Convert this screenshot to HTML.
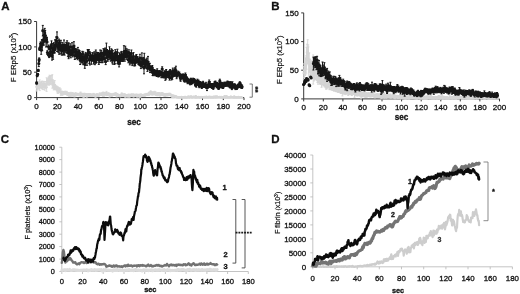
<!DOCTYPE html>
<html><head><meta charset="utf-8"><title>Figure</title>
<style>
html,body{margin:0;padding:0;background:#fff;}
body{width:520px;height:294px;overflow:hidden;font-family:"Liberation Sans",sans-serif;}
svg{display:block;filter:grayscale(1) blur(0.3px);}
svg text{font-family:"Liberation Sans",sans-serif;}
</style></head><body>
<svg width="520" height="294" viewBox="0 0 520 294">
<rect width="520" height="294" fill="#fff"/>
<text x="1.2" y="10.0" font-size="11.5" text-anchor="start" font-weight="bold" fill="#111" stroke="#111" stroke-width="0.3" >A</text>
<text x="271.2" y="9.6" font-size="11.5" text-anchor="start" font-weight="bold" fill="#111" stroke="#111" stroke-width="0.3" >B</text>
<text x="0.8" y="143.2" font-size="11.5" text-anchor="start" font-weight="bold" fill="#111" stroke="#111" stroke-width="0.3" >C</text>
<text x="271.2" y="142.8" font-size="11.5" text-anchor="start" font-weight="bold" fill="#111" stroke="#111" stroke-width="0.3" >D</text>
<path d="M36.6 21.5V97.6H244.0" stroke="#383838" stroke-width="1.0" fill="none"/><text x="31.6" y="100.47999999999999" font-size="8" text-anchor="end" font-weight="normal" fill="#111" stroke="#111" stroke-width="0.3" >0</text><text x="31.6" y="75.11333333333333" font-size="8" text-anchor="end" font-weight="normal" fill="#111" stroke="#111" stroke-width="0.3" >50</text><text x="31.6" y="49.74666666666667" font-size="8" text-anchor="end" font-weight="normal" fill="#111" stroke="#111" stroke-width="0.3" >100</text><text x="31.6" y="24.38" font-size="8" text-anchor="end" font-weight="normal" fill="#111" stroke="#111" stroke-width="0.3" >150</text><text x="36.6" y="109.4" font-size="8" text-anchor="middle" font-weight="normal" fill="#111" stroke="#111" stroke-width="0.3" >0</text><text x="57.34" y="109.4" font-size="8" text-anchor="middle" font-weight="normal" fill="#111" stroke="#111" stroke-width="0.3" >20</text><text x="78.08" y="109.4" font-size="8" text-anchor="middle" font-weight="normal" fill="#111" stroke="#111" stroke-width="0.3" >40</text><text x="98.82" y="109.4" font-size="8" text-anchor="middle" font-weight="normal" fill="#111" stroke="#111" stroke-width="0.3" >60</text><text x="119.56" y="109.4" font-size="8" text-anchor="middle" font-weight="normal" fill="#111" stroke="#111" stroke-width="0.3" >80</text><text x="140.3" y="109.4" font-size="8" text-anchor="middle" font-weight="normal" fill="#111" stroke="#111" stroke-width="0.3" >100</text><text x="161.04" y="109.4" font-size="8" text-anchor="middle" font-weight="normal" fill="#111" stroke="#111" stroke-width="0.3" >120</text><text x="181.78" y="109.4" font-size="8" text-anchor="middle" font-weight="normal" fill="#111" stroke="#111" stroke-width="0.3" >140</text><text x="202.51999999999998" y="109.4" font-size="8" text-anchor="middle" font-weight="normal" fill="#111" stroke="#111" stroke-width="0.3" >160</text><text x="223.26" y="109.4" font-size="8" text-anchor="middle" font-weight="normal" fill="#111" stroke="#111" stroke-width="0.3" >180</text><text x="244.0" y="109.4" font-size="8" text-anchor="middle" font-weight="normal" fill="#111" stroke="#111" stroke-width="0.3" >200</text><path d="M34.1 97.6H36.6M34.1 72.2H36.6M34.1 46.9H36.6M34.1 21.5H36.6M36.6 97.6v2.5M57.3 97.6v2.5M78.1 97.6v2.5M98.8 97.6v2.5M119.6 97.6v2.5M140.3 97.6v2.5M161.0 97.6v2.5M181.8 97.6v2.5M202.5 97.6v2.5M223.3 97.6v2.5M244.0 97.6v2.5" stroke="#383838" stroke-width="1.0" fill="none"/>
<path d="M36.4 82.4V91.1M35.4 82.4h2.0M35.4 91.1h2.0M37.3 84.3V88.5M36.3 84.3h2.0M36.3 88.5h2.0M37.5 83.6V89.7M36.5 83.6h2.0M36.5 89.7h2.0M38.1 83.6V88.2M37.1 83.6h2.0M37.1 88.2h2.0M38.9 81.6V89.0M37.9 81.6h2.0M37.9 89.0h2.0M39.1 83.4V88.7M38.1 83.4h2.0M38.1 88.7h2.0M39.7 79.9V90.6M38.7 79.9h2.0M38.7 90.6h2.0M40.1 83.4V87.8M39.1 83.4h2.0M39.1 87.8h2.0M40.5 82.2V87.8M39.5 82.2h2.0M39.5 87.8h2.0M41.3 81.6V87.8M40.3 81.6h2.0M40.3 87.8h2.0M41.9 81.9V88.4M40.9 81.9h2.0M40.9 88.4h2.0M42.1 81.1V88.6M41.1 81.1h2.0M41.1 88.6h2.0M42.6 83.2V89.6M41.6 83.2h2.0M41.6 89.6h2.0M43.5 81.3V87.9M42.5 81.3h2.0M42.5 87.9h2.0M43.9 83.4V89.4M42.9 83.4h2.0M42.9 89.4h2.0M44.6 81.5V87.7M43.6 81.5h2.0M43.6 87.7h2.0M44.8 83.7V90.2M43.8 83.7h2.0M43.8 90.2h2.0M45.6 83.0V87.8M44.6 83.0h2.0M44.6 87.8h2.0M46.0 81.5V88.3M45.0 81.5h2.0M45.0 88.3h2.0M46.6 77.8V91.4M45.6 77.8h2.0M45.6 91.4h2.0M47.0 80.6V87.6M46.0 80.6h2.0M46.0 87.6h2.0M47.4 79.0V84.5M46.4 79.0h2.0M46.4 84.5h2.0M48.1 78.4V84.6M47.1 78.4h2.0M47.1 84.6h2.0M48.6 77.1V84.7M47.6 77.1h2.0M47.6 84.7h2.0M49.1 76.7V85.2M48.1 76.7h2.0M48.1 85.2h2.0M49.5 75.2V84.4M48.5 75.2h2.0M48.5 84.4h2.0M49.9 76.8V83.0M48.9 76.8h2.0M48.9 83.0h2.0M50.5 75.5V84.4M49.5 75.5h2.0M49.5 84.4h2.0M51.1 75.8V83.5M50.1 75.8h2.0M50.1 83.5h2.0M51.8 75.3V84.8M50.8 75.3h2.0M50.8 84.8h2.0M52.3 74.7V88.2M51.3 74.7h2.0M51.3 88.2h2.0M52.9 79.7V85.6M51.9 79.7h2.0M51.9 85.6h2.0M53.0 80.6V87.6M52.0 80.6h2.0M52.0 87.6h2.0M53.7 82.4V89.9M52.7 82.4h2.0M52.7 89.9h2.0M54.1 81.8V88.5M53.1 81.8h2.0M53.1 88.5h2.0M54.7 80.5V89.6M53.7 80.5h2.0M53.7 89.6h2.0M55.1 84.5V89.4M54.1 84.5h2.0M54.1 89.4h2.0M55.9 86.0V89.7M54.9 86.0h2.0M54.9 89.7h2.0M56.5 85.9V89.7M55.5 85.9h2.0M55.5 89.7h2.0M56.8 86.6V90.8M55.8 86.6h2.0M55.8 90.8h2.0M57.3 88.6V93.0M56.3 88.6h2.0M56.3 93.0h2.0M58.0 86.9V93.4M57.0 86.9h2.0M57.0 93.4h2.0M58.3 87.5V92.2M57.3 87.5h2.0M57.3 92.2h2.0M59.1 89.2V92.6M58.1 89.2h2.0M58.1 92.6h2.0M59.5 88.2V92.4M58.5 88.2h2.0M58.5 92.4h2.0M59.7 87.8V91.6M58.7 87.8h2.0M58.7 91.6h2.0M60.6 91.0V94.1M59.6 91.0h2.0M59.6 94.1h2.0M60.8 89.0V95.6M59.8 89.0h2.0M59.8 95.6h2.0M61.4 91.2V93.9M60.4 91.2h2.0M60.4 93.9h2.0M61.9 91.3V94.3M60.9 91.3h2.0M60.9 94.3h2.0M62.4 92.8V95.3M61.4 92.8h2.0M61.4 95.3h2.0M62.9 91.4V94.0M61.9 91.4h2.0M61.9 94.0h2.0M63.5 91.5V94.7M62.5 91.5h2.0M62.5 94.7h2.0M63.9 91.6V93.9M62.9 91.6h2.0M62.9 93.9h2.0M64.6 91.7V93.8M63.6 91.7h2.0M63.6 93.8h2.0M65.1 91.2V93.5M64.1 91.2h2.0M64.1 93.5h2.0M65.4 92.3V94.5M64.4 92.3h2.0M64.4 94.5h2.0M66.2 92.3V94.6M65.2 92.3h2.0M65.2 94.6h2.0M66.6 91.3V93.3M65.6 91.3h2.0M65.6 93.3h2.0M67.3 92.6V95.4M66.3 92.6h2.0M66.3 95.4h2.0M67.5 92.5V94.1M66.5 92.5h2.0M66.5 94.1h2.0M68.0 93.1V95.4M67.0 93.1h2.0M67.0 95.4h2.0M68.9 93.6V96.3M67.9 93.6h2.0M67.9 96.3h2.0M69.1 92.7V94.4M68.1 92.7h2.0M68.1 94.4h2.0M70.0 94.1V96.4M69.0 94.1h2.0M69.0 96.4h2.0M70.3 93.3V95.4M69.3 93.3h2.0M69.3 95.4h2.0M70.7 92.3V96.6M69.7 92.3h2.0M69.7 96.6h2.0M71.2 93.1V94.8M70.2 93.1h2.0M70.2 94.8h2.0M71.7 93.8V96.1M70.7 93.8h2.0M70.7 96.1h2.0M72.3 92.8V94.7M71.3 92.8h2.0M71.3 94.7h2.0M72.8 92.9V94.3M71.8 92.9h2.0M71.8 94.3h2.0M73.4 93.9V96.3M72.4 93.9h2.0M72.4 96.3h2.0M74.1 93.5V95.2M73.1 93.5h2.0M73.1 95.2h2.0M74.5 93.3V97.0M73.5 93.3h2.0M73.5 97.0h2.0M75.0 94.0V95.7M74.0 94.0h2.0M74.0 95.7h2.0M75.5 92.6V96.0M74.5 92.6h2.0M74.5 96.0h2.0M76.1 94.1V95.7M75.1 94.1h2.0M75.1 95.7h2.0M76.4 93.1V95.5M75.4 93.1h2.0M75.4 95.5h2.0M76.9 93.9V95.5M75.9 93.9h2.0M75.9 95.5h2.0M77.4 93.4V95.3M76.4 93.4h2.0M76.4 95.3h2.0M78.2 93.9V95.7M77.2 93.9h2.0M77.2 95.7h2.0M78.8 93.4V95.0M77.8 93.4h2.0M77.8 95.0h2.0M78.9 93.6V94.9M77.9 93.6h2.0M77.9 94.9h2.0M79.9 94.1V96.1M78.9 94.1h2.0M78.9 96.1h2.0M80.0 93.0V94.7M79.0 93.0h2.0M79.0 94.7h2.0M80.6 92.0V95.6M79.6 92.0h2.0M79.6 95.6h2.0M81.0 94.5V96.1M80.0 94.5h2.0M80.0 96.1h2.0M81.5 93.0V95.3M80.5 93.0h2.0M80.5 95.3h2.0M82.2 93.7V95.2M81.2 93.7h2.0M81.2 95.2h2.0M82.7 93.5V94.9M81.7 93.5h2.0M81.7 94.9h2.0M83.1 94.9V97.0M82.1 94.9h2.0M82.1 97.0h2.0M83.9 94.1V97.3M82.9 94.1h2.0M82.9 97.3h2.0M84.1 93.4V94.7M83.1 93.4h2.0M83.1 94.7h2.0M85.0 93.4V95.4M84.0 93.4h2.0M84.0 95.4h2.0M85.5 94.0V95.4M84.5 94.0h2.0M84.5 95.4h2.0M85.8 94.2V95.7M84.8 94.2h2.0M84.8 95.7h2.0M86.6 93.7V97.2M85.6 93.7h2.0M85.6 97.2h2.0M86.9 93.9V96.8M85.9 93.9h2.0M85.9 96.8h2.0M87.4 94.5V96.6M86.4 94.5h2.0M86.4 96.6h2.0M87.8 94.0V96.0M86.8 94.0h2.0M86.8 96.0h2.0M88.6 93.6V95.4M87.6 93.6h2.0M87.6 95.4h2.0M88.9 94.1V95.5M87.9 94.1h2.0M87.9 95.5h2.0M89.4 94.9V96.2M88.4 94.9h2.0M88.4 96.2h2.0M90.0 93.5V96.1M89.0 93.5h2.0M89.0 96.1h2.0M90.7 94.4V96.5M89.7 94.4h2.0M89.7 96.5h2.0M91.0 94.2V95.5M90.0 94.2h2.0M90.0 95.5h2.0M91.4 94.1V95.7M90.4 94.1h2.0M90.4 95.7h2.0M92.2 94.6V96.4M91.2 94.6h2.0M91.2 96.4h2.0M92.7 94.3V95.6M91.7 94.3h2.0M91.7 95.6h2.0M93.0 94.1V96.0M92.0 94.1h2.0M92.0 96.0h2.0M93.5 93.4V94.8M92.5 93.4h2.0M92.5 94.8h2.0M94.4 93.9V95.4M93.4 93.9h2.0M93.4 95.4h2.0M94.8 95.1V96.5M93.8 95.1h2.0M93.8 96.5h2.0M95.3 95.1V96.8M94.3 95.1h2.0M94.3 96.8h2.0M95.5 95.2V97.2M94.5 95.2h2.0M94.5 97.2h2.0M96.3 94.2V96.2M95.3 94.2h2.0M95.3 96.2h2.0M96.9 93.8V95.3M95.9 93.8h2.0M95.9 95.3h2.0M97.1 94.5V96.6M96.1 94.5h2.0M96.1 96.6h2.0M97.7 93.8V95.6M96.7 93.8h2.0M96.7 95.6h2.0M98.3 94.7V96.2M97.3 94.7h2.0M97.3 96.2h2.0M98.6 94.5V95.8M97.6 94.5h2.0M97.6 95.8h2.0M99.2 94.4V95.9M98.2 94.4h2.0M98.2 95.9h2.0M99.7 93.1V94.9M98.7 93.1h2.0M98.7 94.9h2.0M100.2 93.2V95.1M99.2 93.2h2.0M99.2 95.1h2.0M100.9 93.2V95.2M99.9 93.2h2.0M99.9 95.2h2.0M101.4 93.7V95.4M100.4 93.7h2.0M100.4 95.4h2.0M102.1 93.1V94.9M101.1 93.1h2.0M101.1 94.9h2.0M102.3 92.7V94.9M101.3 92.7h2.0M101.3 94.9h2.0M102.9 92.1V96.4M101.9 92.1h2.0M101.9 96.4h2.0M103.3 92.9V94.9M102.3 92.9h2.0M102.3 94.9h2.0M104.1 92.3V96.3M103.1 92.3h2.0M103.1 96.3h2.0M104.5 92.9V94.8M103.5 92.9h2.0M103.5 94.8h2.0M105.1 93.1V94.9M104.1 93.1h2.0M104.1 94.9h2.0M105.8 92.6V95.0M104.8 92.6h2.0M104.8 95.0h2.0M106.3 93.0V94.6M105.3 93.0h2.0M105.3 94.6h2.0M106.5 91.4V95.6M105.5 91.4h2.0M105.5 95.6h2.0M107.3 93.4V95.5M106.3 93.4h2.0M106.3 95.5h2.0M107.8 93.2V95.0M106.8 93.2h2.0M106.8 95.0h2.0M108.0 93.0V94.6M107.0 93.0h2.0M107.0 94.6h2.0M108.6 94.0V95.5M107.6 94.0h2.0M107.6 95.5h2.0M109.0 93.1V95.4M108.0 93.1h2.0M108.0 95.4h2.0M109.5 93.3V97.1M108.5 93.3h2.0M108.5 97.1h2.0M110.3 93.5V95.4M109.3 93.5h2.0M109.3 95.4h2.0M110.8 94.5V96.2M109.8 94.5h2.0M109.8 96.2h2.0M111.1 93.8V95.6M110.1 93.8h2.0M110.1 95.6h2.0M111.9 94.2V96.2M110.9 94.2h2.0M110.9 96.2h2.0M112.3 94.3V95.8M111.3 94.3h2.0M111.3 95.8h2.0M112.8 93.9V95.2M111.8 93.9h2.0M111.8 95.2h2.0M113.4 94.2V95.4M112.4 94.2h2.0M112.4 95.4h2.0M113.7 93.3V95.0M112.7 93.3h2.0M112.7 95.0h2.0M114.6 93.7V95.3M113.6 93.7h2.0M113.6 95.3h2.0M115.0 93.6V95.4M114.0 93.6h2.0M114.0 95.4h2.0M115.4 92.8V94.8M114.4 92.8h2.0M114.4 94.8h2.0M116.1 92.9V94.8M115.1 92.9h2.0M115.1 94.8h2.0M116.6 94.0V96.9M115.6 94.0h2.0M115.6 96.9h2.0M116.8 93.7V95.6M115.8 93.7h2.0M115.8 95.6h2.0M117.4 93.5V95.4M116.4 93.5h2.0M116.4 95.4h2.0M117.9 94.7V95.9M116.9 94.7h2.0M116.9 95.9h2.0M118.6 94.4V96.4M117.6 94.4h2.0M117.6 96.4h2.0M119.1 94.8V96.0M118.1 94.8h2.0M118.1 96.0h2.0M119.7 94.6V96.0M118.7 94.6h2.0M118.7 96.0h2.0M120.3 95.5V96.7M119.3 95.5h2.0M119.3 96.7h2.0M120.7 94.9V96.3M119.7 94.9h2.0M119.7 96.3h2.0M121.2 94.6V96.0M120.2 94.6h2.0M120.2 96.0h2.0M121.7 93.2V94.4M120.7 93.2h2.0M120.7 94.4h2.0M122.4 93.4V95.0M121.4 93.4h2.0M121.4 95.0h2.0M122.6 94.6V96.2M121.6 94.6h2.0M121.6 96.2h2.0M123.2 94.6V96.2M122.2 94.6h2.0M122.2 96.2h2.0M123.5 94.6V96.4M122.5 94.6h2.0M122.5 96.4h2.0M124.2 94.0V96.4M123.2 94.0h2.0M123.2 96.4h2.0M124.6 93.8V95.2M123.6 93.8h2.0M123.6 95.2h2.0M125.3 95.7V97.2M124.3 95.7h2.0M124.3 97.2h2.0M125.7 94.7V96.5M124.7 94.7h2.0M124.7 96.5h2.0M126.4 94.7V96.5M125.4 94.7h2.0M125.4 96.5h2.0M126.6 94.6V95.8M125.6 94.6h2.0M125.6 95.8h2.0M127.3 95.3V96.9M126.3 95.3h2.0M126.3 96.9h2.0M127.7 95.1V96.8M126.7 95.1h2.0M126.7 96.8h2.0M128.3 94.4V95.8M127.3 94.4h2.0M127.3 95.8h2.0M128.7 94.0V97.0M127.7 94.0h2.0M127.7 97.0h2.0M129.5 95.8V97.0M128.5 95.8h2.0M128.5 97.0h2.0M130.1 94.8V96.4M129.1 94.8h2.0M129.1 96.4h2.0M130.6 94.7V95.8M129.6 94.7h2.0M129.6 95.8h2.0M130.7 94.3V95.9M129.7 94.3h2.0M129.7 95.9h2.0M131.5 93.9V95.5M130.5 93.9h2.0M130.5 95.5h2.0M131.9 95.1V96.3M130.9 95.1h2.0M130.9 96.3h2.0M132.7 94.3V95.9M131.7 94.3h2.0M131.7 95.9h2.0M133.1 94.1V95.3M132.1 94.1h2.0M132.1 95.3h2.0M133.6 95.6V96.9M132.6 95.6h2.0M132.6 96.9h2.0M134.2 94.4V95.6M133.2 94.4h2.0M133.2 95.6h2.0M134.8 94.3V96.0M133.8 94.3h2.0M133.8 96.0h2.0M135.3 94.8V96.1M134.3 94.8h2.0M134.3 96.1h2.0M135.7 94.7V96.2M134.7 94.7h2.0M134.7 96.2h2.0M136.1 94.2V96.0M135.1 94.2h2.0M135.1 96.0h2.0M136.8 94.2V95.6M135.8 94.2h2.0M135.8 95.6h2.0M137.1 95.7V97.0M136.1 95.7h2.0M136.1 97.0h2.0M137.5 95.5V96.6M136.5 95.5h2.0M136.5 96.6h2.0M138.2 94.7V96.5M137.2 94.7h2.0M137.2 96.5h2.0M138.8 94.2V97.1M137.8 94.2h2.0M137.8 97.1h2.0M139.1 94.9V96.5M138.1 94.9h2.0M138.1 96.5h2.0M140.0 95.4V97.1M139.0 95.4h2.0M139.0 97.1h2.0M140.5 94.0V97.0M139.5 94.0h2.0M139.5 97.0h2.0M140.6 94.4V95.6M139.6 94.4h2.0M139.6 95.6h2.0M141.4 94.2V95.9M140.4 94.2h2.0M140.4 95.9h2.0M141.7 94.6V95.8M140.7 94.6h2.0M140.7 95.8h2.0M142.3 95.2V96.5M141.3 95.2h2.0M141.3 96.5h2.0M143.0 94.9V96.3M142.0 94.9h2.0M142.0 96.3h2.0M143.6 94.4V95.8M142.6 94.4h2.0M142.6 95.8h2.0M143.9 95.0V96.2M142.9 95.0h2.0M142.9 96.2h2.0M144.4 94.3V96.2M143.4 94.3h2.0M143.4 96.2h2.0M144.8 93.9V95.9M143.8 93.9h2.0M143.8 95.9h2.0M145.3 94.6V95.9M144.3 94.6h2.0M144.3 95.9h2.0M146.0 94.0V95.2M145.0 94.0h2.0M145.0 95.2h2.0M146.4 93.4V95.5M145.4 93.4h2.0M145.4 95.5h2.0M147.2 93.9V95.5M146.2 93.9h2.0M146.2 95.5h2.0M147.6 93.5V95.1M146.6 93.5h2.0M146.6 95.1h2.0M148.2 93.8V95.3M147.2 93.8h2.0M147.2 95.3h2.0M148.7 92.7V95.2M147.7 92.7h2.0M147.7 95.2h2.0M148.9 92.7V95.3M147.9 92.7h2.0M147.9 95.3h2.0M149.5 92.0V93.7M148.5 92.0h2.0M148.5 93.7h2.0M150.3 92.6V94.8M149.3 92.6h2.0M149.3 94.8h2.0M150.7 90.8V93.2M149.7 90.8h2.0M149.7 93.2h2.0M151.1 91.7V93.9M150.1 91.7h2.0M150.1 93.9h2.0M151.8 92.2V95.0M150.8 92.2h2.0M150.8 95.0h2.0M152.3 91.9V94.6M151.3 91.9h2.0M151.3 94.6h2.0M152.9 92.7V95.0M151.9 92.7h2.0M151.9 95.0h2.0M153.4 91.9V94.5M152.4 91.9h2.0M152.4 94.5h2.0M153.7 92.1V94.0M152.7 92.1h2.0M152.7 94.0h2.0M154.2 92.6V94.7M153.2 92.6h2.0M153.2 94.7h2.0M154.6 91.3V93.9M153.6 91.3h2.0M153.6 93.9h2.0M155.5 91.8V94.7M154.5 91.8h2.0M154.5 94.7h2.0M155.7 93.1V95.3M154.7 93.1h2.0M154.7 95.3h2.0M156.2 93.0V95.1M155.2 93.0h2.0M155.2 95.1h2.0M157.0 93.1V95.7M156.0 93.1h2.0M156.0 95.7h2.0M157.5 93.5V95.3M156.5 93.5h2.0M156.5 95.3h2.0M158.1 92.5V95.0M157.1 92.5h2.0M157.1 95.0h2.0M158.3 93.6V95.6M157.3 93.6h2.0M157.3 95.6h2.0M159.1 92.5V95.1M158.1 92.5h2.0M158.1 95.1h2.0M159.5 93.0V95.3M158.5 93.0h2.0M158.5 95.3h2.0M159.8 93.8V96.0M158.8 93.8h2.0M158.8 96.0h2.0M160.4 93.5V95.6M159.4 93.5h2.0M159.4 95.6h2.0M161.1 92.9V94.8M160.1 92.9h2.0M160.1 94.8h2.0M161.6 93.8V95.4M160.6 93.8h2.0M160.6 95.4h2.0M162.1 92.6V94.5M161.1 92.6h2.0M161.1 94.5h2.0M162.7 92.9V94.5M161.7 92.9h2.0M161.7 94.5h2.0M162.9 93.5V95.4M161.9 93.5h2.0M161.9 95.4h2.0M163.7 93.8V95.7M162.7 93.8h2.0M162.7 95.7h2.0M164.1 94.2V96.1M163.1 94.2h2.0M163.1 96.1h2.0M164.8 93.7V95.5M163.8 93.7h2.0M163.8 95.5h2.0M165.1 94.1V96.4M164.1 94.1h2.0M164.1 96.4h2.0M165.7 93.5V94.8M164.7 93.5h2.0M164.7 94.8h2.0M166.2 93.8V95.8M165.2 93.8h2.0M165.2 95.8h2.0M166.8 93.6V95.9M165.8 93.6h2.0M165.8 95.9h2.0M167.2 93.4V95.5M166.2 93.4h2.0M166.2 95.5h2.0M167.8 93.6V95.7M166.8 93.6h2.0M166.8 95.7h2.0M168.2 93.8V95.6M167.2 93.8h2.0M167.2 95.6h2.0M169.0 93.3V95.4M168.0 93.3h2.0M168.0 95.4h2.0M169.4 93.7V95.2M168.4 93.7h2.0M168.4 95.2h2.0M169.8 93.2V95.2M168.8 93.2h2.0M168.8 95.2h2.0M170.3 93.7V95.1M169.3 93.7h2.0M169.3 95.1h2.0M170.8 94.3V95.7M169.8 94.3h2.0M169.8 95.7h2.0M171.4 94.7V96.1M170.4 94.7h2.0M170.4 96.1h2.0M172.1 95.4V97.2M171.1 95.4h2.0M171.1 97.2h2.0M172.6 95.1V97.6M171.6 95.1h2.0M171.6 97.6h2.0M172.8 95.0V96.4M171.8 95.0h2.0M171.8 96.4h2.0M173.6 95.4V97.6M172.6 95.4h2.0M172.6 97.6h2.0M174.1 96.0V96.9M173.1 96.0h2.0M173.1 96.9h2.0M174.7 95.6V96.4M173.7 95.6h2.0M173.7 96.4h2.0M175.2 95.7V96.7M174.2 95.7h2.0M174.2 96.7h2.0M175.7 96.2V97.4M174.7 96.2h2.0M174.7 97.4h2.0M176.2 96.0V96.9M175.2 96.0h2.0M175.2 96.9h2.0M176.6 96.6V97.5M175.6 96.6h2.0M175.6 97.5h2.0M176.9 96.9V97.6M175.9 96.9h2.0M175.9 97.6h2.0M177.6 97.0V97.6M176.6 97.0h2.0M176.6 97.6h2.0M178.3 97.4V97.6M177.3 97.4h2.0M177.3 97.6h2.0M178.7 96.8V97.4M177.7 96.8h2.0M177.7 97.4h2.0M179.0 96.7V97.5M178.0 96.7h2.0M178.0 97.5h2.0M179.5 97.3V97.6M178.5 97.3h2.0M178.5 97.6h2.0M180.4 97.3V97.6M179.4 97.3h2.0M179.4 97.6h2.0M180.9 97.3V97.6M179.9 97.3h2.0M179.9 97.6h2.0M181.4 96.6V97.2M180.4 96.6h2.0M180.4 97.2h2.0M181.8 97.2V97.6M180.8 97.2h2.0M180.8 97.6h2.0M182.3 97.0V97.6M181.3 97.0h2.0M181.3 97.6h2.0M183.0 97.3V97.6M182.0 97.3h2.0M182.0 97.6h2.0M183.5 97.3V97.6M182.5 97.3h2.0M182.5 97.6h2.0M183.8 96.9V97.6M182.8 96.9h2.0M182.8 97.6h2.0M184.5 97.3V97.6M183.5 97.3h2.0M183.5 97.6h2.0M185.1 96.4V97.6M184.1 96.4h2.0M184.1 97.6h2.0M185.3 97.3V97.6M184.3 97.3h2.0M184.3 97.6h2.0M186.0 97.3V97.6M185.0 97.3h2.0M185.0 97.6h2.0M186.5 97.2V97.6M185.5 97.2h2.0M185.5 97.6h2.0M187.0 97.3V97.6M186.0 97.3h2.0M186.0 97.6h2.0M187.3 97.0V97.6M186.3 97.0h2.0M186.3 97.6h2.0M188.1 96.4V96.9M187.1 96.4h2.0M187.1 96.9h2.0M188.6 96.3V97.0M187.6 96.3h2.0M187.6 97.0h2.0M189.0 97.2V97.6M188.0 97.2h2.0M188.0 97.6h2.0M189.7 97.2V97.6M188.7 97.2h2.0M188.7 97.6h2.0M189.9 96.3V97.5M188.9 96.3h2.0M188.9 97.5h2.0M190.6 96.2V97.0M189.6 96.2h2.0M189.6 97.0h2.0M191.2 96.2V97.3M190.2 96.2h2.0M190.2 97.3h2.0M191.5 96.5V97.0M190.5 96.5h2.0M190.5 97.0h2.0M192.0 97.3V97.6M191.0 97.3h2.0M191.0 97.6h2.0M192.9 96.8V97.3M191.9 96.8h2.0M191.9 97.3h2.0M193.0 97.0V97.6M192.0 97.0h2.0M192.0 97.6h2.0M193.6 96.5V97.2M192.6 96.5h2.0M192.6 97.2h2.0M194.3 96.3V97.5M193.3 96.3h2.0M193.3 97.5h2.0M194.8 96.9V97.6M193.8 96.9h2.0M193.8 97.6h2.0M195.2 97.2V97.6M194.2 97.2h2.0M194.2 97.6h2.0M195.8 95.8V96.7M194.8 95.8h2.0M194.8 96.7h2.0M196.2 97.3V97.6M195.2 97.3h2.0M195.2 97.6h2.0M196.6 97.0V97.6M195.6 97.0h2.0M195.6 97.6h2.0M197.3 96.8V97.5M196.3 96.8h2.0M196.3 97.5h2.0M197.9 97.1V97.6M196.9 97.1h2.0M196.9 97.6h2.0M198.3 97.1V97.6M197.3 97.1h2.0M197.3 97.6h2.0M198.8 96.6V97.2M197.8 96.6h2.0M197.8 97.2h2.0M199.5 96.9V97.6M198.5 96.9h2.0M198.5 97.6h2.0M200.1 96.9V97.6M199.1 96.9h2.0M199.1 97.6h2.0M200.4 97.3V97.6M199.4 97.3h2.0M199.4 97.6h2.0M201.1 96.6V97.2M200.1 96.6h2.0M200.1 97.2h2.0M201.3 97.3V97.6M200.3 97.3h2.0M200.3 97.6h2.0M202.2 97.1V97.6M201.2 97.1h2.0M201.2 97.6h2.0M202.7 96.6V97.6M201.7 96.6h2.0M201.7 97.6h2.0M203.2 96.8V97.5M202.2 96.8h2.0M202.2 97.5h2.0M203.5 97.2V97.6M202.5 97.2h2.0M202.5 97.6h2.0M204.2 96.6V97.1M203.2 96.6h2.0M203.2 97.1h2.0M204.6 97.0V97.6M203.6 97.0h2.0M203.6 97.6h2.0M205.2 97.3V97.6M204.2 97.3h2.0M204.2 97.6h2.0M205.4 97.0V97.6M204.4 97.0h2.0M204.4 97.6h2.0M206.3 96.4V97.1M205.3 96.4h2.0M205.3 97.1h2.0M206.7 97.3V97.6M205.7 97.3h2.0M205.7 97.6h2.0M207.3 97.4V97.6M206.3 97.4h2.0M206.3 97.6h2.0M207.7 97.2V97.6M206.7 97.2h2.0M206.7 97.6h2.0M208.2 96.9V97.6M207.2 96.9h2.0M207.2 97.6h2.0M208.9 96.7V97.3M207.9 96.7h2.0M207.9 97.3h2.0M209.0 96.6V97.2M208.0 96.6h2.0M208.0 97.2h2.0M209.9 96.3V97.6M208.9 96.3h2.0M208.9 97.6h2.0M210.3 97.3V97.6M209.3 97.3h2.0M209.3 97.6h2.0M211.0 97.3V97.6M210.0 97.3h2.0M210.0 97.6h2.0M211.2 96.5V97.5M210.2 96.5h2.0M210.2 97.5h2.0M211.9 97.1V97.6M210.9 97.1h2.0M210.9 97.6h2.0M212.2 96.9V97.6M211.2 96.9h2.0M211.2 97.6h2.0M212.7 97.2V97.6M211.7 97.2h2.0M211.7 97.6h2.0M213.6 96.3V97.0M212.6 96.3h2.0M212.6 97.0h2.0M213.9 97.3V97.6M212.9 97.3h2.0M212.9 97.6h2.0M214.2 96.8V97.3M213.2 96.8h2.0M213.2 97.3h2.0M215.1 96.3V96.8M214.1 96.3h2.0M214.1 96.8h2.0M215.6 96.2V97.4M214.6 96.2h2.0M214.6 97.4h2.0M215.8 97.2V97.6M214.8 97.2h2.0M214.8 97.6h2.0M216.4 96.9V97.6M215.4 96.9h2.0M215.4 97.6h2.0M216.9 96.2V96.8M215.9 96.2h2.0M215.9 96.8h2.0M217.4 96.9V97.5M216.4 96.9h2.0M216.4 97.5h2.0M218.2 97.1V97.5M217.2 97.1h2.0M217.2 97.5h2.0M218.8 96.9V97.4M217.8 96.9h2.0M217.8 97.4h2.0M219.3 96.7V97.5M218.3 96.7h2.0M218.3 97.5h2.0M219.8 96.7V97.2M218.8 96.7h2.0M218.8 97.2h2.0M220.1 96.8V97.4M219.1 96.8h2.0M219.1 97.4h2.0M220.5 97.2V97.6M219.5 97.2h2.0M219.5 97.6h2.0M221.3 96.7V97.1M220.3 96.7h2.0M220.3 97.1h2.0M221.7 97.3V97.6M220.7 97.3h2.0M220.7 97.6h2.0M222.4 97.3V97.6M221.4 97.3h2.0M221.4 97.6h2.0M222.9 97.3V97.6M221.9 97.3h2.0M221.9 97.6h2.0M223.1 96.9V97.6M222.1 96.9h2.0M222.1 97.6h2.0M223.7 96.6V97.2M222.7 96.6h2.0M222.7 97.2h2.0M224.2 97.4V97.6M223.2 97.4h2.0M223.2 97.6h2.0M224.7 95.9V96.4M223.7 95.9h2.0M223.7 96.4h2.0M225.4 97.2V97.6M224.4 97.2h2.0M224.4 97.6h2.0M225.8 97.0V97.6M224.8 97.0h2.0M224.8 97.6h2.0M226.5 96.0V96.4M225.5 96.0h2.0M225.5 96.4h2.0M226.8 97.2V97.6M225.8 97.2h2.0M225.8 97.6h2.0M227.3 97.3V97.6M226.3 97.3h2.0M226.3 97.6h2.0M227.7 97.0V97.4M226.7 97.0h2.0M226.7 97.4h2.0M228.3 97.3V97.6M227.3 97.3h2.0M227.3 97.6h2.0M229.0 97.1V97.6M228.0 97.1h2.0M228.0 97.6h2.0M229.6 96.9V97.3M228.6 96.9h2.0M228.6 97.3h2.0M229.9 97.0V97.6M228.9 97.0h2.0M228.9 97.6h2.0M230.5 96.8V97.5M229.5 96.8h2.0M229.5 97.5h2.0M230.9 96.2V96.9M229.9 96.2h2.0M229.9 96.9h2.0M231.5 97.0V97.6M230.5 97.0h2.0M230.5 97.6h2.0M232.1 97.0V97.4M231.1 97.0h2.0M231.1 97.4h2.0M232.4 96.8V97.4M231.4 96.8h2.0M231.4 97.4h2.0M233.2 97.3V97.6M232.2 97.3h2.0M232.2 97.6h2.0M233.4 97.3V97.6M232.4 97.3h2.0M232.4 97.6h2.0M234.2 96.3V96.8M233.2 96.3h2.0M233.2 96.8h2.0M234.9 97.4V97.6M233.9 97.4h2.0M233.9 97.6h2.0M235.3 97.1V97.6M234.3 97.1h2.0M234.3 97.6h2.0M235.8 96.6V97.6M234.8 96.6h2.0M234.8 97.6h2.0M236.2 97.3V97.6M235.2 97.3h2.0M235.2 97.6h2.0M236.9 97.4V97.6M235.9 97.4h2.0M235.9 97.6h2.0M237.3 97.3V97.6M236.3 97.3h2.0M236.3 97.6h2.0M237.7 97.4V97.6M236.7 97.4h2.0M236.7 97.6h2.0M238.3 96.8V97.3M237.3 96.8h2.0M237.3 97.3h2.0M239.0 97.0V97.5M238.0 97.0h2.0M238.0 97.5h2.0M239.3 97.3V97.6M238.3 97.3h2.0M238.3 97.6h2.0M240.0 97.2V97.6M239.0 97.2h2.0M239.0 97.6h2.0M240.6 97.1V97.6M239.6 97.1h2.0M239.6 97.6h2.0M241.0 96.9V97.6M240.0 96.9h2.0M240.0 97.6h2.0M241.6 97.2V97.6M240.6 97.2h2.0M240.6 97.6h2.0M242.0 97.3V97.6M241.0 97.3h2.0M241.0 97.6h2.0" stroke="#d6d6d6" stroke-width="0.9" fill="none"/><path d="M35.2 86.7a1.2 1.2 0 1 0 2.4 0a1.2 1.2 0 1 0 -2.4 0zM36.1 86.4a1.2 1.2 0 1 0 2.4 0a1.2 1.2 0 1 0 -2.4 0zM36.3 86.7a1.2 1.2 0 1 0 2.4 0a1.2 1.2 0 1 0 -2.4 0zM36.9 85.9a1.2 1.2 0 1 0 2.4 0a1.2 1.2 0 1 0 -2.4 0zM37.7 85.3a1.2 1.2 0 1 0 2.4 0a1.2 1.2 0 1 0 -2.4 0zM37.9 86.1a1.2 1.2 0 1 0 2.4 0a1.2 1.2 0 1 0 -2.4 0zM38.5 85.2a1.2 1.2 0 1 0 2.4 0a1.2 1.2 0 1 0 -2.4 0zM38.9 85.6a1.2 1.2 0 1 0 2.4 0a1.2 1.2 0 1 0 -2.4 0zM39.3 85.0a1.2 1.2 0 1 0 2.4 0a1.2 1.2 0 1 0 -2.4 0zM40.1 84.7a1.2 1.2 0 1 0 2.4 0a1.2 1.2 0 1 0 -2.4 0zM40.7 85.1a1.2 1.2 0 1 0 2.4 0a1.2 1.2 0 1 0 -2.4 0zM40.9 84.8a1.2 1.2 0 1 0 2.4 0a1.2 1.2 0 1 0 -2.4 0zM41.4 86.4a1.2 1.2 0 1 0 2.4 0a1.2 1.2 0 1 0 -2.4 0zM42.3 84.6a1.2 1.2 0 1 0 2.4 0a1.2 1.2 0 1 0 -2.4 0zM42.7 86.4a1.2 1.2 0 1 0 2.4 0a1.2 1.2 0 1 0 -2.4 0zM43.4 84.6a1.2 1.2 0 1 0 2.4 0a1.2 1.2 0 1 0 -2.4 0zM43.6 86.9a1.2 1.2 0 1 0 2.4 0a1.2 1.2 0 1 0 -2.4 0zM44.4 85.4a1.2 1.2 0 1 0 2.4 0a1.2 1.2 0 1 0 -2.4 0zM44.8 84.9a1.2 1.2 0 1 0 2.4 0a1.2 1.2 0 1 0 -2.4 0zM45.4 84.6a1.2 1.2 0 1 0 2.4 0a1.2 1.2 0 1 0 -2.4 0zM45.8 84.1a1.2 1.2 0 1 0 2.4 0a1.2 1.2 0 1 0 -2.4 0zM46.2 81.7a1.2 1.2 0 1 0 2.4 0a1.2 1.2 0 1 0 -2.4 0zM46.9 81.5a1.2 1.2 0 1 0 2.4 0a1.2 1.2 0 1 0 -2.4 0zM47.4 80.9a1.2 1.2 0 1 0 2.4 0a1.2 1.2 0 1 0 -2.4 0zM47.9 80.9a1.2 1.2 0 1 0 2.4 0a1.2 1.2 0 1 0 -2.4 0zM48.3 79.8a1.2 1.2 0 1 0 2.4 0a1.2 1.2 0 1 0 -2.4 0zM48.7 79.9a1.2 1.2 0 1 0 2.4 0a1.2 1.2 0 1 0 -2.4 0zM49.3 80.0a1.2 1.2 0 1 0 2.4 0a1.2 1.2 0 1 0 -2.4 0zM49.9 79.6a1.2 1.2 0 1 0 2.4 0a1.2 1.2 0 1 0 -2.4 0zM50.6 80.0a1.2 1.2 0 1 0 2.4 0a1.2 1.2 0 1 0 -2.4 0zM51.1 81.4a1.2 1.2 0 1 0 2.4 0a1.2 1.2 0 1 0 -2.4 0zM51.7 82.6a1.2 1.2 0 1 0 2.4 0a1.2 1.2 0 1 0 -2.4 0zM51.8 84.1a1.2 1.2 0 1 0 2.4 0a1.2 1.2 0 1 0 -2.4 0zM52.5 86.1a1.2 1.2 0 1 0 2.4 0a1.2 1.2 0 1 0 -2.4 0zM52.9 85.1a1.2 1.2 0 1 0 2.4 0a1.2 1.2 0 1 0 -2.4 0zM53.5 85.0a1.2 1.2 0 1 0 2.4 0a1.2 1.2 0 1 0 -2.4 0zM53.9 87.0a1.2 1.2 0 1 0 2.4 0a1.2 1.2 0 1 0 -2.4 0zM54.7 87.8a1.2 1.2 0 1 0 2.4 0a1.2 1.2 0 1 0 -2.4 0zM55.3 87.8a1.2 1.2 0 1 0 2.4 0a1.2 1.2 0 1 0 -2.4 0zM55.6 88.7a1.2 1.2 0 1 0 2.4 0a1.2 1.2 0 1 0 -2.4 0zM56.1 90.8a1.2 1.2 0 1 0 2.4 0a1.2 1.2 0 1 0 -2.4 0zM56.8 90.2a1.2 1.2 0 1 0 2.4 0a1.2 1.2 0 1 0 -2.4 0zM57.1 89.8a1.2 1.2 0 1 0 2.4 0a1.2 1.2 0 1 0 -2.4 0zM57.9 90.9a1.2 1.2 0 1 0 2.4 0a1.2 1.2 0 1 0 -2.4 0zM58.3 90.3a1.2 1.2 0 1 0 2.4 0a1.2 1.2 0 1 0 -2.4 0zM58.5 89.7a1.2 1.2 0 1 0 2.4 0a1.2 1.2 0 1 0 -2.4 0zM59.4 92.6a1.2 1.2 0 1 0 2.4 0a1.2 1.2 0 1 0 -2.4 0zM59.6 92.3a1.2 1.2 0 1 0 2.4 0a1.2 1.2 0 1 0 -2.4 0zM60.2 92.5a1.2 1.2 0 1 0 2.4 0a1.2 1.2 0 1 0 -2.4 0zM60.7 92.8a1.2 1.2 0 1 0 2.4 0a1.2 1.2 0 1 0 -2.4 0zM61.2 94.0a1.2 1.2 0 1 0 2.4 0a1.2 1.2 0 1 0 -2.4 0zM61.7 92.7a1.2 1.2 0 1 0 2.4 0a1.2 1.2 0 1 0 -2.4 0zM62.3 93.1a1.2 1.2 0 1 0 2.4 0a1.2 1.2 0 1 0 -2.4 0zM62.7 92.8a1.2 1.2 0 1 0 2.4 0a1.2 1.2 0 1 0 -2.4 0zM63.4 92.7a1.2 1.2 0 1 0 2.4 0a1.2 1.2 0 1 0 -2.4 0zM63.9 92.4a1.2 1.2 0 1 0 2.4 0a1.2 1.2 0 1 0 -2.4 0zM64.2 93.4a1.2 1.2 0 1 0 2.4 0a1.2 1.2 0 1 0 -2.4 0zM65.0 93.5a1.2 1.2 0 1 0 2.4 0a1.2 1.2 0 1 0 -2.4 0zM65.4 92.3a1.2 1.2 0 1 0 2.4 0a1.2 1.2 0 1 0 -2.4 0zM66.1 94.0a1.2 1.2 0 1 0 2.4 0a1.2 1.2 0 1 0 -2.4 0zM66.3 93.3a1.2 1.2 0 1 0 2.4 0a1.2 1.2 0 1 0 -2.4 0zM66.8 94.2a1.2 1.2 0 1 0 2.4 0a1.2 1.2 0 1 0 -2.4 0zM67.7 95.0a1.2 1.2 0 1 0 2.4 0a1.2 1.2 0 1 0 -2.4 0zM67.9 93.5a1.2 1.2 0 1 0 2.4 0a1.2 1.2 0 1 0 -2.4 0zM68.8 95.3a1.2 1.2 0 1 0 2.4 0a1.2 1.2 0 1 0 -2.4 0zM69.1 94.3a1.2 1.2 0 1 0 2.4 0a1.2 1.2 0 1 0 -2.4 0zM69.5 94.4a1.2 1.2 0 1 0 2.4 0a1.2 1.2 0 1 0 -2.4 0zM70.0 93.9a1.2 1.2 0 1 0 2.4 0a1.2 1.2 0 1 0 -2.4 0zM70.5 94.9a1.2 1.2 0 1 0 2.4 0a1.2 1.2 0 1 0 -2.4 0zM71.1 93.7a1.2 1.2 0 1 0 2.4 0a1.2 1.2 0 1 0 -2.4 0zM71.6 93.6a1.2 1.2 0 1 0 2.4 0a1.2 1.2 0 1 0 -2.4 0zM72.2 95.1a1.2 1.2 0 1 0 2.4 0a1.2 1.2 0 1 0 -2.4 0zM72.9 94.4a1.2 1.2 0 1 0 2.4 0a1.2 1.2 0 1 0 -2.4 0zM73.3 95.2a1.2 1.2 0 1 0 2.4 0a1.2 1.2 0 1 0 -2.4 0zM73.8 94.8a1.2 1.2 0 1 0 2.4 0a1.2 1.2 0 1 0 -2.4 0zM74.3 94.3a1.2 1.2 0 1 0 2.4 0a1.2 1.2 0 1 0 -2.4 0zM74.9 94.9a1.2 1.2 0 1 0 2.4 0a1.2 1.2 0 1 0 -2.4 0zM75.2 94.3a1.2 1.2 0 1 0 2.4 0a1.2 1.2 0 1 0 -2.4 0zM75.7 94.7a1.2 1.2 0 1 0 2.4 0a1.2 1.2 0 1 0 -2.4 0zM76.2 94.4a1.2 1.2 0 1 0 2.4 0a1.2 1.2 0 1 0 -2.4 0zM77.0 94.8a1.2 1.2 0 1 0 2.4 0a1.2 1.2 0 1 0 -2.4 0zM77.6 94.2a1.2 1.2 0 1 0 2.4 0a1.2 1.2 0 1 0 -2.4 0zM77.7 94.2a1.2 1.2 0 1 0 2.4 0a1.2 1.2 0 1 0 -2.4 0zM78.7 95.1a1.2 1.2 0 1 0 2.4 0a1.2 1.2 0 1 0 -2.4 0zM78.8 93.9a1.2 1.2 0 1 0 2.4 0a1.2 1.2 0 1 0 -2.4 0zM79.4 93.8a1.2 1.2 0 1 0 2.4 0a1.2 1.2 0 1 0 -2.4 0zM79.8 95.3a1.2 1.2 0 1 0 2.4 0a1.2 1.2 0 1 0 -2.4 0zM80.3 94.2a1.2 1.2 0 1 0 2.4 0a1.2 1.2 0 1 0 -2.4 0zM81.0 94.5a1.2 1.2 0 1 0 2.4 0a1.2 1.2 0 1 0 -2.4 0zM81.5 94.2a1.2 1.2 0 1 0 2.4 0a1.2 1.2 0 1 0 -2.4 0zM81.9 96.0a1.2 1.2 0 1 0 2.4 0a1.2 1.2 0 1 0 -2.4 0zM82.7 95.7a1.2 1.2 0 1 0 2.4 0a1.2 1.2 0 1 0 -2.4 0zM82.9 94.0a1.2 1.2 0 1 0 2.4 0a1.2 1.2 0 1 0 -2.4 0zM83.8 94.4a1.2 1.2 0 1 0 2.4 0a1.2 1.2 0 1 0 -2.4 0zM84.3 94.7a1.2 1.2 0 1 0 2.4 0a1.2 1.2 0 1 0 -2.4 0zM84.6 95.0a1.2 1.2 0 1 0 2.4 0a1.2 1.2 0 1 0 -2.4 0zM85.4 95.4a1.2 1.2 0 1 0 2.4 0a1.2 1.2 0 1 0 -2.4 0zM85.7 95.4a1.2 1.2 0 1 0 2.4 0a1.2 1.2 0 1 0 -2.4 0zM86.2 95.6a1.2 1.2 0 1 0 2.4 0a1.2 1.2 0 1 0 -2.4 0zM86.6 95.0a1.2 1.2 0 1 0 2.4 0a1.2 1.2 0 1 0 -2.4 0zM87.4 94.5a1.2 1.2 0 1 0 2.4 0a1.2 1.2 0 1 0 -2.4 0zM87.7 94.8a1.2 1.2 0 1 0 2.4 0a1.2 1.2 0 1 0 -2.4 0zM88.2 95.6a1.2 1.2 0 1 0 2.4 0a1.2 1.2 0 1 0 -2.4 0zM88.8 94.8a1.2 1.2 0 1 0 2.4 0a1.2 1.2 0 1 0 -2.4 0zM89.5 95.5a1.2 1.2 0 1 0 2.4 0a1.2 1.2 0 1 0 -2.4 0zM89.8 94.8a1.2 1.2 0 1 0 2.4 0a1.2 1.2 0 1 0 -2.4 0zM90.2 94.9a1.2 1.2 0 1 0 2.4 0a1.2 1.2 0 1 0 -2.4 0zM91.0 95.5a1.2 1.2 0 1 0 2.4 0a1.2 1.2 0 1 0 -2.4 0zM91.5 95.0a1.2 1.2 0 1 0 2.4 0a1.2 1.2 0 1 0 -2.4 0zM91.8 95.0a1.2 1.2 0 1 0 2.4 0a1.2 1.2 0 1 0 -2.4 0zM92.3 94.1a1.2 1.2 0 1 0 2.4 0a1.2 1.2 0 1 0 -2.4 0zM93.2 94.6a1.2 1.2 0 1 0 2.4 0a1.2 1.2 0 1 0 -2.4 0zM93.6 95.8a1.2 1.2 0 1 0 2.4 0a1.2 1.2 0 1 0 -2.4 0zM94.1 96.0a1.2 1.2 0 1 0 2.4 0a1.2 1.2 0 1 0 -2.4 0zM94.3 96.2a1.2 1.2 0 1 0 2.4 0a1.2 1.2 0 1 0 -2.4 0zM95.1 95.2a1.2 1.2 0 1 0 2.4 0a1.2 1.2 0 1 0 -2.4 0zM95.7 94.5a1.2 1.2 0 1 0 2.4 0a1.2 1.2 0 1 0 -2.4 0zM95.9 95.5a1.2 1.2 0 1 0 2.4 0a1.2 1.2 0 1 0 -2.4 0zM96.5 94.7a1.2 1.2 0 1 0 2.4 0a1.2 1.2 0 1 0 -2.4 0zM97.1 95.5a1.2 1.2 0 1 0 2.4 0a1.2 1.2 0 1 0 -2.4 0zM97.4 95.1a1.2 1.2 0 1 0 2.4 0a1.2 1.2 0 1 0 -2.4 0zM98.0 95.2a1.2 1.2 0 1 0 2.4 0a1.2 1.2 0 1 0 -2.4 0zM98.5 94.0a1.2 1.2 0 1 0 2.4 0a1.2 1.2 0 1 0 -2.4 0zM99.0 94.1a1.2 1.2 0 1 0 2.4 0a1.2 1.2 0 1 0 -2.4 0zM99.7 94.2a1.2 1.2 0 1 0 2.4 0a1.2 1.2 0 1 0 -2.4 0zM100.2 94.5a1.2 1.2 0 1 0 2.4 0a1.2 1.2 0 1 0 -2.4 0zM100.9 94.0a1.2 1.2 0 1 0 2.4 0a1.2 1.2 0 1 0 -2.4 0zM101.1 93.8a1.2 1.2 0 1 0 2.4 0a1.2 1.2 0 1 0 -2.4 0zM101.7 94.3a1.2 1.2 0 1 0 2.4 0a1.2 1.2 0 1 0 -2.4 0zM102.1 93.9a1.2 1.2 0 1 0 2.4 0a1.2 1.2 0 1 0 -2.4 0zM102.9 94.3a1.2 1.2 0 1 0 2.4 0a1.2 1.2 0 1 0 -2.4 0zM103.3 93.9a1.2 1.2 0 1 0 2.4 0a1.2 1.2 0 1 0 -2.4 0zM103.9 94.0a1.2 1.2 0 1 0 2.4 0a1.2 1.2 0 1 0 -2.4 0zM104.6 93.8a1.2 1.2 0 1 0 2.4 0a1.2 1.2 0 1 0 -2.4 0zM105.1 93.8a1.2 1.2 0 1 0 2.4 0a1.2 1.2 0 1 0 -2.4 0zM105.3 93.5a1.2 1.2 0 1 0 2.4 0a1.2 1.2 0 1 0 -2.4 0zM106.1 94.5a1.2 1.2 0 1 0 2.4 0a1.2 1.2 0 1 0 -2.4 0zM106.6 94.1a1.2 1.2 0 1 0 2.4 0a1.2 1.2 0 1 0 -2.4 0zM106.8 93.8a1.2 1.2 0 1 0 2.4 0a1.2 1.2 0 1 0 -2.4 0zM107.4 94.7a1.2 1.2 0 1 0 2.4 0a1.2 1.2 0 1 0 -2.4 0zM107.8 94.3a1.2 1.2 0 1 0 2.4 0a1.2 1.2 0 1 0 -2.4 0zM108.3 95.2a1.2 1.2 0 1 0 2.4 0a1.2 1.2 0 1 0 -2.4 0zM109.1 94.4a1.2 1.2 0 1 0 2.4 0a1.2 1.2 0 1 0 -2.4 0zM109.6 95.3a1.2 1.2 0 1 0 2.4 0a1.2 1.2 0 1 0 -2.4 0zM109.9 94.7a1.2 1.2 0 1 0 2.4 0a1.2 1.2 0 1 0 -2.4 0zM110.7 95.2a1.2 1.2 0 1 0 2.4 0a1.2 1.2 0 1 0 -2.4 0zM111.1 95.1a1.2 1.2 0 1 0 2.4 0a1.2 1.2 0 1 0 -2.4 0zM111.6 94.6a1.2 1.2 0 1 0 2.4 0a1.2 1.2 0 1 0 -2.4 0zM112.2 94.8a1.2 1.2 0 1 0 2.4 0a1.2 1.2 0 1 0 -2.4 0zM112.5 94.1a1.2 1.2 0 1 0 2.4 0a1.2 1.2 0 1 0 -2.4 0zM113.4 94.5a1.2 1.2 0 1 0 2.4 0a1.2 1.2 0 1 0 -2.4 0zM113.8 94.5a1.2 1.2 0 1 0 2.4 0a1.2 1.2 0 1 0 -2.4 0zM114.2 93.8a1.2 1.2 0 1 0 2.4 0a1.2 1.2 0 1 0 -2.4 0zM114.9 93.9a1.2 1.2 0 1 0 2.4 0a1.2 1.2 0 1 0 -2.4 0zM115.4 95.4a1.2 1.2 0 1 0 2.4 0a1.2 1.2 0 1 0 -2.4 0zM115.6 94.7a1.2 1.2 0 1 0 2.4 0a1.2 1.2 0 1 0 -2.4 0zM116.2 94.5a1.2 1.2 0 1 0 2.4 0a1.2 1.2 0 1 0 -2.4 0zM116.7 95.3a1.2 1.2 0 1 0 2.4 0a1.2 1.2 0 1 0 -2.4 0zM117.4 95.4a1.2 1.2 0 1 0 2.4 0a1.2 1.2 0 1 0 -2.4 0zM117.9 95.4a1.2 1.2 0 1 0 2.4 0a1.2 1.2 0 1 0 -2.4 0zM118.5 95.3a1.2 1.2 0 1 0 2.4 0a1.2 1.2 0 1 0 -2.4 0zM119.1 96.1a1.2 1.2 0 1 0 2.4 0a1.2 1.2 0 1 0 -2.4 0zM119.5 95.6a1.2 1.2 0 1 0 2.4 0a1.2 1.2 0 1 0 -2.4 0zM120.0 95.3a1.2 1.2 0 1 0 2.4 0a1.2 1.2 0 1 0 -2.4 0zM120.5 93.8a1.2 1.2 0 1 0 2.4 0a1.2 1.2 0 1 0 -2.4 0zM121.2 94.2a1.2 1.2 0 1 0 2.4 0a1.2 1.2 0 1 0 -2.4 0zM121.4 95.4a1.2 1.2 0 1 0 2.4 0a1.2 1.2 0 1 0 -2.4 0zM122.0 95.4a1.2 1.2 0 1 0 2.4 0a1.2 1.2 0 1 0 -2.4 0zM122.3 95.5a1.2 1.2 0 1 0 2.4 0a1.2 1.2 0 1 0 -2.4 0zM123.0 95.2a1.2 1.2 0 1 0 2.4 0a1.2 1.2 0 1 0 -2.4 0zM123.4 94.5a1.2 1.2 0 1 0 2.4 0a1.2 1.2 0 1 0 -2.4 0zM124.1 96.4a1.2 1.2 0 1 0 2.4 0a1.2 1.2 0 1 0 -2.4 0zM124.5 95.6a1.2 1.2 0 1 0 2.4 0a1.2 1.2 0 1 0 -2.4 0zM125.2 95.6a1.2 1.2 0 1 0 2.4 0a1.2 1.2 0 1 0 -2.4 0zM125.4 95.2a1.2 1.2 0 1 0 2.4 0a1.2 1.2 0 1 0 -2.4 0zM126.1 96.1a1.2 1.2 0 1 0 2.4 0a1.2 1.2 0 1 0 -2.4 0zM126.5 95.9a1.2 1.2 0 1 0 2.4 0a1.2 1.2 0 1 0 -2.4 0zM127.1 95.1a1.2 1.2 0 1 0 2.4 0a1.2 1.2 0 1 0 -2.4 0zM127.5 95.5a1.2 1.2 0 1 0 2.4 0a1.2 1.2 0 1 0 -2.4 0zM128.3 96.4a1.2 1.2 0 1 0 2.4 0a1.2 1.2 0 1 0 -2.4 0zM128.9 95.6a1.2 1.2 0 1 0 2.4 0a1.2 1.2 0 1 0 -2.4 0zM129.4 95.2a1.2 1.2 0 1 0 2.4 0a1.2 1.2 0 1 0 -2.4 0zM129.5 95.1a1.2 1.2 0 1 0 2.4 0a1.2 1.2 0 1 0 -2.4 0zM130.3 94.7a1.2 1.2 0 1 0 2.4 0a1.2 1.2 0 1 0 -2.4 0zM130.7 95.7a1.2 1.2 0 1 0 2.4 0a1.2 1.2 0 1 0 -2.4 0zM131.5 95.1a1.2 1.2 0 1 0 2.4 0a1.2 1.2 0 1 0 -2.4 0zM131.9 94.7a1.2 1.2 0 1 0 2.4 0a1.2 1.2 0 1 0 -2.4 0zM132.4 96.2a1.2 1.2 0 1 0 2.4 0a1.2 1.2 0 1 0 -2.4 0zM133.0 95.0a1.2 1.2 0 1 0 2.4 0a1.2 1.2 0 1 0 -2.4 0zM133.6 95.1a1.2 1.2 0 1 0 2.4 0a1.2 1.2 0 1 0 -2.4 0zM134.1 95.4a1.2 1.2 0 1 0 2.4 0a1.2 1.2 0 1 0 -2.4 0zM134.5 95.4a1.2 1.2 0 1 0 2.4 0a1.2 1.2 0 1 0 -2.4 0zM134.9 95.1a1.2 1.2 0 1 0 2.4 0a1.2 1.2 0 1 0 -2.4 0zM135.6 94.9a1.2 1.2 0 1 0 2.4 0a1.2 1.2 0 1 0 -2.4 0zM135.9 96.3a1.2 1.2 0 1 0 2.4 0a1.2 1.2 0 1 0 -2.4 0zM136.3 96.0a1.2 1.2 0 1 0 2.4 0a1.2 1.2 0 1 0 -2.4 0zM137.0 95.6a1.2 1.2 0 1 0 2.4 0a1.2 1.2 0 1 0 -2.4 0zM137.6 95.6a1.2 1.2 0 1 0 2.4 0a1.2 1.2 0 1 0 -2.4 0zM137.9 95.7a1.2 1.2 0 1 0 2.4 0a1.2 1.2 0 1 0 -2.4 0zM138.8 96.3a1.2 1.2 0 1 0 2.4 0a1.2 1.2 0 1 0 -2.4 0zM139.3 95.5a1.2 1.2 0 1 0 2.4 0a1.2 1.2 0 1 0 -2.4 0zM139.4 95.0a1.2 1.2 0 1 0 2.4 0a1.2 1.2 0 1 0 -2.4 0zM140.2 95.0a1.2 1.2 0 1 0 2.4 0a1.2 1.2 0 1 0 -2.4 0zM140.5 95.2a1.2 1.2 0 1 0 2.4 0a1.2 1.2 0 1 0 -2.4 0zM141.1 95.9a1.2 1.2 0 1 0 2.4 0a1.2 1.2 0 1 0 -2.4 0zM141.8 95.6a1.2 1.2 0 1 0 2.4 0a1.2 1.2 0 1 0 -2.4 0zM142.4 95.1a1.2 1.2 0 1 0 2.4 0a1.2 1.2 0 1 0 -2.4 0zM142.7 95.6a1.2 1.2 0 1 0 2.4 0a1.2 1.2 0 1 0 -2.4 0zM143.2 95.3a1.2 1.2 0 1 0 2.4 0a1.2 1.2 0 1 0 -2.4 0zM143.6 94.9a1.2 1.2 0 1 0 2.4 0a1.2 1.2 0 1 0 -2.4 0zM144.1 95.2a1.2 1.2 0 1 0 2.4 0a1.2 1.2 0 1 0 -2.4 0zM144.8 94.6a1.2 1.2 0 1 0 2.4 0a1.2 1.2 0 1 0 -2.4 0zM145.2 94.5a1.2 1.2 0 1 0 2.4 0a1.2 1.2 0 1 0 -2.4 0zM146.0 94.7a1.2 1.2 0 1 0 2.4 0a1.2 1.2 0 1 0 -2.4 0zM146.4 94.3a1.2 1.2 0 1 0 2.4 0a1.2 1.2 0 1 0 -2.4 0zM147.0 94.5a1.2 1.2 0 1 0 2.4 0a1.2 1.2 0 1 0 -2.4 0zM147.5 93.9a1.2 1.2 0 1 0 2.4 0a1.2 1.2 0 1 0 -2.4 0zM147.7 94.0a1.2 1.2 0 1 0 2.4 0a1.2 1.2 0 1 0 -2.4 0zM148.3 92.8a1.2 1.2 0 1 0 2.4 0a1.2 1.2 0 1 0 -2.4 0zM149.1 93.7a1.2 1.2 0 1 0 2.4 0a1.2 1.2 0 1 0 -2.4 0zM149.5 92.0a1.2 1.2 0 1 0 2.4 0a1.2 1.2 0 1 0 -2.4 0zM149.9 92.8a1.2 1.2 0 1 0 2.4 0a1.2 1.2 0 1 0 -2.4 0zM150.6 93.6a1.2 1.2 0 1 0 2.4 0a1.2 1.2 0 1 0 -2.4 0zM151.1 93.3a1.2 1.2 0 1 0 2.4 0a1.2 1.2 0 1 0 -2.4 0zM151.7 93.8a1.2 1.2 0 1 0 2.4 0a1.2 1.2 0 1 0 -2.4 0zM152.2 93.2a1.2 1.2 0 1 0 2.4 0a1.2 1.2 0 1 0 -2.4 0zM152.5 93.0a1.2 1.2 0 1 0 2.4 0a1.2 1.2 0 1 0 -2.4 0zM153.0 93.7a1.2 1.2 0 1 0 2.4 0a1.2 1.2 0 1 0 -2.4 0zM153.4 92.6a1.2 1.2 0 1 0 2.4 0a1.2 1.2 0 1 0 -2.4 0zM154.3 93.3a1.2 1.2 0 1 0 2.4 0a1.2 1.2 0 1 0 -2.4 0zM154.5 94.2a1.2 1.2 0 1 0 2.4 0a1.2 1.2 0 1 0 -2.4 0zM155.0 94.0a1.2 1.2 0 1 0 2.4 0a1.2 1.2 0 1 0 -2.4 0zM155.8 94.4a1.2 1.2 0 1 0 2.4 0a1.2 1.2 0 1 0 -2.4 0zM156.3 94.4a1.2 1.2 0 1 0 2.4 0a1.2 1.2 0 1 0 -2.4 0zM156.9 93.8a1.2 1.2 0 1 0 2.4 0a1.2 1.2 0 1 0 -2.4 0zM157.1 94.6a1.2 1.2 0 1 0 2.4 0a1.2 1.2 0 1 0 -2.4 0zM157.9 93.8a1.2 1.2 0 1 0 2.4 0a1.2 1.2 0 1 0 -2.4 0zM158.3 94.1a1.2 1.2 0 1 0 2.4 0a1.2 1.2 0 1 0 -2.4 0zM158.6 94.9a1.2 1.2 0 1 0 2.4 0a1.2 1.2 0 1 0 -2.4 0zM159.2 94.6a1.2 1.2 0 1 0 2.4 0a1.2 1.2 0 1 0 -2.4 0zM159.9 93.8a1.2 1.2 0 1 0 2.4 0a1.2 1.2 0 1 0 -2.4 0zM160.4 94.6a1.2 1.2 0 1 0 2.4 0a1.2 1.2 0 1 0 -2.4 0zM160.9 93.5a1.2 1.2 0 1 0 2.4 0a1.2 1.2 0 1 0 -2.4 0zM161.5 93.7a1.2 1.2 0 1 0 2.4 0a1.2 1.2 0 1 0 -2.4 0zM161.7 94.5a1.2 1.2 0 1 0 2.4 0a1.2 1.2 0 1 0 -2.4 0zM162.5 94.7a1.2 1.2 0 1 0 2.4 0a1.2 1.2 0 1 0 -2.4 0zM162.9 95.1a1.2 1.2 0 1 0 2.4 0a1.2 1.2 0 1 0 -2.4 0zM163.6 94.6a1.2 1.2 0 1 0 2.4 0a1.2 1.2 0 1 0 -2.4 0zM163.9 95.3a1.2 1.2 0 1 0 2.4 0a1.2 1.2 0 1 0 -2.4 0zM164.5 94.2a1.2 1.2 0 1 0 2.4 0a1.2 1.2 0 1 0 -2.4 0zM165.0 94.8a1.2 1.2 0 1 0 2.4 0a1.2 1.2 0 1 0 -2.4 0zM165.6 94.8a1.2 1.2 0 1 0 2.4 0a1.2 1.2 0 1 0 -2.4 0zM166.0 94.4a1.2 1.2 0 1 0 2.4 0a1.2 1.2 0 1 0 -2.4 0zM166.6 94.7a1.2 1.2 0 1 0 2.4 0a1.2 1.2 0 1 0 -2.4 0zM167.0 94.7a1.2 1.2 0 1 0 2.4 0a1.2 1.2 0 1 0 -2.4 0zM167.8 94.4a1.2 1.2 0 1 0 2.4 0a1.2 1.2 0 1 0 -2.4 0zM168.2 94.5a1.2 1.2 0 1 0 2.4 0a1.2 1.2 0 1 0 -2.4 0zM168.6 94.2a1.2 1.2 0 1 0 2.4 0a1.2 1.2 0 1 0 -2.4 0zM169.1 94.4a1.2 1.2 0 1 0 2.4 0a1.2 1.2 0 1 0 -2.4 0zM169.6 95.0a1.2 1.2 0 1 0 2.4 0a1.2 1.2 0 1 0 -2.4 0zM170.2 95.4a1.2 1.2 0 1 0 2.4 0a1.2 1.2 0 1 0 -2.4 0zM170.9 96.3a1.2 1.2 0 1 0 2.4 0a1.2 1.2 0 1 0 -2.4 0zM171.4 96.4a1.2 1.2 0 1 0 2.4 0a1.2 1.2 0 1 0 -2.4 0zM171.6 95.7a1.2 1.2 0 1 0 2.4 0a1.2 1.2 0 1 0 -2.4 0zM172.4 96.6a1.2 1.2 0 1 0 2.4 0a1.2 1.2 0 1 0 -2.4 0zM172.9 96.5a1.2 1.2 0 1 0 2.4 0a1.2 1.2 0 1 0 -2.4 0zM173.5 96.0a1.2 1.2 0 1 0 2.4 0a1.2 1.2 0 1 0 -2.4 0zM174.0 96.2a1.2 1.2 0 1 0 2.4 0a1.2 1.2 0 1 0 -2.4 0zM174.5 96.8a1.2 1.2 0 1 0 2.4 0a1.2 1.2 0 1 0 -2.4 0zM175.0 96.4a1.2 1.2 0 1 0 2.4 0a1.2 1.2 0 1 0 -2.4 0zM175.4 97.0a1.2 1.2 0 1 0 2.4 0a1.2 1.2 0 1 0 -2.4 0zM175.7 97.3a1.2 1.2 0 1 0 2.4 0a1.2 1.2 0 1 0 -2.4 0zM176.4 97.3a1.2 1.2 0 1 0 2.4 0a1.2 1.2 0 1 0 -2.4 0zM177.1 97.6a1.2 1.2 0 1 0 2.4 0a1.2 1.2 0 1 0 -2.4 0zM177.5 97.1a1.2 1.2 0 1 0 2.4 0a1.2 1.2 0 1 0 -2.4 0zM177.8 97.1a1.2 1.2 0 1 0 2.4 0a1.2 1.2 0 1 0 -2.4 0zM178.3 97.6a1.2 1.2 0 1 0 2.4 0a1.2 1.2 0 1 0 -2.4 0zM179.2 97.6a1.2 1.2 0 1 0 2.4 0a1.2 1.2 0 1 0 -2.4 0zM179.7 97.6a1.2 1.2 0 1 0 2.4 0a1.2 1.2 0 1 0 -2.4 0zM180.2 96.9a1.2 1.2 0 1 0 2.4 0a1.2 1.2 0 1 0 -2.4 0zM180.6 97.5a1.2 1.2 0 1 0 2.4 0a1.2 1.2 0 1 0 -2.4 0zM181.1 97.3a1.2 1.2 0 1 0 2.4 0a1.2 1.2 0 1 0 -2.4 0zM181.8 97.6a1.2 1.2 0 1 0 2.4 0a1.2 1.2 0 1 0 -2.4 0zM182.3 97.6a1.2 1.2 0 1 0 2.4 0a1.2 1.2 0 1 0 -2.4 0zM182.6 97.3a1.2 1.2 0 1 0 2.4 0a1.2 1.2 0 1 0 -2.4 0zM183.3 97.6a1.2 1.2 0 1 0 2.4 0a1.2 1.2 0 1 0 -2.4 0zM183.9 97.0a1.2 1.2 0 1 0 2.4 0a1.2 1.2 0 1 0 -2.4 0zM184.1 97.5a1.2 1.2 0 1 0 2.4 0a1.2 1.2 0 1 0 -2.4 0zM184.8 97.6a1.2 1.2 0 1 0 2.4 0a1.2 1.2 0 1 0 -2.4 0zM185.3 97.5a1.2 1.2 0 1 0 2.4 0a1.2 1.2 0 1 0 -2.4 0zM185.8 97.6a1.2 1.2 0 1 0 2.4 0a1.2 1.2 0 1 0 -2.4 0zM186.1 97.3a1.2 1.2 0 1 0 2.4 0a1.2 1.2 0 1 0 -2.4 0zM186.9 96.7a1.2 1.2 0 1 0 2.4 0a1.2 1.2 0 1 0 -2.4 0zM187.4 96.7a1.2 1.2 0 1 0 2.4 0a1.2 1.2 0 1 0 -2.4 0zM187.8 97.4a1.2 1.2 0 1 0 2.4 0a1.2 1.2 0 1 0 -2.4 0zM188.5 97.5a1.2 1.2 0 1 0 2.4 0a1.2 1.2 0 1 0 -2.4 0zM188.7 96.9a1.2 1.2 0 1 0 2.4 0a1.2 1.2 0 1 0 -2.4 0zM189.4 96.6a1.2 1.2 0 1 0 2.4 0a1.2 1.2 0 1 0 -2.4 0zM190.0 96.7a1.2 1.2 0 1 0 2.4 0a1.2 1.2 0 1 0 -2.4 0zM190.3 96.8a1.2 1.2 0 1 0 2.4 0a1.2 1.2 0 1 0 -2.4 0zM190.8 97.6a1.2 1.2 0 1 0 2.4 0a1.2 1.2 0 1 0 -2.4 0zM191.7 97.0a1.2 1.2 0 1 0 2.4 0a1.2 1.2 0 1 0 -2.4 0zM191.8 97.3a1.2 1.2 0 1 0 2.4 0a1.2 1.2 0 1 0 -2.4 0zM192.4 96.8a1.2 1.2 0 1 0 2.4 0a1.2 1.2 0 1 0 -2.4 0zM193.1 96.9a1.2 1.2 0 1 0 2.4 0a1.2 1.2 0 1 0 -2.4 0zM193.6 97.2a1.2 1.2 0 1 0 2.4 0a1.2 1.2 0 1 0 -2.4 0zM194.0 97.6a1.2 1.2 0 1 0 2.4 0a1.2 1.2 0 1 0 -2.4 0zM194.6 96.2a1.2 1.2 0 1 0 2.4 0a1.2 1.2 0 1 0 -2.4 0zM195.0 97.5a1.2 1.2 0 1 0 2.4 0a1.2 1.2 0 1 0 -2.4 0zM195.4 97.3a1.2 1.2 0 1 0 2.4 0a1.2 1.2 0 1 0 -2.4 0zM196.1 97.2a1.2 1.2 0 1 0 2.4 0a1.2 1.2 0 1 0 -2.4 0zM196.7 97.4a1.2 1.2 0 1 0 2.4 0a1.2 1.2 0 1 0 -2.4 0zM197.1 97.4a1.2 1.2 0 1 0 2.4 0a1.2 1.2 0 1 0 -2.4 0zM197.6 96.9a1.2 1.2 0 1 0 2.4 0a1.2 1.2 0 1 0 -2.4 0zM198.3 97.6a1.2 1.2 0 1 0 2.4 0a1.2 1.2 0 1 0 -2.4 0zM198.9 97.3a1.2 1.2 0 1 0 2.4 0a1.2 1.2 0 1 0 -2.4 0zM199.2 97.6a1.2 1.2 0 1 0 2.4 0a1.2 1.2 0 1 0 -2.4 0zM199.9 96.9a1.2 1.2 0 1 0 2.4 0a1.2 1.2 0 1 0 -2.4 0zM200.1 97.6a1.2 1.2 0 1 0 2.4 0a1.2 1.2 0 1 0 -2.4 0zM201.0 97.4a1.2 1.2 0 1 0 2.4 0a1.2 1.2 0 1 0 -2.4 0zM201.5 97.2a1.2 1.2 0 1 0 2.4 0a1.2 1.2 0 1 0 -2.4 0zM202.0 97.2a1.2 1.2 0 1 0 2.4 0a1.2 1.2 0 1 0 -2.4 0zM202.3 97.6a1.2 1.2 0 1 0 2.4 0a1.2 1.2 0 1 0 -2.4 0zM203.0 96.9a1.2 1.2 0 1 0 2.4 0a1.2 1.2 0 1 0 -2.4 0zM203.4 97.3a1.2 1.2 0 1 0 2.4 0a1.2 1.2 0 1 0 -2.4 0zM204.0 97.6a1.2 1.2 0 1 0 2.4 0a1.2 1.2 0 1 0 -2.4 0zM204.2 97.3a1.2 1.2 0 1 0 2.4 0a1.2 1.2 0 1 0 -2.4 0zM205.1 96.8a1.2 1.2 0 1 0 2.4 0a1.2 1.2 0 1 0 -2.4 0zM205.5 97.6a1.2 1.2 0 1 0 2.4 0a1.2 1.2 0 1 0 -2.4 0zM206.1 97.6a1.2 1.2 0 1 0 2.4 0a1.2 1.2 0 1 0 -2.4 0zM206.5 97.5a1.2 1.2 0 1 0 2.4 0a1.2 1.2 0 1 0 -2.4 0zM207.0 97.5a1.2 1.2 0 1 0 2.4 0a1.2 1.2 0 1 0 -2.4 0zM207.7 97.0a1.2 1.2 0 1 0 2.4 0a1.2 1.2 0 1 0 -2.4 0zM207.8 96.9a1.2 1.2 0 1 0 2.4 0a1.2 1.2 0 1 0 -2.4 0zM208.7 96.9a1.2 1.2 0 1 0 2.4 0a1.2 1.2 0 1 0 -2.4 0zM209.1 97.6a1.2 1.2 0 1 0 2.4 0a1.2 1.2 0 1 0 -2.4 0zM209.8 97.6a1.2 1.2 0 1 0 2.4 0a1.2 1.2 0 1 0 -2.4 0zM210.0 97.0a1.2 1.2 0 1 0 2.4 0a1.2 1.2 0 1 0 -2.4 0zM210.7 97.4a1.2 1.2 0 1 0 2.4 0a1.2 1.2 0 1 0 -2.4 0zM211.0 97.2a1.2 1.2 0 1 0 2.4 0a1.2 1.2 0 1 0 -2.4 0zM211.5 97.5a1.2 1.2 0 1 0 2.4 0a1.2 1.2 0 1 0 -2.4 0zM212.4 96.6a1.2 1.2 0 1 0 2.4 0a1.2 1.2 0 1 0 -2.4 0zM212.7 97.6a1.2 1.2 0 1 0 2.4 0a1.2 1.2 0 1 0 -2.4 0zM213.0 97.1a1.2 1.2 0 1 0 2.4 0a1.2 1.2 0 1 0 -2.4 0zM213.9 96.6a1.2 1.2 0 1 0 2.4 0a1.2 1.2 0 1 0 -2.4 0zM214.4 96.8a1.2 1.2 0 1 0 2.4 0a1.2 1.2 0 1 0 -2.4 0zM214.6 97.6a1.2 1.2 0 1 0 2.4 0a1.2 1.2 0 1 0 -2.4 0zM215.2 97.2a1.2 1.2 0 1 0 2.4 0a1.2 1.2 0 1 0 -2.4 0zM215.7 96.5a1.2 1.2 0 1 0 2.4 0a1.2 1.2 0 1 0 -2.4 0zM216.2 97.2a1.2 1.2 0 1 0 2.4 0a1.2 1.2 0 1 0 -2.4 0zM217.0 97.3a1.2 1.2 0 1 0 2.4 0a1.2 1.2 0 1 0 -2.4 0zM217.6 97.1a1.2 1.2 0 1 0 2.4 0a1.2 1.2 0 1 0 -2.4 0zM218.1 97.1a1.2 1.2 0 1 0 2.4 0a1.2 1.2 0 1 0 -2.4 0zM218.6 97.0a1.2 1.2 0 1 0 2.4 0a1.2 1.2 0 1 0 -2.4 0zM218.9 97.1a1.2 1.2 0 1 0 2.4 0a1.2 1.2 0 1 0 -2.4 0zM219.3 97.5a1.2 1.2 0 1 0 2.4 0a1.2 1.2 0 1 0 -2.4 0zM220.1 96.9a1.2 1.2 0 1 0 2.4 0a1.2 1.2 0 1 0 -2.4 0zM220.5 97.6a1.2 1.2 0 1 0 2.4 0a1.2 1.2 0 1 0 -2.4 0zM221.2 97.6a1.2 1.2 0 1 0 2.4 0a1.2 1.2 0 1 0 -2.4 0zM221.7 97.6a1.2 1.2 0 1 0 2.4 0a1.2 1.2 0 1 0 -2.4 0zM221.9 97.3a1.2 1.2 0 1 0 2.4 0a1.2 1.2 0 1 0 -2.4 0zM222.5 96.9a1.2 1.2 0 1 0 2.4 0a1.2 1.2 0 1 0 -2.4 0zM223.0 97.6a1.2 1.2 0 1 0 2.4 0a1.2 1.2 0 1 0 -2.4 0zM223.5 96.1a1.2 1.2 0 1 0 2.4 0a1.2 1.2 0 1 0 -2.4 0zM224.2 97.4a1.2 1.2 0 1 0 2.4 0a1.2 1.2 0 1 0 -2.4 0zM224.6 97.6a1.2 1.2 0 1 0 2.4 0a1.2 1.2 0 1 0 -2.4 0zM225.3 96.2a1.2 1.2 0 1 0 2.4 0a1.2 1.2 0 1 0 -2.4 0zM225.6 97.6a1.2 1.2 0 1 0 2.4 0a1.2 1.2 0 1 0 -2.4 0zM226.1 97.5a1.2 1.2 0 1 0 2.4 0a1.2 1.2 0 1 0 -2.4 0zM226.5 97.2a1.2 1.2 0 1 0 2.4 0a1.2 1.2 0 1 0 -2.4 0zM227.1 97.6a1.2 1.2 0 1 0 2.4 0a1.2 1.2 0 1 0 -2.4 0zM227.8 97.4a1.2 1.2 0 1 0 2.4 0a1.2 1.2 0 1 0 -2.4 0zM228.4 97.1a1.2 1.2 0 1 0 2.4 0a1.2 1.2 0 1 0 -2.4 0zM228.7 97.6a1.2 1.2 0 1 0 2.4 0a1.2 1.2 0 1 0 -2.4 0zM229.3 97.1a1.2 1.2 0 1 0 2.4 0a1.2 1.2 0 1 0 -2.4 0zM229.7 96.6a1.2 1.2 0 1 0 2.4 0a1.2 1.2 0 1 0 -2.4 0zM230.3 97.3a1.2 1.2 0 1 0 2.4 0a1.2 1.2 0 1 0 -2.4 0zM230.9 97.2a1.2 1.2 0 1 0 2.4 0a1.2 1.2 0 1 0 -2.4 0zM231.2 97.1a1.2 1.2 0 1 0 2.4 0a1.2 1.2 0 1 0 -2.4 0zM232.0 97.6a1.2 1.2 0 1 0 2.4 0a1.2 1.2 0 1 0 -2.4 0zM232.2 97.6a1.2 1.2 0 1 0 2.4 0a1.2 1.2 0 1 0 -2.4 0zM233.0 96.5a1.2 1.2 0 1 0 2.4 0a1.2 1.2 0 1 0 -2.4 0zM233.7 97.6a1.2 1.2 0 1 0 2.4 0a1.2 1.2 0 1 0 -2.4 0zM234.1 97.4a1.2 1.2 0 1 0 2.4 0a1.2 1.2 0 1 0 -2.4 0zM234.6 97.1a1.2 1.2 0 1 0 2.4 0a1.2 1.2 0 1 0 -2.4 0zM235.0 97.6a1.2 1.2 0 1 0 2.4 0a1.2 1.2 0 1 0 -2.4 0zM235.7 97.6a1.2 1.2 0 1 0 2.4 0a1.2 1.2 0 1 0 -2.4 0zM236.1 97.6a1.2 1.2 0 1 0 2.4 0a1.2 1.2 0 1 0 -2.4 0zM236.5 97.6a1.2 1.2 0 1 0 2.4 0a1.2 1.2 0 1 0 -2.4 0zM237.1 97.0a1.2 1.2 0 1 0 2.4 0a1.2 1.2 0 1 0 -2.4 0zM237.8 97.3a1.2 1.2 0 1 0 2.4 0a1.2 1.2 0 1 0 -2.4 0zM238.1 97.6a1.2 1.2 0 1 0 2.4 0a1.2 1.2 0 1 0 -2.4 0zM238.8 97.6a1.2 1.2 0 1 0 2.4 0a1.2 1.2 0 1 0 -2.4 0zM239.4 97.4a1.2 1.2 0 1 0 2.4 0a1.2 1.2 0 1 0 -2.4 0zM239.8 97.2a1.2 1.2 0 1 0 2.4 0a1.2 1.2 0 1 0 -2.4 0zM240.4 97.6a1.2 1.2 0 1 0 2.4 0a1.2 1.2 0 1 0 -2.4 0zM240.8 97.6a1.2 1.2 0 1 0 2.4 0a1.2 1.2 0 1 0 -2.4 0z" fill="#d6d6d6"/>
<path d="M36.6 81.9V84.1M35.6 81.9h2.0M35.6 84.1h2.0M37.2 74.3V76.7M36.2 74.3h2.0M36.2 76.7h2.0M37.7 73.5V75.2M36.7 73.5h2.0M36.7 75.2h2.0M38.3 69.4V71.4M37.3 69.4h2.0M37.3 71.4h2.0M38.8 60.6V66.6M37.8 60.6h2.0M37.8 66.6h2.0M39.2 57.9V61.5M38.2 57.9h2.0M38.2 61.5h2.0M39.6 47.4V50.3M38.6 47.4h2.0M38.6 50.3h2.0M40.3 45.7V49.0M39.3 45.7h2.0M39.3 49.0h2.0M40.6 41.9V45.6M39.6 41.9h2.0M39.6 45.6h2.0M41.2 45.9V54.3M40.2 45.9h2.0M40.2 54.3h2.0M41.8 40.0V47.8M40.8 40.0h2.0M40.8 47.8h2.0M42.2 39.5V50.7M41.2 39.5h2.0M41.2 50.7h2.0M42.8 25.4V36.0M41.8 25.4h2.0M41.8 36.0h2.0M43.3 35.4V44.2M42.3 35.4h2.0M42.3 44.2h2.0M43.8 37.8V45.2M42.8 37.8h2.0M42.8 45.2h2.0M44.3 31.3V39.2M43.3 31.3h2.0M43.3 39.2h2.0M44.7 28.4V37.7M43.7 28.4h2.0M43.7 37.7h2.0M45.2 30.4V41.4M44.2 30.4h2.0M44.2 41.4h2.0M46.0 35.2V47.0M45.0 35.2h2.0M45.0 47.0h2.0M46.5 37.6V41.3M45.5 37.6h2.0M45.5 41.3h2.0M47.0 37.3V46.5M46.0 37.3h2.0M46.0 46.5h2.0M47.4 50.7V54.3M46.4 50.7h2.0M46.4 54.3h2.0M48.1 52.4V55.4M47.1 52.4h2.0M47.1 55.4h2.0M48.7 45.0V49.4M47.7 45.0h2.0M47.7 49.4h2.0M49.2 54.3V57.6M48.2 54.3h2.0M48.2 57.6h2.0M49.7 46.3V49.6M48.7 46.3h2.0M48.7 49.6h2.0M50.1 51.7V55.5M49.1 51.7h2.0M49.1 55.5h2.0M50.6 49.7V52.8M49.6 49.7h2.0M49.6 52.8h2.0M51.2 43.9V48.7M50.2 43.9h2.0M50.2 48.7h2.0M51.5 40.9V49.2M50.5 40.9h2.0M50.5 49.2h2.0M52.0 51.4V60.1M51.0 51.4h2.0M51.0 60.1h2.0M52.5 47.0V57.7M51.5 47.0h2.0M51.5 57.7h2.0M53.1 43.5V59.3M52.1 43.5h2.0M52.1 59.3h2.0M53.8 42.7V53.0M52.8 42.7h2.0M52.8 53.0h2.0M54.3 45.3V53.0M53.3 45.3h2.0M53.3 53.0h2.0M54.8 44.5V52.9M53.8 44.5h2.0M53.8 52.9h2.0M55.1 39.7V50.5M54.1 39.7h2.0M54.1 50.5h2.0M55.7 40.8V49.0M54.7 40.8h2.0M54.7 49.0h2.0M56.3 36.8V44.9M55.3 36.8h2.0M55.3 44.9h2.0M57.0 31.9V43.2M56.0 31.9h2.0M56.0 43.2h2.0M57.1 40.9V51.5M56.1 40.9h2.0M56.1 51.5h2.0M58.1 40.7V50.0M57.1 40.7h2.0M57.1 50.0h2.0M58.3 42.6V52.3M57.3 42.6h2.0M57.3 52.3h2.0M59.0 39.1V54.2M58.0 39.1h2.0M58.0 54.2h2.0M59.5 40.4V47.4M58.5 40.4h2.0M58.5 47.4h2.0M60.0 44.9V54.0M59.0 44.9h2.0M59.0 54.0h2.0M60.3 42.1V49.1M59.3 42.1h2.0M59.3 49.1h2.0M60.9 40.3V50.9M59.9 40.3h2.0M59.9 50.9h2.0M61.4 44.9V53.8M60.4 44.9h2.0M60.4 53.8h2.0M61.8 46.2V55.2M60.8 46.2h2.0M60.8 55.2h2.0M62.3 42.6V51.7M61.3 42.6h2.0M61.3 51.7h2.0M63.1 44.6V55.0M62.1 44.6h2.0M62.1 55.0h2.0M63.4 44.7V54.5M62.4 44.7h2.0M62.4 54.5h2.0M64.0 40.0V50.1M63.0 40.0h2.0M63.0 50.1h2.0M64.6 44.4V55.1M63.6 44.4h2.0M63.6 55.1h2.0M65.0 44.5V51.0M64.0 44.5h2.0M64.0 51.0h2.0M65.7 46.1V52.3M64.7 46.1h2.0M64.7 52.3h2.0M66.3 42.4V50.5M65.3 42.4h2.0M65.3 50.5h2.0M66.7 43.1V53.2M65.7 43.1h2.0M65.7 53.2h2.0M67.1 40.8V50.2M66.1 40.8h2.0M66.1 50.2h2.0M67.9 47.6V56.7M66.9 47.6h2.0M66.9 56.7h2.0M68.3 43.3V53.5M67.3 43.3h2.0M67.3 53.5h2.0M68.6 42.8V58.7M67.6 42.8h2.0M67.6 58.7h2.0M69.3 47.0V57.0M68.3 47.0h2.0M68.3 57.0h2.0M69.8 47.7V54.4M68.8 47.7h2.0M68.8 54.4h2.0M70.1 43.8V49.7M69.1 43.8h2.0M69.1 49.7h2.0M70.8 51.2V57.8M69.8 51.2h2.0M69.8 57.8h2.0M71.5 49.3V55.7M70.5 49.3h2.0M70.5 55.7h2.0M72.0 42.7V51.4M71.0 42.7h2.0M71.0 51.4h2.0M72.4 48.3V54.6M71.4 48.3h2.0M71.4 54.6h2.0M72.7 47.8V56.9M71.7 47.8h2.0M71.7 56.9h2.0M73.4 48.3V55.6M72.4 48.3h2.0M72.4 55.6h2.0M73.9 41.7V50.9M72.9 41.7h2.0M72.9 50.9h2.0M74.3 45.3V52.3M73.3 45.3h2.0M73.3 52.3h2.0M74.8 51.5V59.5M73.8 51.5h2.0M73.8 59.5h2.0M75.4 48.5V56.4M74.4 48.5h2.0M74.4 56.4h2.0M76.0 50.8V56.3M75.0 50.8h2.0M75.0 56.3h2.0M76.3 48.9V58.4M75.3 48.9h2.0M75.3 58.4h2.0M76.9 49.8V58.0M75.9 49.8h2.0M75.9 58.0h2.0M77.6 52.0V59.7M76.6 52.0h2.0M76.6 59.7h2.0M77.9 47.4V56.8M76.9 47.4h2.0M76.9 56.8h2.0M78.7 49.8V58.3M77.7 49.8h2.0M77.7 58.3h2.0M79.0 51.8V58.6M78.0 51.8h2.0M78.0 58.6h2.0M79.5 50.5V58.6M78.5 50.5h2.0M78.5 58.6h2.0M80.2 56.2V64.5M79.2 56.2h2.0M79.2 64.5h2.0M80.5 52.0V59.0M79.5 52.0h2.0M79.5 59.0h2.0M81.4 54.2V60.8M80.4 54.2h2.0M80.4 60.8h2.0M81.6 56.5V62.8M80.6 56.5h2.0M80.6 62.8h2.0M82.4 51.3V56.7M81.4 51.3h2.0M81.4 56.7h2.0M82.6 56.6V63.1M81.6 56.6h2.0M81.6 63.1h2.0M83.2 51.8V64.7M82.2 51.8h2.0M82.2 64.7h2.0M84.0 53.9V60.6M83.0 53.9h2.0M83.0 60.6h2.0M84.2 55.9V61.6M83.2 55.9h2.0M83.2 61.6h2.0M84.8 59.9V68.3M83.8 59.9h2.0M83.8 68.3h2.0M85.3 59.7V65.3M84.3 59.7h2.0M84.3 65.3h2.0M85.7 52.4V57.8M84.7 52.4h2.0M84.7 57.8h2.0M86.3 53.9V62.0M85.3 53.9h2.0M85.3 62.0h2.0M87.0 56.6V65.3M86.0 56.6h2.0M86.0 65.3h2.0M87.6 49.8V58.0M86.6 49.8h2.0M86.6 58.0h2.0M87.9 49.5V58.2M86.9 49.5h2.0M86.9 58.2h2.0M88.5 49.8V55.8M87.5 49.8h2.0M87.5 55.8h2.0M88.9 49.7V55.8M87.9 49.7h2.0M87.9 55.8h2.0M89.4 55.6V63.5M88.4 55.6h2.0M88.4 63.5h2.0M89.8 51.8V65.0M88.8 51.8h2.0M88.8 65.0h2.0M90.5 52.9V59.5M89.5 52.9h2.0M89.5 59.5h2.0M91.2 54.9V60.2M90.2 54.9h2.0M90.2 60.2h2.0M91.4 55.2V64.3M90.4 55.2h2.0M90.4 64.3h2.0M91.9 55.4V61.0M90.9 55.4h2.0M90.9 61.0h2.0M92.4 52.7V60.9M91.4 52.7h2.0M91.4 60.9h2.0M93.1 52.9V60.5M92.1 52.9h2.0M92.1 60.5h2.0M93.6 56.4V64.0M92.6 56.4h2.0M92.6 64.0h2.0M94.3 51.8V60.0M93.3 51.8h2.0M93.3 60.0h2.0M94.9 56.4V64.7M93.9 56.4h2.0M93.9 64.7h2.0M95.0 53.8V62.7M94.0 53.8h2.0M94.0 62.7h2.0M95.8 50.0V63.3M94.8 50.0h2.0M94.8 63.3h2.0M96.3 52.0V58.1M95.3 52.0h2.0M95.3 58.1h2.0M96.6 57.2V62.5M95.6 57.2h2.0M95.6 62.5h2.0M97.5 52.5V58.4M96.5 52.5h2.0M96.5 58.4h2.0M97.6 54.7V60.4M96.6 54.7h2.0M96.6 60.4h2.0M98.4 52.5V57.8M97.4 52.5h2.0M97.4 57.8h2.0M98.8 55.4V64.4M97.8 55.4h2.0M97.8 64.4h2.0M99.3 55.8V62.8M98.3 55.8h2.0M98.3 62.8h2.0M100.0 56.9V62.5M99.0 56.9h2.0M99.0 62.5h2.0M100.2 50.0V58.5M99.2 50.0h2.0M99.2 58.5h2.0M101.1 52.7V59.4M100.1 52.7h2.0M100.1 59.4h2.0M101.3 50.3V56.5M100.3 50.3h2.0M100.3 56.5h2.0M101.8 56.5V62.6M100.8 56.5h2.0M100.8 62.6h2.0M102.3 53.6V62.7M101.3 53.6h2.0M101.3 62.7h2.0M103.1 54.2V60.0M102.1 54.2h2.0M102.1 60.0h2.0M103.4 48.7V57.1M102.4 48.7h2.0M102.4 57.1h2.0M104.2 55.0V62.1M103.2 55.0h2.0M103.2 62.1h2.0M104.6 48.9V55.9M103.6 48.9h2.0M103.6 55.9h2.0M105.2 48.0V54.1M104.2 48.0h2.0M104.2 54.1h2.0M105.7 58.7V64.6M104.7 58.7h2.0M104.7 64.6h2.0M105.9 51.0V57.4M104.9 51.0h2.0M104.9 57.4h2.0M106.4 43.1V58.4M105.4 43.1h2.0M105.4 58.4h2.0M107.0 49.5V55.1M106.0 49.5h2.0M106.0 55.1h2.0M107.7 52.5V61.3M106.7 52.5h2.0M106.7 61.3h2.0M107.9 50.8V59.8M106.9 50.8h2.0M106.9 59.8h2.0M108.7 52.2V57.6M107.7 52.2h2.0M107.7 57.6h2.0M109.0 52.7V59.7M108.0 52.7h2.0M108.0 59.7h2.0M109.5 46.8V55.5M108.5 46.8h2.0M108.5 55.5h2.0M110.2 52.8V58.5M109.2 52.8h2.0M109.2 58.5h2.0M110.7 53.0V61.2M109.7 53.0h2.0M109.7 61.2h2.0M111.3 48.8V55.5M110.3 48.8h2.0M110.3 55.5h2.0M112.0 49.8V58.8M111.0 49.8h2.0M111.0 58.8h2.0M112.2 56.5V62.9M111.2 56.5h2.0M111.2 62.9h2.0M112.8 50.6V64.2M111.8 50.6h2.0M111.8 64.2h2.0M113.1 53.7V60.4M112.1 53.7h2.0M112.1 60.4h2.0M113.9 53.2V60.6M112.9 53.2h2.0M112.9 60.6h2.0M114.5 55.8V64.5M113.5 55.8h2.0M113.5 64.5h2.0M114.8 54.4V63.5M113.8 54.4h2.0M113.8 63.5h2.0M115.3 49.7V56.5M114.3 49.7h2.0M114.3 56.5h2.0M115.8 51.7V60.6M114.8 51.7h2.0M114.8 60.6h2.0M116.3 53.6V60.3M115.3 53.6h2.0M115.3 60.3h2.0M117.1 52.0V60.3M116.1 52.0h2.0M116.1 60.3h2.0M117.4 49.2V63.7M116.4 49.2h2.0M116.4 63.7h2.0M117.8 52.3V61.4M116.8 52.3h2.0M116.8 61.4h2.0M118.5 55.6V64.3M117.5 55.6h2.0M117.5 64.3h2.0M119.1 59.2V66.9M118.1 59.2h2.0M118.1 66.9h2.0M119.5 52.9V61.0M118.5 52.9h2.0M118.5 61.0h2.0M120.1 57.5V64.1M119.1 57.5h2.0M119.1 64.1h2.0M120.6 55.3V61.5M119.6 55.3h2.0M119.6 61.5h2.0M121.1 52.1V60.4M120.1 52.1h2.0M120.1 60.4h2.0M121.5 51.4V57.7M120.5 51.4h2.0M120.5 57.7h2.0M122.3 53.9V61.4M121.3 53.9h2.0M121.3 61.4h2.0M122.8 55.3V61.5M121.8 55.3h2.0M121.8 61.5h2.0M123.4 51.7V60.9M122.4 51.7h2.0M122.4 60.9h2.0M123.9 45.7V59.3M122.9 45.7h2.0M122.9 59.3h2.0M124.1 50.7V57.3M123.1 50.7h2.0M123.1 57.3h2.0M124.8 52.3V61.2M123.8 52.3h2.0M123.8 61.2h2.0M125.3 46.2V55.9M124.3 46.2h2.0M124.3 55.9h2.0M125.9 48.2V55.7M124.9 48.2h2.0M124.9 55.7h2.0M126.3 52.4V59.3M125.3 52.4h2.0M125.3 59.3h2.0M126.7 50.4V57.3M125.7 50.4h2.0M125.7 57.3h2.0M127.1 49.0V56.6M126.1 49.0h2.0M126.1 56.6h2.0M127.8 51.8V60.0M126.8 51.8h2.0M126.8 60.0h2.0M128.4 57.1V62.8M127.4 57.1h2.0M127.4 62.8h2.0M128.9 49.8V55.7M127.9 49.8h2.0M127.9 55.7h2.0M129.4 53.1V58.5M128.4 53.1h2.0M128.4 58.5h2.0M129.8 57.0V64.9M128.8 57.0h2.0M128.8 64.9h2.0M130.4 56.9V63.3M129.4 56.9h2.0M129.4 63.3h2.0M130.8 52.8V61.3M129.8 52.8h2.0M129.8 61.3h2.0M131.4 50.0V57.5M130.4 50.0h2.0M130.4 57.5h2.0M132.0 56.1V63.9M131.0 56.1h2.0M131.0 63.9h2.0M132.3 57.9V65.6M131.3 57.9h2.0M131.3 65.6h2.0M133.0 55.9V62.5M132.0 55.9h2.0M132.0 62.5h2.0M133.5 52.6V60.7M132.5 52.6h2.0M132.5 60.7h2.0M134.2 59.2V65.9M133.2 59.2h2.0M133.2 65.9h2.0M134.7 60.8V65.7M133.7 60.8h2.0M133.7 65.7h2.0M135.2 58.2V65.7M134.2 58.2h2.0M134.2 65.7h2.0M135.5 55.9V63.5M134.5 55.9h2.0M134.5 63.5h2.0M136.2 55.0V62.4M135.2 55.0h2.0M135.2 62.4h2.0M136.5 54.6V61.0M135.5 54.6h2.0M135.5 61.0h2.0M137.2 56.8V63.0M136.2 56.8h2.0M136.2 63.0h2.0M137.6 56.6V61.8M136.6 56.6h2.0M136.6 61.8h2.0M138.4 59.8V64.4M137.4 59.8h2.0M137.4 64.4h2.0M138.9 59.5V65.0M137.9 59.5h2.0M137.9 65.0h2.0M139.2 58.3V64.7M138.2 58.3h2.0M138.2 64.7h2.0M139.9 54.3V61.8M138.9 54.3h2.0M138.9 61.8h2.0M140.1 60.1V65.4M139.1 60.1h2.0M139.1 65.4h2.0M140.9 62.3V68.6M139.9 62.3h2.0M139.9 68.6h2.0M141.2 58.8V66.2M140.2 58.8h2.0M140.2 66.2h2.0M141.9 52.9V64.1M140.9 52.9h2.0M140.9 64.1h2.0M142.3 60.8V67.4M141.3 60.8h2.0M141.3 67.4h2.0M143.0 59.9V67.0M142.0 59.9h2.0M142.0 67.0h2.0M143.6 57.4V63.5M142.6 57.4h2.0M142.6 63.5h2.0M144.0 62.2V73.8M143.0 62.2h2.0M143.0 73.8h2.0M144.3 53.3V66.5M143.3 53.3h2.0M143.3 66.5h2.0M145.1 60.4V66.8M144.1 60.4h2.0M144.1 66.8h2.0M145.6 61.2V68.0M144.6 61.2h2.0M144.6 68.0h2.0M146.2 61.5V66.4M145.2 61.5h2.0M145.2 66.4h2.0M146.3 59.3V64.0M145.3 59.3h2.0M145.3 64.0h2.0M146.9 58.1V64.6M145.9 58.1h2.0M145.9 64.6h2.0M147.4 64.9V71.4M146.4 64.9h2.0M146.4 71.4h2.0M148.0 56.4V68.5M147.0 56.4h2.0M147.0 68.5h2.0M148.5 61.4V67.3M147.5 61.4h2.0M147.5 67.3h2.0M149.3 63.5V68.6M148.3 63.5h2.0M148.3 68.6h2.0M149.8 63.3V69.7M148.8 63.3h2.0M148.8 69.7h2.0M150.0 66.7V72.6M149.0 66.7h2.0M149.0 72.6h2.0M150.7 66.5V70.7M149.7 66.5h2.0M149.7 70.7h2.0M151.3 67.9V72.1M150.3 67.9h2.0M150.3 72.1h2.0M151.9 66.3V72.7M150.9 66.3h2.0M150.9 72.7h2.0M152.3 65.5V70.2M151.3 65.5h2.0M151.3 70.2h2.0M152.6 69.3V75.5M151.6 69.3h2.0M151.6 75.5h2.0M153.1 70.6V75.7M152.1 70.6h2.0M152.1 75.7h2.0M154.0 69.8V74.1M153.0 69.8h2.0M153.0 74.1h2.0M154.3 69.5V73.1M153.3 69.5h2.0M153.3 73.1h2.0M155.0 71.3V75.7M154.0 71.3h2.0M154.0 75.7h2.0M155.2 70.4V75.0M154.2 70.4h2.0M154.2 75.0h2.0M156.0 70.2V74.1M155.0 70.2h2.0M155.0 74.1h2.0M156.4 72.3V75.9M155.4 72.3h2.0M155.4 75.9h2.0M156.9 71.7V76.5M155.9 71.7h2.0M155.9 76.5h2.0M157.2 68.8V73.8M156.2 68.8h2.0M156.2 73.8h2.0M157.9 71.5V75.7M156.9 71.5h2.0M156.9 75.7h2.0M158.4 71.3V77.0M157.4 71.3h2.0M157.4 77.0h2.0M159.0 70.7V76.3M158.0 70.7h2.0M158.0 76.3h2.0M159.5 72.5V76.1M158.5 72.5h2.0M158.5 76.1h2.0M160.0 70.8V74.4M159.0 70.8h2.0M159.0 74.4h2.0M160.4 71.2V75.4M159.4 71.2h2.0M159.4 75.4h2.0M160.9 71.5V75.3M159.9 71.5h2.0M159.9 75.3h2.0M161.3 72.2V77.7M160.3 72.2h2.0M160.3 77.7h2.0M162.2 66.8V71.3M161.2 66.8h2.0M161.2 71.3h2.0M162.4 72.4V77.6M161.4 72.4h2.0M161.4 77.6h2.0M163.1 72.7V76.1M162.1 72.7h2.0M162.1 76.1h2.0M163.7 74.4V77.9M162.7 74.4h2.0M162.7 77.9h2.0M164.3 70.8V75.5M163.3 70.8h2.0M163.3 75.5h2.0M164.9 73.2V77.9M163.9 73.2h2.0M163.9 77.9h2.0M165.3 71.5V80.3M164.3 71.5h2.0M164.3 80.3h2.0M165.9 70.8V75.1M164.9 70.8h2.0M164.9 75.1h2.0M166.2 69.5V79.1M165.2 69.5h2.0M165.2 79.1h2.0M166.8 72.6V77.6M165.8 72.6h2.0M165.8 77.6h2.0M167.1 71.5V75.6M166.1 71.5h2.0M166.1 75.6h2.0M168.0 71.6V77.3M167.0 71.6h2.0M167.0 77.3h2.0M168.3 73.0V77.4M167.3 73.0h2.0M167.3 77.4h2.0M168.7 71.0V75.9M167.7 71.0h2.0M167.7 75.9h2.0M169.5 74.8V80.1M168.5 74.8h2.0M168.5 80.1h2.0M170.1 69.9V73.6M169.1 69.9h2.0M169.1 73.6h2.0M170.2 69.7V74.8M169.2 69.7h2.0M169.2 74.8h2.0M171.0 71.2V76.3M170.0 71.2h2.0M170.0 76.3h2.0M171.4 75.3V80.0M170.4 75.3h2.0M170.4 80.0h2.0M172.1 72.3V76.3M171.1 72.3h2.0M171.1 76.3h2.0M172.3 73.7V79.3M171.3 73.7h2.0M171.3 79.3h2.0M172.8 68.1V73.4M171.8 68.1h2.0M171.8 73.4h2.0M173.4 70.9V75.4M172.4 70.9h2.0M172.4 75.4h2.0M174.0 71.3V76.4M173.0 71.3h2.0M173.0 76.4h2.0M174.6 70.4V75.8M173.6 70.4h2.0M173.6 75.8h2.0M175.1 67.7V71.3M174.1 67.7h2.0M174.1 71.3h2.0M175.6 70.8V75.1M174.6 70.8h2.0M174.6 75.1h2.0M175.9 66.2V75.0M174.9 66.2h2.0M174.9 75.0h2.0M176.6 73.2V78.7M175.6 73.2h2.0M175.6 78.7h2.0M177.0 72.4V76.3M176.0 72.4h2.0M176.0 76.3h2.0M177.5 72.1V76.9M176.5 72.1h2.0M176.5 76.9h2.0M178.2 71.2V75.5M177.2 71.2h2.0M177.2 75.5h2.0M178.7 72.3V75.8M177.7 72.3h2.0M177.7 75.8h2.0M179.4 72.1V75.9M178.4 72.1h2.0M178.4 75.9h2.0M179.9 74.0V77.6M178.9 74.0h2.0M178.9 77.6h2.0M180.4 76.0V80.2M179.4 76.0h2.0M179.4 80.2h2.0M180.6 76.0V81.3M179.6 76.0h2.0M179.6 81.3h2.0M181.1 74.4V77.4M180.1 74.4h2.0M180.1 77.4h2.0M181.9 74.2V78.2M180.9 74.2h2.0M180.9 78.2h2.0M182.5 74.6V78.8M181.5 74.6h2.0M181.5 78.8h2.0M183.0 74.8V78.5M182.0 74.8h2.0M182.0 78.5h2.0M183.3 73.9V78.2M182.3 73.9h2.0M182.3 78.2h2.0M183.9 77.7V81.3M182.9 77.7h2.0M182.9 81.3h2.0M184.6 77.7V82.0M183.6 77.7h2.0M183.6 82.0h2.0M185.1 78.3V81.9M184.1 78.3h2.0M184.1 81.9h2.0M185.4 73.0V76.9M184.4 73.0h2.0M184.4 76.9h2.0M186.0 74.9V79.5M185.0 74.9h2.0M185.0 79.5h2.0M186.6 76.9V79.9M185.6 76.9h2.0M185.6 79.9h2.0M187.0 77.4V80.4M186.0 77.4h2.0M186.0 80.4h2.0M187.5 79.5V83.7M186.5 79.5h2.0M186.5 83.7h2.0M187.9 78.3V82.5M186.9 78.3h2.0M186.9 82.5h2.0M188.7 79.1V83.0M187.7 79.1h2.0M187.7 83.0h2.0M189.2 79.5V82.8M188.2 79.5h2.0M188.2 82.8h2.0M189.6 81.0V83.9M188.6 81.0h2.0M188.6 83.9h2.0M190.0 80.8V84.8M189.0 80.8h2.0M189.0 84.8h2.0M190.7 79.3V82.2M189.7 79.3h2.0M189.7 82.2h2.0M190.9 78.2V81.2M189.9 78.2h2.0M189.9 81.2h2.0M191.5 80.4V84.6M190.5 80.4h2.0M190.5 84.6h2.0M192.0 79.1V83.2M191.0 79.1h2.0M191.0 83.2h2.0M192.6 80.6V83.5M191.6 80.6h2.0M191.6 83.5h2.0M193.1 78.2V82.3M192.1 78.2h2.0M192.1 82.3h2.0M193.8 78.7V82.6M192.8 78.7h2.0M192.8 82.6h2.0M194.1 78.8V81.7M193.1 78.8h2.0M193.1 81.7h2.0M194.9 79.3V82.8M193.9 79.3h2.0M193.9 82.8h2.0M195.4 83.2V86.2M194.4 83.2h2.0M194.4 86.2h2.0M195.9 83.5V86.2M194.9 83.5h2.0M194.9 86.2h2.0M196.3 80.6V87.2M195.3 80.6h2.0M195.3 87.2h2.0M196.6 82.8V85.5M195.6 82.8h2.0M195.6 85.5h2.0M197.4 79.2V82.8M196.4 79.2h2.0M196.4 82.8h2.0M197.9 82.4V85.2M196.9 82.4h2.0M196.9 85.2h2.0M198.5 80.1V83.5M197.5 80.1h2.0M197.5 83.5h2.0M198.8 81.3V84.8M197.8 81.3h2.0M197.8 84.8h2.0M199.3 84.2V87.7M198.3 84.2h2.0M198.3 87.7h2.0M200.0 82.6V85.6M199.0 82.6h2.0M199.0 85.6h2.0M200.4 81.6V84.0M199.4 81.6h2.0M199.4 84.0h2.0M201.0 83.0V86.5M200.0 83.0h2.0M200.0 86.5h2.0M201.5 84.1V86.9M200.5 84.1h2.0M200.5 86.9h2.0M201.8 85.0V88.5M200.8 85.0h2.0M200.8 88.5h2.0M202.5 82.4V85.7M201.5 82.4h2.0M201.5 85.7h2.0M203.1 81.3V84.7M202.1 81.3h2.0M202.1 84.7h2.0M203.6 84.9V87.3M202.6 84.9h2.0M202.6 87.3h2.0M204.1 84.2V86.4M203.1 84.2h2.0M203.1 86.4h2.0M204.5 84.9V87.4M203.5 84.9h2.0M203.5 87.4h2.0M205.2 83.8V87.5M204.2 83.8h2.0M204.2 87.5h2.0M205.4 83.5V86.8M204.4 83.5h2.0M204.4 86.8h2.0M206.0 82.3V88.1M205.0 82.3h2.0M205.0 88.1h2.0M206.6 85.8V88.0M205.6 85.8h2.0M205.6 88.0h2.0M207.0 84.6V90.6M206.0 84.6h2.0M206.0 90.6h2.0M207.6 85.2V88.3M206.6 85.2h2.0M206.6 88.3h2.0M208.1 84.4V87.8M207.1 84.4h2.0M207.1 87.8h2.0M208.8 81.6V85.0M207.8 81.6h2.0M207.8 85.0h2.0M209.2 80.0V85.6M208.2 80.0h2.0M208.2 85.6h2.0M209.9 81.6V87.4M208.9 81.6h2.0M208.9 87.4h2.0M210.2 83.9V87.0M209.2 83.9h2.0M209.2 87.0h2.0M210.9 83.7V87.4M209.9 83.7h2.0M209.9 87.4h2.0M211.3 83.6V85.9M210.3 83.6h2.0M210.3 85.9h2.0M211.9 85.5V88.4M210.9 85.5h2.0M210.9 88.4h2.0M212.3 83.5V85.9M211.3 83.5h2.0M211.3 85.9h2.0M213.0 84.4V86.9M212.0 84.4h2.0M212.0 86.9h2.0M213.3 86.1V89.4M212.3 86.1h2.0M212.3 89.4h2.0M214.0 83.7V86.8M213.0 83.7h2.0M213.0 86.8h2.0M214.5 81.7V85.4M213.5 81.7h2.0M213.5 85.4h2.0M214.8 84.2V86.5M213.8 84.2h2.0M213.8 86.5h2.0M215.4 81.0V84.2M214.4 81.0h2.0M214.4 84.2h2.0M216.1 84.0V86.5M215.1 84.0h2.0M215.1 86.5h2.0M216.5 82.8V87.8M215.5 82.8h2.0M215.5 87.8h2.0M217.0 84.2V87.6M216.0 84.2h2.0M216.0 87.6h2.0M217.5 82.4V85.8M216.5 82.4h2.0M216.5 85.8h2.0M218.2 83.4V87.0M217.2 83.4h2.0M217.2 87.0h2.0M218.6 87.0V89.4M217.6 87.0h2.0M217.6 89.4h2.0M219.0 83.7V86.2M218.0 83.7h2.0M218.0 86.2h2.0M219.8 79.2V82.8M218.8 79.2h2.0M218.8 82.8h2.0M220.1 83.2V86.5M219.1 83.2h2.0M219.1 86.5h2.0M220.5 82.1V84.3M219.5 82.1h2.0M219.5 84.3h2.0M221.0 85.0V87.8M220.0 85.0h2.0M220.0 87.8h2.0M221.9 82.4V84.6M220.9 82.4h2.0M220.9 84.6h2.0M222.1 84.1V86.4M221.1 84.1h2.0M221.1 86.4h2.0M222.6 85.2V88.4M221.6 85.2h2.0M221.6 88.4h2.0M223.2 84.8V88.5M222.2 84.8h2.0M222.2 88.5h2.0M223.8 82.9V85.3M222.8 82.9h2.0M222.8 85.3h2.0M224.4 82.1V85.3M223.4 82.1h2.0M223.4 85.3h2.0M224.8 84.1V86.3M223.8 84.1h2.0M223.8 86.3h2.0M225.4 83.1V86.3M224.4 83.1h2.0M224.4 86.3h2.0M225.7 82.8V85.7M224.7 82.8h2.0M224.7 85.7h2.0M226.2 82.1V85.2M225.2 82.1h2.0M225.2 85.2h2.0M227.0 83.5V86.2M226.0 83.5h2.0M226.0 86.2h2.0M227.5 81.0V84.1M226.5 81.0h2.0M226.5 84.1h2.0M227.7 82.2V85.6M226.7 82.2h2.0M226.7 85.6h2.0M228.6 81.8V86.8M227.6 81.8h2.0M227.6 86.8h2.0M229.1 81.8V85.0M228.1 81.8h2.0M228.1 85.0h2.0M229.3 83.5V85.8M228.3 83.5h2.0M228.3 85.8h2.0M229.9 84.7V87.9M228.9 84.7h2.0M228.9 87.9h2.0M230.5 85.2V87.6M229.5 85.2h2.0M229.5 87.6h2.0M230.8 81.6V85.1M229.8 81.6h2.0M229.8 85.1h2.0M231.7 83.2V86.1M230.7 83.2h2.0M230.7 86.1h2.0M231.9 86.3V89.6M230.9 86.3h2.0M230.9 89.6h2.0M232.5 81.8V87.2M231.5 81.8h2.0M231.5 87.2h2.0M233.3 84.5V86.6M232.3 84.5h2.0M232.3 86.6h2.0M233.5 84.2V87.0M232.5 84.2h2.0M232.5 87.0h2.0M234.4 85.9V88.1M233.4 85.9h2.0M233.4 88.1h2.0M234.5 83.9V86.5M233.5 83.9h2.0M233.5 86.5h2.0M235.1 84.3V86.5M234.1 84.3h2.0M234.1 86.5h2.0M235.5 86.4V89.6M234.5 86.4h2.0M234.5 89.6h2.0M236.0 87.5V89.5M235.0 87.5h2.0M235.0 89.5h2.0M236.8 86.4V89.5M235.8 86.4h2.0M235.8 89.5h2.0M237.3 85.4V88.4M236.3 85.4h2.0M236.3 88.4h2.0M237.9 84.5V87.6M236.9 84.5h2.0M236.9 87.6h2.0M238.4 84.0V86.0M237.4 84.0h2.0M237.4 86.0h2.0M239.0 84.9V87.6M238.0 84.9h2.0M238.0 87.6h2.0M239.2 84.1V87.2M238.2 84.1h2.0M238.2 87.2h2.0M239.8 81.8V84.4M238.8 81.8h2.0M238.8 84.4h2.0M240.6 83.0V86.0M239.6 83.0h2.0M239.6 86.0h2.0M241.1 84.9V88.2M240.1 84.9h2.0M240.1 88.2h2.0M241.2 84.5V87.1M240.2 84.5h2.0M240.2 87.1h2.0M242.1 85.1V88.4M241.1 85.1h2.0M241.1 88.4h2.0" stroke="#161616" stroke-width="1.0" fill="none"/><path d="M35.0 83.0a1.6 1.6 0 1 0 3.2 0a1.6 1.6 0 1 0 -3.2 0zM35.6 75.5a1.6 1.6 0 1 0 3.2 0a1.6 1.6 0 1 0 -3.2 0zM36.1 74.4a1.6 1.6 0 1 0 3.2 0a1.6 1.6 0 1 0 -3.2 0zM36.7 70.4a1.6 1.6 0 1 0 3.2 0a1.6 1.6 0 1 0 -3.2 0zM37.2 63.6a1.6 1.6 0 1 0 3.2 0a1.6 1.6 0 1 0 -3.2 0zM37.6 59.7a1.6 1.6 0 1 0 3.2 0a1.6 1.6 0 1 0 -3.2 0zM38.0 48.9a1.6 1.6 0 1 0 3.2 0a1.6 1.6 0 1 0 -3.2 0zM38.7 47.3a1.6 1.6 0 1 0 3.2 0a1.6 1.6 0 1 0 -3.2 0zM39.0 43.8a1.6 1.6 0 1 0 3.2 0a1.6 1.6 0 1 0 -3.2 0zM39.6 50.1a1.6 1.6 0 1 0 3.2 0a1.6 1.6 0 1 0 -3.2 0zM40.2 43.9a1.6 1.6 0 1 0 3.2 0a1.6 1.6 0 1 0 -3.2 0zM40.6 45.1a1.6 1.6 0 1 0 3.2 0a1.6 1.6 0 1 0 -3.2 0zM41.2 30.7a1.6 1.6 0 1 0 3.2 0a1.6 1.6 0 1 0 -3.2 0zM41.7 39.8a1.6 1.6 0 1 0 3.2 0a1.6 1.6 0 1 0 -3.2 0zM42.2 41.5a1.6 1.6 0 1 0 3.2 0a1.6 1.6 0 1 0 -3.2 0zM42.7 35.2a1.6 1.6 0 1 0 3.2 0a1.6 1.6 0 1 0 -3.2 0zM43.1 33.1a1.6 1.6 0 1 0 3.2 0a1.6 1.6 0 1 0 -3.2 0zM43.6 35.9a1.6 1.6 0 1 0 3.2 0a1.6 1.6 0 1 0 -3.2 0zM44.4 41.1a1.6 1.6 0 1 0 3.2 0a1.6 1.6 0 1 0 -3.2 0zM44.9 39.4a1.6 1.6 0 1 0 3.2 0a1.6 1.6 0 1 0 -3.2 0zM45.4 41.9a1.6 1.6 0 1 0 3.2 0a1.6 1.6 0 1 0 -3.2 0zM45.8 52.5a1.6 1.6 0 1 0 3.2 0a1.6 1.6 0 1 0 -3.2 0zM46.5 53.9a1.6 1.6 0 1 0 3.2 0a1.6 1.6 0 1 0 -3.2 0zM47.1 47.2a1.6 1.6 0 1 0 3.2 0a1.6 1.6 0 1 0 -3.2 0zM47.6 56.0a1.6 1.6 0 1 0 3.2 0a1.6 1.6 0 1 0 -3.2 0zM48.1 47.9a1.6 1.6 0 1 0 3.2 0a1.6 1.6 0 1 0 -3.2 0zM48.5 53.6a1.6 1.6 0 1 0 3.2 0a1.6 1.6 0 1 0 -3.2 0zM49.0 51.3a1.6 1.6 0 1 0 3.2 0a1.6 1.6 0 1 0 -3.2 0zM49.6 46.3a1.6 1.6 0 1 0 3.2 0a1.6 1.6 0 1 0 -3.2 0zM49.9 45.0a1.6 1.6 0 1 0 3.2 0a1.6 1.6 0 1 0 -3.2 0zM50.4 55.7a1.6 1.6 0 1 0 3.2 0a1.6 1.6 0 1 0 -3.2 0zM50.9 52.3a1.6 1.6 0 1 0 3.2 0a1.6 1.6 0 1 0 -3.2 0zM51.5 51.4a1.6 1.6 0 1 0 3.2 0a1.6 1.6 0 1 0 -3.2 0zM52.2 47.8a1.6 1.6 0 1 0 3.2 0a1.6 1.6 0 1 0 -3.2 0zM52.7 49.2a1.6 1.6 0 1 0 3.2 0a1.6 1.6 0 1 0 -3.2 0zM53.2 48.7a1.6 1.6 0 1 0 3.2 0a1.6 1.6 0 1 0 -3.2 0zM53.5 45.1a1.6 1.6 0 1 0 3.2 0a1.6 1.6 0 1 0 -3.2 0zM54.1 44.9a1.6 1.6 0 1 0 3.2 0a1.6 1.6 0 1 0 -3.2 0zM54.7 40.8a1.6 1.6 0 1 0 3.2 0a1.6 1.6 0 1 0 -3.2 0zM55.4 37.6a1.6 1.6 0 1 0 3.2 0a1.6 1.6 0 1 0 -3.2 0zM55.5 46.2a1.6 1.6 0 1 0 3.2 0a1.6 1.6 0 1 0 -3.2 0zM56.5 45.3a1.6 1.6 0 1 0 3.2 0a1.6 1.6 0 1 0 -3.2 0zM56.7 47.4a1.6 1.6 0 1 0 3.2 0a1.6 1.6 0 1 0 -3.2 0zM57.4 46.7a1.6 1.6 0 1 0 3.2 0a1.6 1.6 0 1 0 -3.2 0zM57.9 43.9a1.6 1.6 0 1 0 3.2 0a1.6 1.6 0 1 0 -3.2 0zM58.4 49.5a1.6 1.6 0 1 0 3.2 0a1.6 1.6 0 1 0 -3.2 0zM58.7 45.6a1.6 1.6 0 1 0 3.2 0a1.6 1.6 0 1 0 -3.2 0zM59.3 45.6a1.6 1.6 0 1 0 3.2 0a1.6 1.6 0 1 0 -3.2 0zM59.8 49.3a1.6 1.6 0 1 0 3.2 0a1.6 1.6 0 1 0 -3.2 0zM60.2 50.7a1.6 1.6 0 1 0 3.2 0a1.6 1.6 0 1 0 -3.2 0zM60.7 47.1a1.6 1.6 0 1 0 3.2 0a1.6 1.6 0 1 0 -3.2 0zM61.5 49.8a1.6 1.6 0 1 0 3.2 0a1.6 1.6 0 1 0 -3.2 0zM61.8 49.6a1.6 1.6 0 1 0 3.2 0a1.6 1.6 0 1 0 -3.2 0zM62.4 45.0a1.6 1.6 0 1 0 3.2 0a1.6 1.6 0 1 0 -3.2 0zM63.0 49.7a1.6 1.6 0 1 0 3.2 0a1.6 1.6 0 1 0 -3.2 0zM63.4 47.7a1.6 1.6 0 1 0 3.2 0a1.6 1.6 0 1 0 -3.2 0zM64.1 49.2a1.6 1.6 0 1 0 3.2 0a1.6 1.6 0 1 0 -3.2 0zM64.7 46.5a1.6 1.6 0 1 0 3.2 0a1.6 1.6 0 1 0 -3.2 0zM65.1 48.2a1.6 1.6 0 1 0 3.2 0a1.6 1.6 0 1 0 -3.2 0zM65.5 45.5a1.6 1.6 0 1 0 3.2 0a1.6 1.6 0 1 0 -3.2 0zM66.3 52.2a1.6 1.6 0 1 0 3.2 0a1.6 1.6 0 1 0 -3.2 0zM66.7 48.4a1.6 1.6 0 1 0 3.2 0a1.6 1.6 0 1 0 -3.2 0zM67.0 50.7a1.6 1.6 0 1 0 3.2 0a1.6 1.6 0 1 0 -3.2 0zM67.7 52.0a1.6 1.6 0 1 0 3.2 0a1.6 1.6 0 1 0 -3.2 0zM68.2 51.0a1.6 1.6 0 1 0 3.2 0a1.6 1.6 0 1 0 -3.2 0zM68.5 46.8a1.6 1.6 0 1 0 3.2 0a1.6 1.6 0 1 0 -3.2 0zM69.2 54.5a1.6 1.6 0 1 0 3.2 0a1.6 1.6 0 1 0 -3.2 0zM69.9 52.5a1.6 1.6 0 1 0 3.2 0a1.6 1.6 0 1 0 -3.2 0zM70.4 47.1a1.6 1.6 0 1 0 3.2 0a1.6 1.6 0 1 0 -3.2 0zM70.8 51.5a1.6 1.6 0 1 0 3.2 0a1.6 1.6 0 1 0 -3.2 0zM71.1 52.3a1.6 1.6 0 1 0 3.2 0a1.6 1.6 0 1 0 -3.2 0zM71.8 52.0a1.6 1.6 0 1 0 3.2 0a1.6 1.6 0 1 0 -3.2 0zM72.3 46.3a1.6 1.6 0 1 0 3.2 0a1.6 1.6 0 1 0 -3.2 0zM72.7 48.8a1.6 1.6 0 1 0 3.2 0a1.6 1.6 0 1 0 -3.2 0zM73.2 55.5a1.6 1.6 0 1 0 3.2 0a1.6 1.6 0 1 0 -3.2 0zM73.8 52.5a1.6 1.6 0 1 0 3.2 0a1.6 1.6 0 1 0 -3.2 0zM74.4 53.5a1.6 1.6 0 1 0 3.2 0a1.6 1.6 0 1 0 -3.2 0zM74.7 53.6a1.6 1.6 0 1 0 3.2 0a1.6 1.6 0 1 0 -3.2 0zM75.3 53.9a1.6 1.6 0 1 0 3.2 0a1.6 1.6 0 1 0 -3.2 0zM76.0 55.9a1.6 1.6 0 1 0 3.2 0a1.6 1.6 0 1 0 -3.2 0zM76.3 52.1a1.6 1.6 0 1 0 3.2 0a1.6 1.6 0 1 0 -3.2 0zM77.1 54.0a1.6 1.6 0 1 0 3.2 0a1.6 1.6 0 1 0 -3.2 0zM77.4 55.2a1.6 1.6 0 1 0 3.2 0a1.6 1.6 0 1 0 -3.2 0zM77.9 54.5a1.6 1.6 0 1 0 3.2 0a1.6 1.6 0 1 0 -3.2 0zM78.6 60.3a1.6 1.6 0 1 0 3.2 0a1.6 1.6 0 1 0 -3.2 0zM78.9 55.5a1.6 1.6 0 1 0 3.2 0a1.6 1.6 0 1 0 -3.2 0zM79.8 57.5a1.6 1.6 0 1 0 3.2 0a1.6 1.6 0 1 0 -3.2 0zM80.0 59.7a1.6 1.6 0 1 0 3.2 0a1.6 1.6 0 1 0 -3.2 0zM80.8 54.0a1.6 1.6 0 1 0 3.2 0a1.6 1.6 0 1 0 -3.2 0zM81.0 59.8a1.6 1.6 0 1 0 3.2 0a1.6 1.6 0 1 0 -3.2 0zM81.6 58.2a1.6 1.6 0 1 0 3.2 0a1.6 1.6 0 1 0 -3.2 0zM82.4 57.3a1.6 1.6 0 1 0 3.2 0a1.6 1.6 0 1 0 -3.2 0zM82.6 58.8a1.6 1.6 0 1 0 3.2 0a1.6 1.6 0 1 0 -3.2 0zM83.2 64.1a1.6 1.6 0 1 0 3.2 0a1.6 1.6 0 1 0 -3.2 0zM83.7 62.5a1.6 1.6 0 1 0 3.2 0a1.6 1.6 0 1 0 -3.2 0zM84.1 55.1a1.6 1.6 0 1 0 3.2 0a1.6 1.6 0 1 0 -3.2 0zM84.7 58.0a1.6 1.6 0 1 0 3.2 0a1.6 1.6 0 1 0 -3.2 0zM85.4 60.9a1.6 1.6 0 1 0 3.2 0a1.6 1.6 0 1 0 -3.2 0zM86.0 53.9a1.6 1.6 0 1 0 3.2 0a1.6 1.6 0 1 0 -3.2 0zM86.3 53.8a1.6 1.6 0 1 0 3.2 0a1.6 1.6 0 1 0 -3.2 0zM86.9 52.8a1.6 1.6 0 1 0 3.2 0a1.6 1.6 0 1 0 -3.2 0zM87.3 52.7a1.6 1.6 0 1 0 3.2 0a1.6 1.6 0 1 0 -3.2 0zM87.8 59.5a1.6 1.6 0 1 0 3.2 0a1.6 1.6 0 1 0 -3.2 0zM88.2 58.4a1.6 1.6 0 1 0 3.2 0a1.6 1.6 0 1 0 -3.2 0zM88.9 56.2a1.6 1.6 0 1 0 3.2 0a1.6 1.6 0 1 0 -3.2 0zM89.6 57.6a1.6 1.6 0 1 0 3.2 0a1.6 1.6 0 1 0 -3.2 0zM89.8 59.8a1.6 1.6 0 1 0 3.2 0a1.6 1.6 0 1 0 -3.2 0zM90.3 58.2a1.6 1.6 0 1 0 3.2 0a1.6 1.6 0 1 0 -3.2 0zM90.8 56.8a1.6 1.6 0 1 0 3.2 0a1.6 1.6 0 1 0 -3.2 0zM91.5 56.7a1.6 1.6 0 1 0 3.2 0a1.6 1.6 0 1 0 -3.2 0zM92.0 60.2a1.6 1.6 0 1 0 3.2 0a1.6 1.6 0 1 0 -3.2 0zM92.7 55.9a1.6 1.6 0 1 0 3.2 0a1.6 1.6 0 1 0 -3.2 0zM93.3 60.5a1.6 1.6 0 1 0 3.2 0a1.6 1.6 0 1 0 -3.2 0zM93.4 58.3a1.6 1.6 0 1 0 3.2 0a1.6 1.6 0 1 0 -3.2 0zM94.2 56.7a1.6 1.6 0 1 0 3.2 0a1.6 1.6 0 1 0 -3.2 0zM94.7 55.0a1.6 1.6 0 1 0 3.2 0a1.6 1.6 0 1 0 -3.2 0zM95.0 59.8a1.6 1.6 0 1 0 3.2 0a1.6 1.6 0 1 0 -3.2 0zM95.9 55.5a1.6 1.6 0 1 0 3.2 0a1.6 1.6 0 1 0 -3.2 0zM96.0 57.5a1.6 1.6 0 1 0 3.2 0a1.6 1.6 0 1 0 -3.2 0zM96.8 55.2a1.6 1.6 0 1 0 3.2 0a1.6 1.6 0 1 0 -3.2 0zM97.2 59.9a1.6 1.6 0 1 0 3.2 0a1.6 1.6 0 1 0 -3.2 0zM97.7 59.3a1.6 1.6 0 1 0 3.2 0a1.6 1.6 0 1 0 -3.2 0zM98.4 59.7a1.6 1.6 0 1 0 3.2 0a1.6 1.6 0 1 0 -3.2 0zM98.6 54.2a1.6 1.6 0 1 0 3.2 0a1.6 1.6 0 1 0 -3.2 0zM99.5 56.0a1.6 1.6 0 1 0 3.2 0a1.6 1.6 0 1 0 -3.2 0zM99.7 53.4a1.6 1.6 0 1 0 3.2 0a1.6 1.6 0 1 0 -3.2 0zM100.2 59.6a1.6 1.6 0 1 0 3.2 0a1.6 1.6 0 1 0 -3.2 0zM100.7 58.2a1.6 1.6 0 1 0 3.2 0a1.6 1.6 0 1 0 -3.2 0zM101.5 57.1a1.6 1.6 0 1 0 3.2 0a1.6 1.6 0 1 0 -3.2 0zM101.8 52.9a1.6 1.6 0 1 0 3.2 0a1.6 1.6 0 1 0 -3.2 0zM102.6 58.6a1.6 1.6 0 1 0 3.2 0a1.6 1.6 0 1 0 -3.2 0zM103.0 52.4a1.6 1.6 0 1 0 3.2 0a1.6 1.6 0 1 0 -3.2 0zM103.6 51.0a1.6 1.6 0 1 0 3.2 0a1.6 1.6 0 1 0 -3.2 0zM104.1 61.6a1.6 1.6 0 1 0 3.2 0a1.6 1.6 0 1 0 -3.2 0zM104.3 54.2a1.6 1.6 0 1 0 3.2 0a1.6 1.6 0 1 0 -3.2 0zM104.8 50.8a1.6 1.6 0 1 0 3.2 0a1.6 1.6 0 1 0 -3.2 0zM105.4 52.3a1.6 1.6 0 1 0 3.2 0a1.6 1.6 0 1 0 -3.2 0zM106.1 56.9a1.6 1.6 0 1 0 3.2 0a1.6 1.6 0 1 0 -3.2 0zM106.3 55.3a1.6 1.6 0 1 0 3.2 0a1.6 1.6 0 1 0 -3.2 0zM107.1 54.9a1.6 1.6 0 1 0 3.2 0a1.6 1.6 0 1 0 -3.2 0zM107.4 56.2a1.6 1.6 0 1 0 3.2 0a1.6 1.6 0 1 0 -3.2 0zM107.9 51.1a1.6 1.6 0 1 0 3.2 0a1.6 1.6 0 1 0 -3.2 0zM108.6 55.6a1.6 1.6 0 1 0 3.2 0a1.6 1.6 0 1 0 -3.2 0zM109.1 57.1a1.6 1.6 0 1 0 3.2 0a1.6 1.6 0 1 0 -3.2 0zM109.7 52.2a1.6 1.6 0 1 0 3.2 0a1.6 1.6 0 1 0 -3.2 0zM110.4 54.3a1.6 1.6 0 1 0 3.2 0a1.6 1.6 0 1 0 -3.2 0zM110.6 59.7a1.6 1.6 0 1 0 3.2 0a1.6 1.6 0 1 0 -3.2 0zM111.2 57.4a1.6 1.6 0 1 0 3.2 0a1.6 1.6 0 1 0 -3.2 0zM111.5 57.0a1.6 1.6 0 1 0 3.2 0a1.6 1.6 0 1 0 -3.2 0zM112.3 56.9a1.6 1.6 0 1 0 3.2 0a1.6 1.6 0 1 0 -3.2 0zM112.9 60.2a1.6 1.6 0 1 0 3.2 0a1.6 1.6 0 1 0 -3.2 0zM113.2 58.9a1.6 1.6 0 1 0 3.2 0a1.6 1.6 0 1 0 -3.2 0zM113.7 53.1a1.6 1.6 0 1 0 3.2 0a1.6 1.6 0 1 0 -3.2 0zM114.2 56.2a1.6 1.6 0 1 0 3.2 0a1.6 1.6 0 1 0 -3.2 0zM114.7 57.0a1.6 1.6 0 1 0 3.2 0a1.6 1.6 0 1 0 -3.2 0zM115.5 56.2a1.6 1.6 0 1 0 3.2 0a1.6 1.6 0 1 0 -3.2 0zM115.8 56.4a1.6 1.6 0 1 0 3.2 0a1.6 1.6 0 1 0 -3.2 0zM116.2 56.9a1.6 1.6 0 1 0 3.2 0a1.6 1.6 0 1 0 -3.2 0zM116.9 59.9a1.6 1.6 0 1 0 3.2 0a1.6 1.6 0 1 0 -3.2 0zM117.5 63.1a1.6 1.6 0 1 0 3.2 0a1.6 1.6 0 1 0 -3.2 0zM117.9 57.0a1.6 1.6 0 1 0 3.2 0a1.6 1.6 0 1 0 -3.2 0zM118.5 60.8a1.6 1.6 0 1 0 3.2 0a1.6 1.6 0 1 0 -3.2 0zM119.0 58.4a1.6 1.6 0 1 0 3.2 0a1.6 1.6 0 1 0 -3.2 0zM119.5 56.3a1.6 1.6 0 1 0 3.2 0a1.6 1.6 0 1 0 -3.2 0zM119.9 54.5a1.6 1.6 0 1 0 3.2 0a1.6 1.6 0 1 0 -3.2 0zM120.7 57.7a1.6 1.6 0 1 0 3.2 0a1.6 1.6 0 1 0 -3.2 0zM121.2 58.4a1.6 1.6 0 1 0 3.2 0a1.6 1.6 0 1 0 -3.2 0zM121.8 56.3a1.6 1.6 0 1 0 3.2 0a1.6 1.6 0 1 0 -3.2 0zM122.3 52.5a1.6 1.6 0 1 0 3.2 0a1.6 1.6 0 1 0 -3.2 0zM122.5 54.0a1.6 1.6 0 1 0 3.2 0a1.6 1.6 0 1 0 -3.2 0zM123.2 56.7a1.6 1.6 0 1 0 3.2 0a1.6 1.6 0 1 0 -3.2 0zM123.7 51.1a1.6 1.6 0 1 0 3.2 0a1.6 1.6 0 1 0 -3.2 0zM124.3 51.9a1.6 1.6 0 1 0 3.2 0a1.6 1.6 0 1 0 -3.2 0zM124.7 55.8a1.6 1.6 0 1 0 3.2 0a1.6 1.6 0 1 0 -3.2 0zM125.1 53.9a1.6 1.6 0 1 0 3.2 0a1.6 1.6 0 1 0 -3.2 0zM125.5 52.8a1.6 1.6 0 1 0 3.2 0a1.6 1.6 0 1 0 -3.2 0zM126.2 55.9a1.6 1.6 0 1 0 3.2 0a1.6 1.6 0 1 0 -3.2 0zM126.8 59.9a1.6 1.6 0 1 0 3.2 0a1.6 1.6 0 1 0 -3.2 0zM127.3 52.7a1.6 1.6 0 1 0 3.2 0a1.6 1.6 0 1 0 -3.2 0zM127.8 55.8a1.6 1.6 0 1 0 3.2 0a1.6 1.6 0 1 0 -3.2 0zM128.2 60.9a1.6 1.6 0 1 0 3.2 0a1.6 1.6 0 1 0 -3.2 0zM128.8 60.1a1.6 1.6 0 1 0 3.2 0a1.6 1.6 0 1 0 -3.2 0zM129.2 57.0a1.6 1.6 0 1 0 3.2 0a1.6 1.6 0 1 0 -3.2 0zM129.8 53.7a1.6 1.6 0 1 0 3.2 0a1.6 1.6 0 1 0 -3.2 0zM130.4 60.0a1.6 1.6 0 1 0 3.2 0a1.6 1.6 0 1 0 -3.2 0zM130.7 61.8a1.6 1.6 0 1 0 3.2 0a1.6 1.6 0 1 0 -3.2 0zM131.4 59.2a1.6 1.6 0 1 0 3.2 0a1.6 1.6 0 1 0 -3.2 0zM131.9 56.7a1.6 1.6 0 1 0 3.2 0a1.6 1.6 0 1 0 -3.2 0zM132.6 62.5a1.6 1.6 0 1 0 3.2 0a1.6 1.6 0 1 0 -3.2 0zM133.1 63.3a1.6 1.6 0 1 0 3.2 0a1.6 1.6 0 1 0 -3.2 0zM133.6 62.0a1.6 1.6 0 1 0 3.2 0a1.6 1.6 0 1 0 -3.2 0zM133.9 59.7a1.6 1.6 0 1 0 3.2 0a1.6 1.6 0 1 0 -3.2 0zM134.6 58.7a1.6 1.6 0 1 0 3.2 0a1.6 1.6 0 1 0 -3.2 0zM134.9 57.8a1.6 1.6 0 1 0 3.2 0a1.6 1.6 0 1 0 -3.2 0zM135.6 59.9a1.6 1.6 0 1 0 3.2 0a1.6 1.6 0 1 0 -3.2 0zM136.0 59.2a1.6 1.6 0 1 0 3.2 0a1.6 1.6 0 1 0 -3.2 0zM136.8 62.1a1.6 1.6 0 1 0 3.2 0a1.6 1.6 0 1 0 -3.2 0zM137.3 62.2a1.6 1.6 0 1 0 3.2 0a1.6 1.6 0 1 0 -3.2 0zM137.6 61.5a1.6 1.6 0 1 0 3.2 0a1.6 1.6 0 1 0 -3.2 0zM138.3 58.0a1.6 1.6 0 1 0 3.2 0a1.6 1.6 0 1 0 -3.2 0zM138.5 62.8a1.6 1.6 0 1 0 3.2 0a1.6 1.6 0 1 0 -3.2 0zM139.3 65.4a1.6 1.6 0 1 0 3.2 0a1.6 1.6 0 1 0 -3.2 0zM139.6 62.5a1.6 1.6 0 1 0 3.2 0a1.6 1.6 0 1 0 -3.2 0zM140.3 58.5a1.6 1.6 0 1 0 3.2 0a1.6 1.6 0 1 0 -3.2 0zM140.7 64.1a1.6 1.6 0 1 0 3.2 0a1.6 1.6 0 1 0 -3.2 0zM141.4 63.5a1.6 1.6 0 1 0 3.2 0a1.6 1.6 0 1 0 -3.2 0zM142.0 60.5a1.6 1.6 0 1 0 3.2 0a1.6 1.6 0 1 0 -3.2 0zM142.4 68.0a1.6 1.6 0 1 0 3.2 0a1.6 1.6 0 1 0 -3.2 0zM142.7 59.9a1.6 1.6 0 1 0 3.2 0a1.6 1.6 0 1 0 -3.2 0zM143.5 63.6a1.6 1.6 0 1 0 3.2 0a1.6 1.6 0 1 0 -3.2 0zM144.0 64.6a1.6 1.6 0 1 0 3.2 0a1.6 1.6 0 1 0 -3.2 0zM144.6 64.0a1.6 1.6 0 1 0 3.2 0a1.6 1.6 0 1 0 -3.2 0zM144.7 61.7a1.6 1.6 0 1 0 3.2 0a1.6 1.6 0 1 0 -3.2 0zM145.3 61.3a1.6 1.6 0 1 0 3.2 0a1.6 1.6 0 1 0 -3.2 0zM145.8 68.2a1.6 1.6 0 1 0 3.2 0a1.6 1.6 0 1 0 -3.2 0zM146.4 62.4a1.6 1.6 0 1 0 3.2 0a1.6 1.6 0 1 0 -3.2 0zM146.9 64.3a1.6 1.6 0 1 0 3.2 0a1.6 1.6 0 1 0 -3.2 0zM147.7 66.1a1.6 1.6 0 1 0 3.2 0a1.6 1.6 0 1 0 -3.2 0zM148.2 66.5a1.6 1.6 0 1 0 3.2 0a1.6 1.6 0 1 0 -3.2 0zM148.4 69.7a1.6 1.6 0 1 0 3.2 0a1.6 1.6 0 1 0 -3.2 0zM149.1 68.6a1.6 1.6 0 1 0 3.2 0a1.6 1.6 0 1 0 -3.2 0zM149.7 70.0a1.6 1.6 0 1 0 3.2 0a1.6 1.6 0 1 0 -3.2 0zM150.3 69.5a1.6 1.6 0 1 0 3.2 0a1.6 1.6 0 1 0 -3.2 0zM150.7 67.9a1.6 1.6 0 1 0 3.2 0a1.6 1.6 0 1 0 -3.2 0zM151.0 72.4a1.6 1.6 0 1 0 3.2 0a1.6 1.6 0 1 0 -3.2 0zM151.5 73.1a1.6 1.6 0 1 0 3.2 0a1.6 1.6 0 1 0 -3.2 0zM152.4 71.9a1.6 1.6 0 1 0 3.2 0a1.6 1.6 0 1 0 -3.2 0zM152.7 71.3a1.6 1.6 0 1 0 3.2 0a1.6 1.6 0 1 0 -3.2 0zM153.4 73.5a1.6 1.6 0 1 0 3.2 0a1.6 1.6 0 1 0 -3.2 0zM153.6 72.7a1.6 1.6 0 1 0 3.2 0a1.6 1.6 0 1 0 -3.2 0zM154.4 72.2a1.6 1.6 0 1 0 3.2 0a1.6 1.6 0 1 0 -3.2 0zM154.8 74.1a1.6 1.6 0 1 0 3.2 0a1.6 1.6 0 1 0 -3.2 0zM155.3 74.1a1.6 1.6 0 1 0 3.2 0a1.6 1.6 0 1 0 -3.2 0zM155.6 71.3a1.6 1.6 0 1 0 3.2 0a1.6 1.6 0 1 0 -3.2 0zM156.3 73.6a1.6 1.6 0 1 0 3.2 0a1.6 1.6 0 1 0 -3.2 0zM156.8 74.2a1.6 1.6 0 1 0 3.2 0a1.6 1.6 0 1 0 -3.2 0zM157.4 73.5a1.6 1.6 0 1 0 3.2 0a1.6 1.6 0 1 0 -3.2 0zM157.9 74.3a1.6 1.6 0 1 0 3.2 0a1.6 1.6 0 1 0 -3.2 0zM158.4 72.6a1.6 1.6 0 1 0 3.2 0a1.6 1.6 0 1 0 -3.2 0zM158.8 73.3a1.6 1.6 0 1 0 3.2 0a1.6 1.6 0 1 0 -3.2 0zM159.3 73.4a1.6 1.6 0 1 0 3.2 0a1.6 1.6 0 1 0 -3.2 0zM159.7 74.9a1.6 1.6 0 1 0 3.2 0a1.6 1.6 0 1 0 -3.2 0zM160.6 69.1a1.6 1.6 0 1 0 3.2 0a1.6 1.6 0 1 0 -3.2 0zM160.8 75.0a1.6 1.6 0 1 0 3.2 0a1.6 1.6 0 1 0 -3.2 0zM161.5 74.4a1.6 1.6 0 1 0 3.2 0a1.6 1.6 0 1 0 -3.2 0zM162.1 76.2a1.6 1.6 0 1 0 3.2 0a1.6 1.6 0 1 0 -3.2 0zM162.7 73.1a1.6 1.6 0 1 0 3.2 0a1.6 1.6 0 1 0 -3.2 0zM163.3 75.5a1.6 1.6 0 1 0 3.2 0a1.6 1.6 0 1 0 -3.2 0zM163.7 75.9a1.6 1.6 0 1 0 3.2 0a1.6 1.6 0 1 0 -3.2 0zM164.3 72.9a1.6 1.6 0 1 0 3.2 0a1.6 1.6 0 1 0 -3.2 0zM164.6 74.3a1.6 1.6 0 1 0 3.2 0a1.6 1.6 0 1 0 -3.2 0zM165.2 75.1a1.6 1.6 0 1 0 3.2 0a1.6 1.6 0 1 0 -3.2 0zM165.5 73.6a1.6 1.6 0 1 0 3.2 0a1.6 1.6 0 1 0 -3.2 0zM166.4 74.5a1.6 1.6 0 1 0 3.2 0a1.6 1.6 0 1 0 -3.2 0zM166.7 75.2a1.6 1.6 0 1 0 3.2 0a1.6 1.6 0 1 0 -3.2 0zM167.1 73.4a1.6 1.6 0 1 0 3.2 0a1.6 1.6 0 1 0 -3.2 0zM167.9 77.5a1.6 1.6 0 1 0 3.2 0a1.6 1.6 0 1 0 -3.2 0zM168.5 71.8a1.6 1.6 0 1 0 3.2 0a1.6 1.6 0 1 0 -3.2 0zM168.6 72.2a1.6 1.6 0 1 0 3.2 0a1.6 1.6 0 1 0 -3.2 0zM169.4 73.7a1.6 1.6 0 1 0 3.2 0a1.6 1.6 0 1 0 -3.2 0zM169.8 77.7a1.6 1.6 0 1 0 3.2 0a1.6 1.6 0 1 0 -3.2 0zM170.5 74.3a1.6 1.6 0 1 0 3.2 0a1.6 1.6 0 1 0 -3.2 0zM170.7 76.5a1.6 1.6 0 1 0 3.2 0a1.6 1.6 0 1 0 -3.2 0zM171.2 70.8a1.6 1.6 0 1 0 3.2 0a1.6 1.6 0 1 0 -3.2 0zM171.8 73.1a1.6 1.6 0 1 0 3.2 0a1.6 1.6 0 1 0 -3.2 0zM172.4 73.9a1.6 1.6 0 1 0 3.2 0a1.6 1.6 0 1 0 -3.2 0zM173.0 73.1a1.6 1.6 0 1 0 3.2 0a1.6 1.6 0 1 0 -3.2 0zM173.5 69.5a1.6 1.6 0 1 0 3.2 0a1.6 1.6 0 1 0 -3.2 0zM174.0 72.9a1.6 1.6 0 1 0 3.2 0a1.6 1.6 0 1 0 -3.2 0zM174.3 70.6a1.6 1.6 0 1 0 3.2 0a1.6 1.6 0 1 0 -3.2 0zM175.0 76.0a1.6 1.6 0 1 0 3.2 0a1.6 1.6 0 1 0 -3.2 0zM175.4 74.4a1.6 1.6 0 1 0 3.2 0a1.6 1.6 0 1 0 -3.2 0zM175.9 74.5a1.6 1.6 0 1 0 3.2 0a1.6 1.6 0 1 0 -3.2 0zM176.6 73.3a1.6 1.6 0 1 0 3.2 0a1.6 1.6 0 1 0 -3.2 0zM177.1 74.1a1.6 1.6 0 1 0 3.2 0a1.6 1.6 0 1 0 -3.2 0zM177.8 74.0a1.6 1.6 0 1 0 3.2 0a1.6 1.6 0 1 0 -3.2 0zM178.3 75.8a1.6 1.6 0 1 0 3.2 0a1.6 1.6 0 1 0 -3.2 0zM178.8 78.1a1.6 1.6 0 1 0 3.2 0a1.6 1.6 0 1 0 -3.2 0zM179.0 78.6a1.6 1.6 0 1 0 3.2 0a1.6 1.6 0 1 0 -3.2 0zM179.5 75.9a1.6 1.6 0 1 0 3.2 0a1.6 1.6 0 1 0 -3.2 0zM180.3 76.2a1.6 1.6 0 1 0 3.2 0a1.6 1.6 0 1 0 -3.2 0zM180.9 76.7a1.6 1.6 0 1 0 3.2 0a1.6 1.6 0 1 0 -3.2 0zM181.4 76.6a1.6 1.6 0 1 0 3.2 0a1.6 1.6 0 1 0 -3.2 0zM181.7 76.0a1.6 1.6 0 1 0 3.2 0a1.6 1.6 0 1 0 -3.2 0zM182.3 79.5a1.6 1.6 0 1 0 3.2 0a1.6 1.6 0 1 0 -3.2 0zM183.0 79.9a1.6 1.6 0 1 0 3.2 0a1.6 1.6 0 1 0 -3.2 0zM183.5 80.1a1.6 1.6 0 1 0 3.2 0a1.6 1.6 0 1 0 -3.2 0zM183.8 75.0a1.6 1.6 0 1 0 3.2 0a1.6 1.6 0 1 0 -3.2 0zM184.4 77.2a1.6 1.6 0 1 0 3.2 0a1.6 1.6 0 1 0 -3.2 0zM185.0 78.4a1.6 1.6 0 1 0 3.2 0a1.6 1.6 0 1 0 -3.2 0zM185.4 78.9a1.6 1.6 0 1 0 3.2 0a1.6 1.6 0 1 0 -3.2 0zM185.9 81.6a1.6 1.6 0 1 0 3.2 0a1.6 1.6 0 1 0 -3.2 0zM186.3 80.4a1.6 1.6 0 1 0 3.2 0a1.6 1.6 0 1 0 -3.2 0zM187.1 81.0a1.6 1.6 0 1 0 3.2 0a1.6 1.6 0 1 0 -3.2 0zM187.6 81.1a1.6 1.6 0 1 0 3.2 0a1.6 1.6 0 1 0 -3.2 0zM188.0 82.5a1.6 1.6 0 1 0 3.2 0a1.6 1.6 0 1 0 -3.2 0zM188.4 82.8a1.6 1.6 0 1 0 3.2 0a1.6 1.6 0 1 0 -3.2 0zM189.1 80.8a1.6 1.6 0 1 0 3.2 0a1.6 1.6 0 1 0 -3.2 0zM189.3 79.7a1.6 1.6 0 1 0 3.2 0a1.6 1.6 0 1 0 -3.2 0zM189.9 82.5a1.6 1.6 0 1 0 3.2 0a1.6 1.6 0 1 0 -3.2 0zM190.4 81.1a1.6 1.6 0 1 0 3.2 0a1.6 1.6 0 1 0 -3.2 0zM191.0 82.0a1.6 1.6 0 1 0 3.2 0a1.6 1.6 0 1 0 -3.2 0zM191.5 80.3a1.6 1.6 0 1 0 3.2 0a1.6 1.6 0 1 0 -3.2 0zM192.2 80.7a1.6 1.6 0 1 0 3.2 0a1.6 1.6 0 1 0 -3.2 0zM192.5 80.3a1.6 1.6 0 1 0 3.2 0a1.6 1.6 0 1 0 -3.2 0zM193.3 81.0a1.6 1.6 0 1 0 3.2 0a1.6 1.6 0 1 0 -3.2 0zM193.8 84.7a1.6 1.6 0 1 0 3.2 0a1.6 1.6 0 1 0 -3.2 0zM194.3 84.9a1.6 1.6 0 1 0 3.2 0a1.6 1.6 0 1 0 -3.2 0zM194.7 83.9a1.6 1.6 0 1 0 3.2 0a1.6 1.6 0 1 0 -3.2 0zM195.0 84.2a1.6 1.6 0 1 0 3.2 0a1.6 1.6 0 1 0 -3.2 0zM195.8 81.0a1.6 1.6 0 1 0 3.2 0a1.6 1.6 0 1 0 -3.2 0zM196.3 83.8a1.6 1.6 0 1 0 3.2 0a1.6 1.6 0 1 0 -3.2 0zM196.9 81.8a1.6 1.6 0 1 0 3.2 0a1.6 1.6 0 1 0 -3.2 0zM197.2 83.0a1.6 1.6 0 1 0 3.2 0a1.6 1.6 0 1 0 -3.2 0zM197.7 85.9a1.6 1.6 0 1 0 3.2 0a1.6 1.6 0 1 0 -3.2 0zM198.4 84.1a1.6 1.6 0 1 0 3.2 0a1.6 1.6 0 1 0 -3.2 0zM198.8 82.8a1.6 1.6 0 1 0 3.2 0a1.6 1.6 0 1 0 -3.2 0zM199.4 84.8a1.6 1.6 0 1 0 3.2 0a1.6 1.6 0 1 0 -3.2 0zM199.9 85.5a1.6 1.6 0 1 0 3.2 0a1.6 1.6 0 1 0 -3.2 0zM200.2 86.8a1.6 1.6 0 1 0 3.2 0a1.6 1.6 0 1 0 -3.2 0zM200.9 84.1a1.6 1.6 0 1 0 3.2 0a1.6 1.6 0 1 0 -3.2 0zM201.5 83.0a1.6 1.6 0 1 0 3.2 0a1.6 1.6 0 1 0 -3.2 0zM202.0 86.1a1.6 1.6 0 1 0 3.2 0a1.6 1.6 0 1 0 -3.2 0zM202.5 85.3a1.6 1.6 0 1 0 3.2 0a1.6 1.6 0 1 0 -3.2 0zM202.9 86.1a1.6 1.6 0 1 0 3.2 0a1.6 1.6 0 1 0 -3.2 0zM203.6 85.7a1.6 1.6 0 1 0 3.2 0a1.6 1.6 0 1 0 -3.2 0zM203.8 85.1a1.6 1.6 0 1 0 3.2 0a1.6 1.6 0 1 0 -3.2 0zM204.4 85.2a1.6 1.6 0 1 0 3.2 0a1.6 1.6 0 1 0 -3.2 0zM205.0 86.9a1.6 1.6 0 1 0 3.2 0a1.6 1.6 0 1 0 -3.2 0zM205.4 87.6a1.6 1.6 0 1 0 3.2 0a1.6 1.6 0 1 0 -3.2 0zM206.0 86.7a1.6 1.6 0 1 0 3.2 0a1.6 1.6 0 1 0 -3.2 0zM206.5 86.1a1.6 1.6 0 1 0 3.2 0a1.6 1.6 0 1 0 -3.2 0zM207.2 83.3a1.6 1.6 0 1 0 3.2 0a1.6 1.6 0 1 0 -3.2 0zM207.6 82.8a1.6 1.6 0 1 0 3.2 0a1.6 1.6 0 1 0 -3.2 0zM208.3 84.5a1.6 1.6 0 1 0 3.2 0a1.6 1.6 0 1 0 -3.2 0zM208.6 85.5a1.6 1.6 0 1 0 3.2 0a1.6 1.6 0 1 0 -3.2 0zM209.3 85.6a1.6 1.6 0 1 0 3.2 0a1.6 1.6 0 1 0 -3.2 0zM209.7 84.7a1.6 1.6 0 1 0 3.2 0a1.6 1.6 0 1 0 -3.2 0zM210.3 87.0a1.6 1.6 0 1 0 3.2 0a1.6 1.6 0 1 0 -3.2 0zM210.7 84.7a1.6 1.6 0 1 0 3.2 0a1.6 1.6 0 1 0 -3.2 0zM211.4 85.6a1.6 1.6 0 1 0 3.2 0a1.6 1.6 0 1 0 -3.2 0zM211.7 87.7a1.6 1.6 0 1 0 3.2 0a1.6 1.6 0 1 0 -3.2 0zM212.4 85.2a1.6 1.6 0 1 0 3.2 0a1.6 1.6 0 1 0 -3.2 0zM212.9 83.6a1.6 1.6 0 1 0 3.2 0a1.6 1.6 0 1 0 -3.2 0zM213.2 85.4a1.6 1.6 0 1 0 3.2 0a1.6 1.6 0 1 0 -3.2 0zM213.8 82.6a1.6 1.6 0 1 0 3.2 0a1.6 1.6 0 1 0 -3.2 0zM214.5 85.2a1.6 1.6 0 1 0 3.2 0a1.6 1.6 0 1 0 -3.2 0zM214.9 85.3a1.6 1.6 0 1 0 3.2 0a1.6 1.6 0 1 0 -3.2 0zM215.4 85.9a1.6 1.6 0 1 0 3.2 0a1.6 1.6 0 1 0 -3.2 0zM215.9 84.1a1.6 1.6 0 1 0 3.2 0a1.6 1.6 0 1 0 -3.2 0zM216.6 85.2a1.6 1.6 0 1 0 3.2 0a1.6 1.6 0 1 0 -3.2 0zM217.0 88.2a1.6 1.6 0 1 0 3.2 0a1.6 1.6 0 1 0 -3.2 0zM217.4 85.0a1.6 1.6 0 1 0 3.2 0a1.6 1.6 0 1 0 -3.2 0zM218.2 81.0a1.6 1.6 0 1 0 3.2 0a1.6 1.6 0 1 0 -3.2 0zM218.5 84.9a1.6 1.6 0 1 0 3.2 0a1.6 1.6 0 1 0 -3.2 0zM218.9 83.2a1.6 1.6 0 1 0 3.2 0a1.6 1.6 0 1 0 -3.2 0zM219.4 86.4a1.6 1.6 0 1 0 3.2 0a1.6 1.6 0 1 0 -3.2 0zM220.3 83.5a1.6 1.6 0 1 0 3.2 0a1.6 1.6 0 1 0 -3.2 0zM220.5 85.2a1.6 1.6 0 1 0 3.2 0a1.6 1.6 0 1 0 -3.2 0zM221.0 86.8a1.6 1.6 0 1 0 3.2 0a1.6 1.6 0 1 0 -3.2 0zM221.6 86.7a1.6 1.6 0 1 0 3.2 0a1.6 1.6 0 1 0 -3.2 0zM222.2 84.1a1.6 1.6 0 1 0 3.2 0a1.6 1.6 0 1 0 -3.2 0zM222.8 83.7a1.6 1.6 0 1 0 3.2 0a1.6 1.6 0 1 0 -3.2 0zM223.2 85.2a1.6 1.6 0 1 0 3.2 0a1.6 1.6 0 1 0 -3.2 0zM223.8 84.7a1.6 1.6 0 1 0 3.2 0a1.6 1.6 0 1 0 -3.2 0zM224.1 84.3a1.6 1.6 0 1 0 3.2 0a1.6 1.6 0 1 0 -3.2 0zM224.6 83.6a1.6 1.6 0 1 0 3.2 0a1.6 1.6 0 1 0 -3.2 0zM225.4 84.9a1.6 1.6 0 1 0 3.2 0a1.6 1.6 0 1 0 -3.2 0zM225.9 82.6a1.6 1.6 0 1 0 3.2 0a1.6 1.6 0 1 0 -3.2 0zM226.1 83.9a1.6 1.6 0 1 0 3.2 0a1.6 1.6 0 1 0 -3.2 0zM227.0 84.3a1.6 1.6 0 1 0 3.2 0a1.6 1.6 0 1 0 -3.2 0zM227.5 83.4a1.6 1.6 0 1 0 3.2 0a1.6 1.6 0 1 0 -3.2 0zM227.7 84.7a1.6 1.6 0 1 0 3.2 0a1.6 1.6 0 1 0 -3.2 0zM228.3 86.3a1.6 1.6 0 1 0 3.2 0a1.6 1.6 0 1 0 -3.2 0zM228.9 86.4a1.6 1.6 0 1 0 3.2 0a1.6 1.6 0 1 0 -3.2 0zM229.2 83.4a1.6 1.6 0 1 0 3.2 0a1.6 1.6 0 1 0 -3.2 0zM230.1 84.7a1.6 1.6 0 1 0 3.2 0a1.6 1.6 0 1 0 -3.2 0zM230.3 88.0a1.6 1.6 0 1 0 3.2 0a1.6 1.6 0 1 0 -3.2 0zM230.9 84.5a1.6 1.6 0 1 0 3.2 0a1.6 1.6 0 1 0 -3.2 0zM231.7 85.6a1.6 1.6 0 1 0 3.2 0a1.6 1.6 0 1 0 -3.2 0zM231.9 85.6a1.6 1.6 0 1 0 3.2 0a1.6 1.6 0 1 0 -3.2 0zM232.8 87.0a1.6 1.6 0 1 0 3.2 0a1.6 1.6 0 1 0 -3.2 0zM232.9 85.2a1.6 1.6 0 1 0 3.2 0a1.6 1.6 0 1 0 -3.2 0zM233.5 85.4a1.6 1.6 0 1 0 3.2 0a1.6 1.6 0 1 0 -3.2 0zM233.9 88.0a1.6 1.6 0 1 0 3.2 0a1.6 1.6 0 1 0 -3.2 0zM234.4 88.5a1.6 1.6 0 1 0 3.2 0a1.6 1.6 0 1 0 -3.2 0zM235.2 87.9a1.6 1.6 0 1 0 3.2 0a1.6 1.6 0 1 0 -3.2 0zM235.7 86.9a1.6 1.6 0 1 0 3.2 0a1.6 1.6 0 1 0 -3.2 0zM236.3 86.1a1.6 1.6 0 1 0 3.2 0a1.6 1.6 0 1 0 -3.2 0zM236.8 85.0a1.6 1.6 0 1 0 3.2 0a1.6 1.6 0 1 0 -3.2 0zM237.4 86.2a1.6 1.6 0 1 0 3.2 0a1.6 1.6 0 1 0 -3.2 0zM237.6 85.6a1.6 1.6 0 1 0 3.2 0a1.6 1.6 0 1 0 -3.2 0zM238.2 83.1a1.6 1.6 0 1 0 3.2 0a1.6 1.6 0 1 0 -3.2 0zM239.0 84.5a1.6 1.6 0 1 0 3.2 0a1.6 1.6 0 1 0 -3.2 0zM239.5 86.5a1.6 1.6 0 1 0 3.2 0a1.6 1.6 0 1 0 -3.2 0zM239.6 85.8a1.6 1.6 0 1 0 3.2 0a1.6 1.6 0 1 0 -3.2 0zM240.5 86.8a1.6 1.6 0 1 0 3.2 0a1.6 1.6 0 1 0 -3.2 0z" fill="#161616"/>
<text transform="translate(15.7 57.5) rotate(-90)" font-size="7.9" text-anchor="middle" fill="#111" stroke="#111" stroke-width="0.2">F ERp5 (x10<tspan font-size="5" dy="-2.5">3</tspan><tspan dy="2.5">)</tspan></text>
<text x="134" y="125" font-size="8.2" text-anchor="middle" font-weight="bold" fill="#111" stroke="#111" stroke-width="0.3" >sec</text>
<path d="M249.5 84h2.8V97.2h-2.8" stroke="#555" stroke-width="0.8" fill="none"/>
<text x="257" y="89.6" font-size="8" text-anchor="middle" font-weight="bold" fill="#111" stroke="#111" stroke-width="0.3" transform="rotate(90 257 89.6)" dy="3.6">**</text>
<path d="M303.7 12.9V98.9H499.5" stroke="#383838" stroke-width="1.0" fill="none"/><text x="298.7" y="101.78" font-size="8" text-anchor="end" font-weight="normal" fill="#111" stroke="#111" stroke-width="0.3" >0</text><text x="298.7" y="73.11333333333333" font-size="8" text-anchor="end" font-weight="normal" fill="#111" stroke="#111" stroke-width="0.3" >50</text><text x="298.7" y="44.44666666666667" font-size="8" text-anchor="end" font-weight="normal" fill="#111" stroke="#111" stroke-width="0.3" >100</text><text x="298.7" y="15.780000000000005" font-size="8" text-anchor="end" font-weight="normal" fill="#111" stroke="#111" stroke-width="0.3" >150</text><text x="303.7" y="109.8" font-size="8" text-anchor="middle" font-weight="normal" fill="#111" stroke="#111" stroke-width="0.3" >0</text><text x="323.28" y="109.8" font-size="8" text-anchor="middle" font-weight="normal" fill="#111" stroke="#111" stroke-width="0.3" >20</text><text x="342.86" y="109.8" font-size="8" text-anchor="middle" font-weight="normal" fill="#111" stroke="#111" stroke-width="0.3" >40</text><text x="362.44" y="109.8" font-size="8" text-anchor="middle" font-weight="normal" fill="#111" stroke="#111" stroke-width="0.3" >60</text><text x="382.02" y="109.8" font-size="8" text-anchor="middle" font-weight="normal" fill="#111" stroke="#111" stroke-width="0.3" >80</text><text x="401.6" y="109.8" font-size="8" text-anchor="middle" font-weight="normal" fill="#111" stroke="#111" stroke-width="0.3" >100</text><text x="421.18" y="109.8" font-size="8" text-anchor="middle" font-weight="normal" fill="#111" stroke="#111" stroke-width="0.3" >120</text><text x="440.76" y="109.8" font-size="8" text-anchor="middle" font-weight="normal" fill="#111" stroke="#111" stroke-width="0.3" >140</text><text x="460.34" y="109.8" font-size="8" text-anchor="middle" font-weight="normal" fill="#111" stroke="#111" stroke-width="0.3" >160</text><text x="479.91999999999996" y="109.8" font-size="8" text-anchor="middle" font-weight="normal" fill="#111" stroke="#111" stroke-width="0.3" >180</text><text x="499.5" y="109.8" font-size="8" text-anchor="middle" font-weight="normal" fill="#111" stroke="#111" stroke-width="0.3" >200</text><path d="M301.2 98.9H303.7M301.2 70.2H303.7M301.2 41.6H303.7M301.2 12.9H303.7M303.7 98.9v2.5M323.3 98.9v2.5M342.9 98.9v2.5M362.4 98.9v2.5M382.0 98.9v2.5M401.6 98.9v2.5M421.2 98.9v2.5M440.8 98.9v2.5M460.3 98.9v2.5M479.9 98.9v2.5M499.5 98.9v2.5" stroke="#383838" stroke-width="1.0" fill="none"/>
<path d="M303.8 66.6V80.0M302.8 66.6h2.0M302.8 80.0h2.0M304.2 63.6V77.4M303.2 63.6h2.0M303.2 77.4h2.0M304.7 64.5V75.6M303.7 64.5h2.0M303.7 75.6h2.0M305.1 63.4V75.5M304.1 63.4h2.0M304.1 75.5h2.0M305.5 58.2V74.6M304.5 58.2h2.0M304.5 74.6h2.0M306.2 55.8V73.2M305.2 55.8h2.0M305.2 73.2h2.0M306.5 47.4V69.2M305.5 47.4h2.0M305.5 69.2h2.0M307.0 44.2V60.5M306.0 44.2h2.0M306.0 60.5h2.0M307.7 39.7V63.8M306.7 39.7h2.0M306.7 63.8h2.0M308.2 44.8V61.9M307.2 44.8h2.0M307.2 61.9h2.0M308.4 46.9V79.1M307.4 46.9h2.0M307.4 79.1h2.0M309.3 52.9V72.4M308.3 52.9h2.0M308.3 72.4h2.0M309.4 59.0V71.4M308.4 59.0h2.0M308.4 71.4h2.0M310.1 59.3V75.7M309.1 59.3h2.0M309.1 75.7h2.0M310.4 63.0V74.3M309.4 63.0h2.0M309.4 74.3h2.0M310.9 61.0V76.7M309.9 61.0h2.0M309.9 76.7h2.0M311.6 62.7V76.7M310.6 62.7h2.0M310.6 76.7h2.0M312.2 61.0V78.2M311.2 61.0h2.0M311.2 78.2h2.0M312.5 66.3V77.1M311.5 66.3h2.0M311.5 77.1h2.0M313.2 54.9V84.1M312.2 54.9h2.0M312.2 84.1h2.0M313.5 64.8V77.8M312.5 64.8h2.0M312.5 77.8h2.0M314.0 66.2V80.9M313.0 66.2h2.0M313.0 80.9h2.0M314.3 66.4V78.1M313.3 66.4h2.0M313.3 78.1h2.0M314.8 65.9V79.7M313.8 65.9h2.0M313.8 79.7h2.0M315.3 70.2V79.1M314.3 70.2h2.0M314.3 79.1h2.0M316.1 69.8V79.1M315.1 69.8h2.0M315.1 79.1h2.0M316.3 69.8V79.8M315.3 69.8h2.0M315.3 79.8h2.0M317.0 71.3V80.6M316.0 71.3h2.0M316.0 80.6h2.0M317.4 69.7V82.4M316.4 69.7h2.0M316.4 82.4h2.0M318.0 74.2V84.2M317.0 74.2h2.0M317.0 84.2h2.0M318.3 74.6V82.6M317.3 74.6h2.0M317.3 82.6h2.0M318.8 73.2V82.2M317.8 73.2h2.0M317.8 82.2h2.0M319.6 74.6V84.1M318.6 74.6h2.0M318.6 84.1h2.0M320.0 76.1V83.8M319.0 76.1h2.0M319.0 83.8h2.0M320.3 75.7V83.4M319.3 75.7h2.0M319.3 83.4h2.0M320.9 77.8V84.4M319.9 77.8h2.0M319.9 84.4h2.0M321.5 76.3V87.3M320.5 76.3h2.0M320.5 87.3h2.0M321.8 77.0V84.7M320.8 77.0h2.0M320.8 84.7h2.0M322.2 75.1V83.2M321.2 75.1h2.0M321.2 83.2h2.0M322.9 76.5V84.7M321.9 76.5h2.0M321.9 84.7h2.0M323.2 76.3V86.0M322.2 76.3h2.0M322.2 86.0h2.0M323.9 75.9V85.3M322.9 75.9h2.0M322.9 85.3h2.0M324.3 77.9V85.1M323.3 77.9h2.0M323.3 85.1h2.0M324.7 78.7V87.1M323.7 78.7h2.0M323.7 87.1h2.0M325.4 79.0V86.5M324.4 79.0h2.0M324.4 86.5h2.0M325.8 78.1V88.0M324.8 78.1h2.0M324.8 88.0h2.0M326.0 80.6V89.2M325.0 80.6h2.0M325.0 89.2h2.0M326.8 80.2V87.4M325.8 80.2h2.0M325.8 87.4h2.0M327.1 79.6V88.9M326.1 79.6h2.0M326.1 88.9h2.0M327.5 80.4V87.3M326.5 80.4h2.0M326.5 87.3h2.0M328.0 80.4V86.8M327.0 80.4h2.0M327.0 86.8h2.0M328.6 79.9V87.2M327.6 79.9h2.0M327.6 87.2h2.0M329.1 79.9V89.0M328.1 79.9h2.0M328.1 89.0h2.0M329.7 80.9V89.7M328.7 80.9h2.0M328.7 89.7h2.0M330.2 81.0V89.5M329.2 81.0h2.0M329.2 89.5h2.0M330.6 80.8V87.9M329.6 80.8h2.0M329.6 87.9h2.0M331.2 80.2V88.4M330.2 80.2h2.0M330.2 88.4h2.0M331.7 81.5V90.0M330.7 81.5h2.0M330.7 90.0h2.0M331.9 81.9V90.1M330.9 81.9h2.0M330.9 90.1h2.0M332.4 82.9V89.1M331.4 82.9h2.0M331.4 89.1h2.0M333.2 82.9V90.4M332.2 82.9h2.0M332.2 90.4h2.0M333.4 83.3V90.6M332.4 83.3h2.0M332.4 90.6h2.0M334.0 83.2V91.1M333.0 83.2h2.0M333.0 91.1h2.0M334.5 84.9V90.0M333.5 84.9h2.0M333.5 90.0h2.0M334.9 84.0V90.8M333.9 84.0h2.0M333.9 90.8h2.0M335.7 86.6V91.4M334.7 86.6h2.0M334.7 91.4h2.0M336.1 85.6V91.6M335.1 85.6h2.0M335.1 91.6h2.0M336.7 85.2V91.7M335.7 85.2h2.0M335.7 91.7h2.0M336.9 84.1V91.0M335.9 84.1h2.0M335.9 91.0h2.0M337.7 85.2V91.9M336.7 85.2h2.0M336.7 91.9h2.0M338.0 85.7V92.4M337.0 85.7h2.0M337.0 92.4h2.0M338.5 86.6V91.7M337.5 86.6h2.0M337.5 91.7h2.0M338.9 86.7V91.3M337.9 86.7h2.0M337.9 91.3h2.0M339.4 88.6V92.4M338.4 88.6h2.0M338.4 92.4h2.0M339.8 86.6V92.4M338.8 86.6h2.0M338.8 92.4h2.0M340.6 88.1V93.4M339.6 88.1h2.0M339.6 93.4h2.0M341.0 87.7V92.9M340.0 87.7h2.0M340.0 92.9h2.0M341.5 88.9V93.2M340.5 88.9h2.0M340.5 93.2h2.0M342.1 89.3V92.9M341.1 89.3h2.0M341.1 92.9h2.0M342.4 86.2V95.9M341.4 86.2h2.0M341.4 95.9h2.0M342.9 88.6V93.1M341.9 88.6h2.0M341.9 93.1h2.0M343.2 89.1V93.0M342.2 89.1h2.0M342.2 93.0h2.0M343.9 89.6V93.9M342.9 89.6h2.0M342.9 93.9h2.0M344.2 90.5V93.9M343.2 90.5h2.0M343.2 93.9h2.0M344.7 89.5V94.0M343.7 89.5h2.0M343.7 94.0h2.0M345.5 90.2V94.6M344.5 90.2h2.0M344.5 94.6h2.0M345.8 89.9V93.5M344.8 89.9h2.0M344.8 93.5h2.0M346.5 89.2V94.0M345.5 89.2h2.0M345.5 94.0h2.0M346.7 89.3V93.2M345.7 89.3h2.0M345.7 93.2h2.0M347.4 90.6V94.0M346.4 90.6h2.0M346.4 94.0h2.0M347.9 90.5V93.6M346.9 90.5h2.0M346.9 93.6h2.0M348.2 90.4V95.5M347.2 90.4h2.0M347.2 95.5h2.0M348.8 91.0V94.7M347.8 91.0h2.0M347.8 94.7h2.0M349.2 91.0V94.3M348.2 91.0h2.0M348.2 94.3h2.0M349.8 89.7V94.4M348.8 89.7h2.0M348.8 94.4h2.0M350.2 90.4V94.5M349.2 90.4h2.0M349.2 94.5h2.0M350.9 90.5V93.7M349.9 90.5h2.0M349.9 93.7h2.0M351.2 89.8V93.6M350.2 89.8h2.0M350.2 93.6h2.0M351.6 90.8V95.5M350.6 90.8h2.0M350.6 95.5h2.0M352.1 91.4V95.2M351.1 91.4h2.0M351.1 95.2h2.0M352.8 90.6V94.6M351.8 90.6h2.0M351.8 94.6h2.0M353.3 90.7V94.2M352.3 90.7h2.0M352.3 94.2h2.0M353.6 91.1V94.4M352.6 91.1h2.0M352.6 94.4h2.0M354.0 91.4V94.1M353.0 91.4h2.0M353.0 94.1h2.0M354.5 89.8V97.4M353.5 89.8h2.0M353.5 97.4h2.0M355.2 91.4V95.6M354.2 91.4h2.0M354.2 95.6h2.0M355.6 91.1V95.7M354.6 91.1h2.0M354.6 95.7h2.0M355.9 90.9V94.4M354.9 90.9h2.0M354.9 94.4h2.0M356.5 91.4V95.7M355.5 91.4h2.0M355.5 95.7h2.0M357.3 90.8V94.5M356.3 90.8h2.0M356.3 94.5h2.0M357.4 90.4V96.1M356.4 90.4h2.0M356.4 96.1h2.0M357.9 92.2V95.0M356.9 92.2h2.0M356.9 95.0h2.0M358.6 91.9V95.6M357.6 91.9h2.0M357.6 95.6h2.0M359.0 91.6V95.0M358.0 91.6h2.0M358.0 95.0h2.0M359.7 92.8V95.7M358.7 92.8h2.0M358.7 95.7h2.0M359.8 91.9V94.7M358.8 91.9h2.0M358.8 94.7h2.0M360.3 92.4V96.3M359.3 92.4h2.0M359.3 96.3h2.0M361.1 92.0V98.2M360.1 92.0h2.0M360.1 98.2h2.0M361.6 92.7V96.0M360.6 92.7h2.0M360.6 96.0h2.0M362.1 92.5V96.7M361.1 92.5h2.0M361.1 96.7h2.0M362.3 93.2V96.7M361.3 93.2h2.0M361.3 96.7h2.0M363.1 93.9V96.3M362.1 93.9h2.0M362.1 96.3h2.0M363.2 92.8V96.0M362.2 92.8h2.0M362.2 96.0h2.0M364.0 92.7V96.0M363.0 92.7h2.0M363.0 96.0h2.0M364.6 93.0V97.1M363.6 93.0h2.0M363.6 97.1h2.0M364.8 92.7V95.7M363.8 92.7h2.0M363.8 95.7h2.0M365.5 93.7V97.3M364.5 93.7h2.0M364.5 97.3h2.0M366.0 92.9V95.7M365.0 92.9h2.0M365.0 95.7h2.0M366.2 93.8V97.1M365.2 93.8h2.0M365.2 97.1h2.0M366.7 92.5V96.3M365.7 92.5h2.0M365.7 96.3h2.0M367.2 93.6V97.1M366.2 93.6h2.0M366.2 97.1h2.0M367.8 93.3V96.5M366.8 93.3h2.0M366.8 96.5h2.0M368.4 94.2V96.5M367.4 94.2h2.0M367.4 96.5h2.0M368.8 92.6V96.2M367.8 92.6h2.0M367.8 96.2h2.0M369.4 93.4V96.0M368.4 93.4h2.0M368.4 96.0h2.0M369.7 93.4V96.7M368.7 93.4h2.0M368.7 96.7h2.0M370.2 94.3V96.9M369.2 94.3h2.0M369.2 96.9h2.0M370.8 93.0V95.8M369.8 93.0h2.0M369.8 95.8h2.0M371.2 93.5V96.8M370.2 93.5h2.0M370.2 96.8h2.0M371.6 93.8V96.6M370.6 93.8h2.0M370.6 96.6h2.0M372.3 94.3V96.6M371.3 94.3h2.0M371.3 96.6h2.0M372.6 92.8V96.0M371.6 92.8h2.0M371.6 96.0h2.0M373.1 93.9V96.5M372.1 93.9h2.0M372.1 96.5h2.0M373.9 95.0V97.1M372.9 95.0h2.0M372.9 97.1h2.0M374.2 94.0V96.1M373.2 94.0h2.0M373.2 96.1h2.0M374.9 95.4V97.9M373.9 95.4h2.0M373.9 97.9h2.0M375.3 94.5V96.7M374.3 94.5h2.0M374.3 96.7h2.0M375.5 94.4V96.9M374.5 94.4h2.0M374.5 96.9h2.0M376.3 93.8V96.5M375.3 93.8h2.0M375.3 96.5h2.0M376.7 94.1V97.4M375.7 94.1h2.0M375.7 97.4h2.0M377.2 93.5V96.6M376.2 93.5h2.0M376.2 96.6h2.0M377.8 95.0V97.1M376.8 95.0h2.0M376.8 97.1h2.0M378.2 94.2V97.1M377.2 94.2h2.0M377.2 97.1h2.0M378.8 94.3V97.6M377.8 94.3h2.0M377.8 97.6h2.0M379.1 93.8V96.8M378.1 93.8h2.0M378.1 96.8h2.0M379.6 94.5V97.1M378.6 94.5h2.0M378.6 97.1h2.0M380.1 94.1V96.6M379.1 94.1h2.0M379.1 96.6h2.0M380.5 94.4V97.6M379.5 94.4h2.0M379.5 97.6h2.0M380.9 94.7V98.1M379.9 94.7h2.0M379.9 98.1h2.0M381.4 95.5V98.2M380.4 95.5h2.0M380.4 98.2h2.0M381.9 94.6V98.9M380.9 94.6h2.0M380.9 98.9h2.0M382.6 94.6V97.8M381.6 94.6h2.0M381.6 97.8h2.0M383.1 93.9V97.1M382.1 93.9h2.0M382.1 97.1h2.0M383.5 94.9V97.2M382.5 94.9h2.0M382.5 97.2h2.0M383.9 94.6V97.9M382.9 94.6h2.0M382.9 97.9h2.0M384.3 93.5V98.3M383.3 93.5h2.0M383.3 98.3h2.0M385.1 94.7V96.7M384.1 94.7h2.0M384.1 96.7h2.0M385.5 94.7V97.9M384.5 94.7h2.0M384.5 97.9h2.0M385.7 95.7V97.5M384.7 95.7h2.0M384.7 97.5h2.0M386.2 95.6V98.2M385.2 95.6h2.0M385.2 98.2h2.0M387.0 94.7V97.8M386.0 94.7h2.0M386.0 97.8h2.0M387.6 95.8V97.8M386.6 95.8h2.0M386.6 97.8h2.0M387.8 94.6V97.6M386.8 94.6h2.0M386.8 97.6h2.0M388.3 94.5V97.5M387.3 94.5h2.0M387.3 97.5h2.0M389.0 95.7V97.6M388.0 95.7h2.0M388.0 97.6h2.0M389.2 95.8V97.9M388.2 95.8h2.0M388.2 97.9h2.0M390.1 95.3V97.9M389.1 95.3h2.0M389.1 97.9h2.0M390.2 93.9V96.5M389.2 93.9h2.0M389.2 96.5h2.0M390.8 95.7V98.1M389.8 95.7h2.0M389.8 98.1h2.0M391.2 95.9V97.8M390.2 95.9h2.0M390.2 97.8h2.0M391.7 95.1V97.8M390.7 95.1h2.0M390.7 97.8h2.0M392.3 95.2V97.5M391.3 95.2h2.0M391.3 97.5h2.0M392.8 94.0V97.7M391.8 94.0h2.0M391.8 97.7h2.0M393.2 95.3V98.0M392.2 95.3h2.0M392.2 98.0h2.0M393.7 94.9V97.1M392.7 94.9h2.0M392.7 97.1h2.0M394.4 96.0V98.5M393.4 96.0h2.0M393.4 98.5h2.0M394.9 95.1V97.4M393.9 95.1h2.0M393.9 97.4h2.0M395.2 95.2V98.9M394.2 95.2h2.0M394.2 98.9h2.0M395.7 95.7V98.1M394.7 95.7h2.0M394.7 98.1h2.0M396.1 95.5V97.4M395.1 95.5h2.0M395.1 97.4h2.0M396.9 95.3V97.3M395.9 95.3h2.0M395.9 97.3h2.0M397.0 96.2V97.8M396.0 96.2h2.0M396.0 97.8h2.0M397.5 96.0V98.4M396.5 96.0h2.0M396.5 98.4h2.0M398.0 95.9V97.9M397.0 95.9h2.0M397.0 97.9h2.0M398.7 96.0V98.5M397.7 96.0h2.0M397.7 98.5h2.0M399.0 95.6V98.0M398.0 95.6h2.0M398.0 98.0h2.0M399.5 95.7V97.3M398.5 95.7h2.0M398.5 97.3h2.0M400.3 95.4V97.8M399.3 95.4h2.0M399.3 97.8h2.0M400.7 96.7V98.6M399.7 96.7h2.0M399.7 98.6h2.0M401.0 96.7V98.8M400.0 96.7h2.0M400.0 98.8h2.0M401.8 96.5V98.7M400.8 96.5h2.0M400.8 98.7h2.0M402.0 95.9V98.0M401.0 95.9h2.0M401.0 98.0h2.0M402.7 95.3V97.4M401.7 95.3h2.0M401.7 97.4h2.0M402.9 96.0V98.1M401.9 96.0h2.0M401.9 98.1h2.0M403.6 95.7V97.3M402.6 95.7h2.0M402.6 97.3h2.0M404.1 96.2V97.7M403.1 96.2h2.0M403.1 97.7h2.0M404.5 97.7V98.9M403.5 97.7h2.0M403.5 98.9h2.0M405.1 96.4V98.3M404.1 96.4h2.0M404.1 98.3h2.0M405.4 97.4V98.9M404.4 97.4h2.0M404.4 98.9h2.0M406.1 95.8V98.9M405.1 95.8h2.0M405.1 98.9h2.0M406.3 96.7V98.9M405.3 96.7h2.0M405.3 98.9h2.0M407.1 96.5V98.4M406.1 96.5h2.0M406.1 98.4h2.0M407.4 96.2V98.9M406.4 96.2h2.0M406.4 98.9h2.0M408.1 95.9V98.3M407.1 95.9h2.0M407.1 98.3h2.0M408.7 96.8V98.9M407.7 96.8h2.0M407.7 98.9h2.0M409.0 97.1V98.7M408.0 97.1h2.0M408.0 98.7h2.0M409.4 97.1V98.9M408.4 97.1h2.0M408.4 98.9h2.0M409.9 96.2V97.9M408.9 96.2h2.0M408.9 97.9h2.0M410.5 96.7V98.5M409.5 96.7h2.0M409.5 98.5h2.0M411.0 96.1V98.3M410.0 96.1h2.0M410.0 98.3h2.0M411.3 96.7V98.6M410.3 96.7h2.0M410.3 98.6h2.0M411.8 96.2V97.9M410.8 96.2h2.0M410.8 97.9h2.0M412.4 96.3V98.5M411.4 96.3h2.0M411.4 98.5h2.0M412.8 96.7V98.4M411.8 96.7h2.0M411.8 98.4h2.0M413.5 96.4V98.6M412.5 96.4h2.0M412.5 98.6h2.0M413.9 95.9V98.0M412.9 95.9h2.0M412.9 98.0h2.0M414.2 95.8V97.9M413.2 95.8h2.0M413.2 97.9h2.0M414.8 95.2V98.9M413.8 95.2h2.0M413.8 98.9h2.0M415.4 96.4V98.8M414.4 96.4h2.0M414.4 98.8h2.0M415.9 96.2V98.4M414.9 96.2h2.0M414.9 98.4h2.0M416.2 97.1V98.8M415.2 97.1h2.0M415.2 98.8h2.0M416.9 97.4V98.9M415.9 97.4h2.0M415.9 98.9h2.0M417.2 96.7V98.5M416.2 96.7h2.0M416.2 98.5h2.0M417.9 96.5V98.2M416.9 96.5h2.0M416.9 98.2h2.0M418.4 96.1V97.9M417.4 96.1h2.0M417.4 97.9h2.0M418.7 95.5V97.7M417.7 95.5h2.0M417.7 97.7h2.0M419.2 96.4V98.7M418.2 96.4h2.0M418.2 98.7h2.0M419.7 97.1V98.5M418.7 97.1h2.0M418.7 98.5h2.0M420.1 97.3V98.6M419.1 97.3h2.0M419.1 98.6h2.0M420.6 96.9V98.9M419.6 96.9h2.0M419.6 98.9h2.0M421.2 96.1V98.9M420.2 96.1h2.0M420.2 98.9h2.0M421.6 96.7V98.9M420.6 96.7h2.0M420.6 98.9h2.0M422.1 96.6V98.6M421.1 96.6h2.0M421.1 98.6h2.0M422.7 96.3V98.3M421.7 96.3h2.0M421.7 98.3h2.0M423.1 97.2V98.8M422.1 97.2h2.0M422.1 98.8h2.0M423.8 97.5V98.9M422.8 97.5h2.0M422.8 98.9h2.0M424.0 97.3V98.9M423.0 97.3h2.0M423.0 98.9h2.0M424.7 95.8V98.9M423.7 95.8h2.0M423.7 98.9h2.0M425.1 97.1V98.9M424.1 97.1h2.0M424.1 98.9h2.0M425.6 97.6V98.9M424.6 97.6h2.0M424.6 98.9h2.0M426.1 96.6V98.8M425.1 96.6h2.0M425.1 98.8h2.0M426.7 97.4V98.9M425.7 97.4h2.0M425.7 98.9h2.0M426.9 95.9V98.3M425.9 95.9h2.0M425.9 98.3h2.0M427.4 96.4V98.9M426.4 96.4h2.0M426.4 98.9h2.0M428.0 96.0V97.8M427.0 96.0h2.0M427.0 97.8h2.0M428.4 96.2V98.5M427.4 96.2h2.0M427.4 98.5h2.0M429.0 96.2V98.1M428.0 96.2h2.0M428.0 98.1h2.0M429.4 96.7V98.4M428.4 96.7h2.0M428.4 98.4h2.0M429.9 97.0V98.9M428.9 97.0h2.0M428.9 98.9h2.0M430.5 96.1V97.6M429.5 96.1h2.0M429.5 97.6h2.0M430.9 95.7V97.4M429.9 95.7h2.0M429.9 97.4h2.0M431.4 96.3V98.7M430.4 96.3h2.0M430.4 98.7h2.0M432.0 97.6V98.9M431.0 97.6h2.0M431.0 98.9h2.0M432.6 97.0V98.6M431.6 97.0h2.0M431.6 98.6h2.0M432.9 96.5V98.7M431.9 96.5h2.0M431.9 98.7h2.0M433.5 97.0V98.9M432.5 97.0h2.0M432.5 98.9h2.0M433.9 97.3V98.9M432.9 97.3h2.0M432.9 98.9h2.0M434.3 97.1V98.9M433.3 97.1h2.0M433.3 98.9h2.0M434.9 96.8V98.3M433.9 96.8h2.0M433.9 98.3h2.0M435.2 96.4V98.4M434.2 96.4h2.0M434.2 98.4h2.0M435.7 96.7V98.7M434.7 96.7h2.0M434.7 98.7h2.0M436.5 97.4V98.9M435.5 97.4h2.0M435.5 98.9h2.0M436.8 96.5V98.1M435.8 96.5h2.0M435.8 98.1h2.0M437.3 97.4V98.9M436.3 97.4h2.0M436.3 98.9h2.0M437.9 96.9V98.9M436.9 96.9h2.0M436.9 98.9h2.0M438.5 95.5V98.9M437.5 95.5h2.0M437.5 98.9h2.0M439.0 96.0V97.6M438.0 96.0h2.0M438.0 97.6h2.0M439.5 96.2V97.6M438.5 96.2h2.0M438.5 97.6h2.0M439.9 96.2V98.5M438.9 96.2h2.0M438.9 98.5h2.0M440.2 97.2V98.9M439.2 97.2h2.0M439.2 98.9h2.0M440.6 96.3V98.9M439.6 96.3h2.0M439.6 98.9h2.0M441.2 97.0V98.5M440.2 97.0h2.0M440.2 98.5h2.0M441.9 96.5V98.8M440.9 96.5h2.0M440.9 98.8h2.0M442.1 95.7V97.9M441.1 95.7h2.0M441.1 97.9h2.0M442.8 97.7V98.9M441.8 97.7h2.0M441.8 98.9h2.0M443.3 97.0V98.9M442.3 97.0h2.0M442.3 98.9h2.0M443.8 96.4V97.9M442.8 96.4h2.0M442.8 97.9h2.0M444.4 97.0V98.6M443.4 97.0h2.0M443.4 98.6h2.0M444.8 96.8V98.9M443.8 96.8h2.0M443.8 98.9h2.0M445.0 97.3V98.9M444.0 97.3h2.0M444.0 98.9h2.0M445.7 96.9V98.6M444.7 96.9h2.0M444.7 98.6h2.0M446.3 97.5V98.9M445.3 97.5h2.0M445.3 98.9h2.0M446.6 96.7V98.3M445.6 96.7h2.0M445.6 98.3h2.0M447.0 96.7V98.7M446.0 96.7h2.0M446.0 98.7h2.0M447.6 97.5V98.9M446.6 97.5h2.0M446.6 98.9h2.0M448.2 97.5V98.9M447.2 97.5h2.0M447.2 98.9h2.0M448.7 97.4V98.9M447.7 97.4h2.0M447.7 98.9h2.0M449.1 97.5V98.9M448.1 97.5h2.0M448.1 98.9h2.0M449.5 95.2V98.9M448.5 95.2h2.0M448.5 98.9h2.0M449.9 96.6V98.6M448.9 96.6h2.0M448.9 98.6h2.0M450.7 97.2V98.9M449.7 97.2h2.0M449.7 98.9h2.0M451.1 96.3V98.2M450.1 96.3h2.0M450.1 98.2h2.0M451.4 97.0V98.6M450.4 97.0h2.0M450.4 98.6h2.0M452.2 97.2V98.8M451.2 97.2h2.0M451.2 98.8h2.0M452.4 97.6V98.9M451.4 97.6h2.0M451.4 98.9h2.0M453.0 96.7V98.6M452.0 96.7h2.0M452.0 98.6h2.0M453.3 96.4V98.6M452.3 96.4h2.0M452.3 98.6h2.0M454.0 95.7V98.9M453.0 95.7h2.0M453.0 98.9h2.0M454.6 97.1V98.7M453.6 97.1h2.0M453.6 98.7h2.0M455.0 97.3V98.9M454.0 97.3h2.0M454.0 98.9h2.0M455.3 96.9V98.7M454.3 96.9h2.0M454.3 98.7h2.0M456.0 97.7V98.9M455.0 97.7h2.0M455.0 98.9h2.0M456.6 97.0V98.9M455.6 97.0h2.0M455.6 98.9h2.0M456.7 96.6V98.2M455.7 96.6h2.0M455.7 98.2h2.0M457.3 96.7V98.4M456.3 96.7h2.0M456.3 98.4h2.0M457.7 96.6V98.7M456.7 96.6h2.0M456.7 98.7h2.0M458.3 96.7V98.1M457.3 96.7h2.0M457.3 98.1h2.0M458.7 96.1V98.5M457.7 96.1h2.0M457.7 98.5h2.0M459.3 95.9V98.9M458.3 95.9h2.0M458.3 98.9h2.0M460.0 96.6V98.1M459.0 96.6h2.0M459.0 98.1h2.0M460.3 96.5V98.3M459.3 96.5h2.0M459.3 98.3h2.0M460.8 96.5V98.1M459.8 96.5h2.0M459.8 98.1h2.0M461.4 96.8V98.6M460.4 96.8h2.0M460.4 98.6h2.0M461.8 97.2V98.9M460.8 97.2h2.0M460.8 98.9h2.0M462.2 97.5V98.9M461.2 97.5h2.0M461.2 98.9h2.0M462.8 95.0V98.7M461.8 95.0h2.0M461.8 98.7h2.0M463.1 97.4V98.9M462.1 97.4h2.0M462.1 98.9h2.0M463.8 97.0V98.6M462.8 97.0h2.0M462.8 98.6h2.0M464.0 96.4V98.4M463.0 96.4h2.0M463.0 98.4h2.0M464.6 97.1V98.8M463.6 97.1h2.0M463.6 98.8h2.0M465.4 96.9V98.6M464.4 96.9h2.0M464.4 98.6h2.0M465.8 97.4V98.9M464.8 97.4h2.0M464.8 98.9h2.0M466.0 96.1V98.9M465.0 96.1h2.0M465.0 98.9h2.0M466.7 96.4V98.2M465.7 96.4h2.0M465.7 98.2h2.0M467.2 97.0V98.5M466.2 97.0h2.0M466.2 98.5h2.0M467.6 97.7V98.9M466.6 97.7h2.0M466.6 98.9h2.0M468.2 96.8V98.5M467.2 96.8h2.0M467.2 98.5h2.0M468.5 97.4V98.9M467.5 97.4h2.0M467.5 98.9h2.0M469.3 96.7V98.9M468.3 96.7h2.0M468.3 98.9h2.0M469.5 97.9V98.9M468.5 97.9h2.0M468.5 98.9h2.0M470.3 96.7V98.5M469.3 96.7h2.0M469.3 98.5h2.0M470.4 96.1V97.9M469.4 96.1h2.0M469.4 97.9h2.0M471.0 96.6V98.9M470.0 96.6h2.0M470.0 98.9h2.0M471.4 95.8V98.9M470.4 95.8h2.0M470.4 98.9h2.0M471.9 96.6V98.7M470.9 96.6h2.0M470.9 98.7h2.0M472.4 97.5V98.9M471.4 97.5h2.0M471.4 98.9h2.0M472.9 96.6V98.0M471.9 96.6h2.0M471.9 98.0h2.0M473.5 97.1V98.9M472.5 97.1h2.0M472.5 98.9h2.0M474.2 97.0V98.6M473.2 97.0h2.0M473.2 98.6h2.0M474.5 96.4V98.7M473.5 96.4h2.0M473.5 98.7h2.0M474.8 96.1V98.4M473.8 96.1h2.0M473.8 98.4h2.0M475.4 96.1V98.3M474.4 96.1h2.0M474.4 98.3h2.0M476.0 96.8V98.4M475.0 96.8h2.0M475.0 98.4h2.0M476.6 97.3V98.9M475.6 97.3h2.0M475.6 98.9h2.0M477.0 96.4V98.6M476.0 96.4h2.0M476.0 98.6h2.0M477.6 96.8V98.7M476.6 96.8h2.0M476.6 98.7h2.0M478.1 96.4V98.2M477.1 96.4h2.0M477.1 98.2h2.0M478.6 96.1V98.5M477.6 96.1h2.0M477.6 98.5h2.0M479.0 95.4V97.6M478.0 95.4h2.0M478.0 97.6h2.0M479.5 96.2V98.4M478.5 96.2h2.0M478.5 98.4h2.0M479.8 95.7V98.0M478.8 95.7h2.0M478.8 98.0h2.0M480.5 96.3V98.1M479.5 96.3h2.0M479.5 98.1h2.0M480.7 96.1V98.2M479.7 96.1h2.0M479.7 98.2h2.0M481.3 97.4V98.8M480.3 97.4h2.0M480.3 98.8h2.0M481.8 96.1V97.9M480.8 96.1h2.0M480.8 97.9h2.0M482.3 96.2V98.3M481.3 96.2h2.0M481.3 98.3h2.0M482.7 96.1V98.0M481.7 96.1h2.0M481.7 98.0h2.0M483.3 95.8V98.2M482.3 95.8h2.0M482.3 98.2h2.0M483.9 97.4V98.9M482.9 97.4h2.0M482.9 98.9h2.0M484.2 96.4V98.7M483.2 96.4h2.0M483.2 98.7h2.0M484.7 97.5V98.9M483.7 97.5h2.0M483.7 98.9h2.0M485.4 96.6V98.9M484.4 96.6h2.0M484.4 98.9h2.0M485.8 96.8V98.4M484.8 96.8h2.0M484.8 98.4h2.0M486.4 96.9V98.5M485.4 96.9h2.0M485.4 98.5h2.0M486.7 96.2V98.5M485.7 96.2h2.0M485.7 98.5h2.0M487.0 96.6V98.4M486.0 96.6h2.0M486.0 98.4h2.0M487.5 96.9V98.7M486.5 96.9h2.0M486.5 98.7h2.0M488.1 95.4V98.9M487.1 95.4h2.0M487.1 98.9h2.0M488.6 97.6V98.9M487.6 97.6h2.0M487.6 98.9h2.0M489.1 97.6V98.9M488.1 97.6h2.0M488.1 98.9h2.0M489.9 97.4V98.9M488.9 97.4h2.0M488.9 98.9h2.0M490.3 96.3V97.7M489.3 96.3h2.0M489.3 97.7h2.0M490.7 96.7V98.8M489.7 96.7h2.0M489.7 98.8h2.0M491.1 97.2V98.8M490.1 97.2h2.0M490.1 98.8h2.0M491.7 97.2V98.9M490.7 97.2h2.0M490.7 98.9h2.0M492.3 96.6V98.9M491.3 96.6h2.0M491.3 98.9h2.0M492.8 96.9V98.6M491.8 96.9h2.0M491.8 98.6h2.0M493.3 96.9V98.9M492.3 96.9h2.0M492.3 98.9h2.0M493.8 96.4V98.5M492.8 96.4h2.0M492.8 98.5h2.0M494.0 96.5V98.7M493.0 96.5h2.0M493.0 98.7h2.0M494.7 97.1V98.9M493.7 97.1h2.0M493.7 98.9h2.0M494.9 97.4V98.9M493.9 97.4h2.0M493.9 98.9h2.0M495.8 96.7V98.4M494.8 96.7h2.0M494.8 98.4h2.0M495.9 96.8V98.8M494.9 96.8h2.0M494.9 98.8h2.0M496.4 96.9V98.4M495.4 96.9h2.0M495.4 98.4h2.0M497.3 97.5V98.9M496.3 97.5h2.0M496.3 98.9h2.0M497.7 96.4V98.6M496.7 96.4h2.0M496.7 98.6h2.0" stroke="#d4d4d4" stroke-width="0.9" fill="none"/><path d="M302.5 73.3a1.3 1.3 0 1 0 2.6 0a1.3 1.3 0 1 0 -2.6 0zM302.9 70.5a1.3 1.3 0 1 0 2.6 0a1.3 1.3 0 1 0 -2.6 0zM303.4 70.1a1.3 1.3 0 1 0 2.6 0a1.3 1.3 0 1 0 -2.6 0zM303.8 69.5a1.3 1.3 0 1 0 2.6 0a1.3 1.3 0 1 0 -2.6 0zM304.2 66.4a1.3 1.3 0 1 0 2.6 0a1.3 1.3 0 1 0 -2.6 0zM304.9 64.5a1.3 1.3 0 1 0 2.6 0a1.3 1.3 0 1 0 -2.6 0zM305.2 58.3a1.3 1.3 0 1 0 2.6 0a1.3 1.3 0 1 0 -2.6 0zM305.7 52.4a1.3 1.3 0 1 0 2.6 0a1.3 1.3 0 1 0 -2.6 0zM306.4 51.8a1.3 1.3 0 1 0 2.6 0a1.3 1.3 0 1 0 -2.6 0zM306.9 53.4a1.3 1.3 0 1 0 2.6 0a1.3 1.3 0 1 0 -2.6 0zM307.1 63.0a1.3 1.3 0 1 0 2.6 0a1.3 1.3 0 1 0 -2.6 0zM308.0 62.7a1.3 1.3 0 1 0 2.6 0a1.3 1.3 0 1 0 -2.6 0zM308.1 65.2a1.3 1.3 0 1 0 2.6 0a1.3 1.3 0 1 0 -2.6 0zM308.8 67.5a1.3 1.3 0 1 0 2.6 0a1.3 1.3 0 1 0 -2.6 0zM309.1 68.7a1.3 1.3 0 1 0 2.6 0a1.3 1.3 0 1 0 -2.6 0zM309.6 68.9a1.3 1.3 0 1 0 2.6 0a1.3 1.3 0 1 0 -2.6 0zM310.3 69.7a1.3 1.3 0 1 0 2.6 0a1.3 1.3 0 1 0 -2.6 0zM310.9 69.6a1.3 1.3 0 1 0 2.6 0a1.3 1.3 0 1 0 -2.6 0zM311.2 71.7a1.3 1.3 0 1 0 2.6 0a1.3 1.3 0 1 0 -2.6 0zM311.9 69.5a1.3 1.3 0 1 0 2.6 0a1.3 1.3 0 1 0 -2.6 0zM312.2 71.3a1.3 1.3 0 1 0 2.6 0a1.3 1.3 0 1 0 -2.6 0zM312.7 73.6a1.3 1.3 0 1 0 2.6 0a1.3 1.3 0 1 0 -2.6 0zM313.0 72.2a1.3 1.3 0 1 0 2.6 0a1.3 1.3 0 1 0 -2.6 0zM313.5 72.8a1.3 1.3 0 1 0 2.6 0a1.3 1.3 0 1 0 -2.6 0zM314.0 74.6a1.3 1.3 0 1 0 2.6 0a1.3 1.3 0 1 0 -2.6 0zM314.8 74.4a1.3 1.3 0 1 0 2.6 0a1.3 1.3 0 1 0 -2.6 0zM315.0 74.8a1.3 1.3 0 1 0 2.6 0a1.3 1.3 0 1 0 -2.6 0zM315.7 76.0a1.3 1.3 0 1 0 2.6 0a1.3 1.3 0 1 0 -2.6 0zM316.1 76.1a1.3 1.3 0 1 0 2.6 0a1.3 1.3 0 1 0 -2.6 0zM316.7 79.2a1.3 1.3 0 1 0 2.6 0a1.3 1.3 0 1 0 -2.6 0zM317.0 78.6a1.3 1.3 0 1 0 2.6 0a1.3 1.3 0 1 0 -2.6 0zM317.5 77.7a1.3 1.3 0 1 0 2.6 0a1.3 1.3 0 1 0 -2.6 0zM318.3 79.3a1.3 1.3 0 1 0 2.6 0a1.3 1.3 0 1 0 -2.6 0zM318.7 80.0a1.3 1.3 0 1 0 2.6 0a1.3 1.3 0 1 0 -2.6 0zM319.0 79.5a1.3 1.3 0 1 0 2.6 0a1.3 1.3 0 1 0 -2.6 0zM319.6 81.1a1.3 1.3 0 1 0 2.6 0a1.3 1.3 0 1 0 -2.6 0zM320.2 81.8a1.3 1.3 0 1 0 2.6 0a1.3 1.3 0 1 0 -2.6 0zM320.5 80.9a1.3 1.3 0 1 0 2.6 0a1.3 1.3 0 1 0 -2.6 0zM320.9 79.2a1.3 1.3 0 1 0 2.6 0a1.3 1.3 0 1 0 -2.6 0zM321.6 80.6a1.3 1.3 0 1 0 2.6 0a1.3 1.3 0 1 0 -2.6 0zM321.9 81.2a1.3 1.3 0 1 0 2.6 0a1.3 1.3 0 1 0 -2.6 0zM322.6 80.6a1.3 1.3 0 1 0 2.6 0a1.3 1.3 0 1 0 -2.6 0zM323.0 81.5a1.3 1.3 0 1 0 2.6 0a1.3 1.3 0 1 0 -2.6 0zM323.4 82.9a1.3 1.3 0 1 0 2.6 0a1.3 1.3 0 1 0 -2.6 0zM324.1 82.8a1.3 1.3 0 1 0 2.6 0a1.3 1.3 0 1 0 -2.6 0zM324.5 83.0a1.3 1.3 0 1 0 2.6 0a1.3 1.3 0 1 0 -2.6 0zM324.7 84.9a1.3 1.3 0 1 0 2.6 0a1.3 1.3 0 1 0 -2.6 0zM325.5 83.8a1.3 1.3 0 1 0 2.6 0a1.3 1.3 0 1 0 -2.6 0zM325.8 84.3a1.3 1.3 0 1 0 2.6 0a1.3 1.3 0 1 0 -2.6 0zM326.2 83.8a1.3 1.3 0 1 0 2.6 0a1.3 1.3 0 1 0 -2.6 0zM326.7 83.6a1.3 1.3 0 1 0 2.6 0a1.3 1.3 0 1 0 -2.6 0zM327.3 83.5a1.3 1.3 0 1 0 2.6 0a1.3 1.3 0 1 0 -2.6 0zM327.8 84.5a1.3 1.3 0 1 0 2.6 0a1.3 1.3 0 1 0 -2.6 0zM328.4 85.3a1.3 1.3 0 1 0 2.6 0a1.3 1.3 0 1 0 -2.6 0zM328.9 85.2a1.3 1.3 0 1 0 2.6 0a1.3 1.3 0 1 0 -2.6 0zM329.3 84.4a1.3 1.3 0 1 0 2.6 0a1.3 1.3 0 1 0 -2.6 0zM329.9 84.3a1.3 1.3 0 1 0 2.6 0a1.3 1.3 0 1 0 -2.6 0zM330.4 85.7a1.3 1.3 0 1 0 2.6 0a1.3 1.3 0 1 0 -2.6 0zM330.6 86.0a1.3 1.3 0 1 0 2.6 0a1.3 1.3 0 1 0 -2.6 0zM331.1 86.0a1.3 1.3 0 1 0 2.6 0a1.3 1.3 0 1 0 -2.6 0zM331.9 86.7a1.3 1.3 0 1 0 2.6 0a1.3 1.3 0 1 0 -2.6 0zM332.1 86.9a1.3 1.3 0 1 0 2.6 0a1.3 1.3 0 1 0 -2.6 0zM332.7 87.2a1.3 1.3 0 1 0 2.6 0a1.3 1.3 0 1 0 -2.6 0zM333.2 87.5a1.3 1.3 0 1 0 2.6 0a1.3 1.3 0 1 0 -2.6 0zM333.6 87.4a1.3 1.3 0 1 0 2.6 0a1.3 1.3 0 1 0 -2.6 0zM334.4 89.0a1.3 1.3 0 1 0 2.6 0a1.3 1.3 0 1 0 -2.6 0zM334.8 88.6a1.3 1.3 0 1 0 2.6 0a1.3 1.3 0 1 0 -2.6 0zM335.4 88.4a1.3 1.3 0 1 0 2.6 0a1.3 1.3 0 1 0 -2.6 0zM335.6 87.6a1.3 1.3 0 1 0 2.6 0a1.3 1.3 0 1 0 -2.6 0zM336.4 88.6a1.3 1.3 0 1 0 2.6 0a1.3 1.3 0 1 0 -2.6 0zM336.7 89.1a1.3 1.3 0 1 0 2.6 0a1.3 1.3 0 1 0 -2.6 0zM337.2 89.1a1.3 1.3 0 1 0 2.6 0a1.3 1.3 0 1 0 -2.6 0zM337.6 89.0a1.3 1.3 0 1 0 2.6 0a1.3 1.3 0 1 0 -2.6 0zM338.1 90.5a1.3 1.3 0 1 0 2.6 0a1.3 1.3 0 1 0 -2.6 0zM338.5 89.5a1.3 1.3 0 1 0 2.6 0a1.3 1.3 0 1 0 -2.6 0zM339.3 90.8a1.3 1.3 0 1 0 2.6 0a1.3 1.3 0 1 0 -2.6 0zM339.7 90.3a1.3 1.3 0 1 0 2.6 0a1.3 1.3 0 1 0 -2.6 0zM340.2 91.0a1.3 1.3 0 1 0 2.6 0a1.3 1.3 0 1 0 -2.6 0zM340.8 91.1a1.3 1.3 0 1 0 2.6 0a1.3 1.3 0 1 0 -2.6 0zM341.1 91.0a1.3 1.3 0 1 0 2.6 0a1.3 1.3 0 1 0 -2.6 0zM341.6 90.8a1.3 1.3 0 1 0 2.6 0a1.3 1.3 0 1 0 -2.6 0zM341.9 91.0a1.3 1.3 0 1 0 2.6 0a1.3 1.3 0 1 0 -2.6 0zM342.6 91.7a1.3 1.3 0 1 0 2.6 0a1.3 1.3 0 1 0 -2.6 0zM342.9 92.2a1.3 1.3 0 1 0 2.6 0a1.3 1.3 0 1 0 -2.6 0zM343.4 91.7a1.3 1.3 0 1 0 2.6 0a1.3 1.3 0 1 0 -2.6 0zM344.2 92.4a1.3 1.3 0 1 0 2.6 0a1.3 1.3 0 1 0 -2.6 0zM344.5 91.7a1.3 1.3 0 1 0 2.6 0a1.3 1.3 0 1 0 -2.6 0zM345.2 91.6a1.3 1.3 0 1 0 2.6 0a1.3 1.3 0 1 0 -2.6 0zM345.4 91.3a1.3 1.3 0 1 0 2.6 0a1.3 1.3 0 1 0 -2.6 0zM346.1 92.3a1.3 1.3 0 1 0 2.6 0a1.3 1.3 0 1 0 -2.6 0zM346.6 92.1a1.3 1.3 0 1 0 2.6 0a1.3 1.3 0 1 0 -2.6 0zM346.9 92.9a1.3 1.3 0 1 0 2.6 0a1.3 1.3 0 1 0 -2.6 0zM347.5 92.8a1.3 1.3 0 1 0 2.6 0a1.3 1.3 0 1 0 -2.6 0zM347.9 92.6a1.3 1.3 0 1 0 2.6 0a1.3 1.3 0 1 0 -2.6 0zM348.5 92.1a1.3 1.3 0 1 0 2.6 0a1.3 1.3 0 1 0 -2.6 0zM348.9 92.4a1.3 1.3 0 1 0 2.6 0a1.3 1.3 0 1 0 -2.6 0zM349.6 92.1a1.3 1.3 0 1 0 2.6 0a1.3 1.3 0 1 0 -2.6 0zM349.9 91.7a1.3 1.3 0 1 0 2.6 0a1.3 1.3 0 1 0 -2.6 0zM350.3 93.2a1.3 1.3 0 1 0 2.6 0a1.3 1.3 0 1 0 -2.6 0zM350.8 93.3a1.3 1.3 0 1 0 2.6 0a1.3 1.3 0 1 0 -2.6 0zM351.5 92.6a1.3 1.3 0 1 0 2.6 0a1.3 1.3 0 1 0 -2.6 0zM352.0 92.4a1.3 1.3 0 1 0 2.6 0a1.3 1.3 0 1 0 -2.6 0zM352.3 92.7a1.3 1.3 0 1 0 2.6 0a1.3 1.3 0 1 0 -2.6 0zM352.7 92.7a1.3 1.3 0 1 0 2.6 0a1.3 1.3 0 1 0 -2.6 0zM353.2 93.6a1.3 1.3 0 1 0 2.6 0a1.3 1.3 0 1 0 -2.6 0zM353.9 93.5a1.3 1.3 0 1 0 2.6 0a1.3 1.3 0 1 0 -2.6 0zM354.3 93.4a1.3 1.3 0 1 0 2.6 0a1.3 1.3 0 1 0 -2.6 0zM354.6 92.6a1.3 1.3 0 1 0 2.6 0a1.3 1.3 0 1 0 -2.6 0zM355.2 93.5a1.3 1.3 0 1 0 2.6 0a1.3 1.3 0 1 0 -2.6 0zM356.0 92.7a1.3 1.3 0 1 0 2.6 0a1.3 1.3 0 1 0 -2.6 0zM356.1 93.2a1.3 1.3 0 1 0 2.6 0a1.3 1.3 0 1 0 -2.6 0zM356.6 93.6a1.3 1.3 0 1 0 2.6 0a1.3 1.3 0 1 0 -2.6 0zM357.3 93.8a1.3 1.3 0 1 0 2.6 0a1.3 1.3 0 1 0 -2.6 0zM357.7 93.3a1.3 1.3 0 1 0 2.6 0a1.3 1.3 0 1 0 -2.6 0zM358.4 94.3a1.3 1.3 0 1 0 2.6 0a1.3 1.3 0 1 0 -2.6 0zM358.5 93.3a1.3 1.3 0 1 0 2.6 0a1.3 1.3 0 1 0 -2.6 0zM359.0 94.4a1.3 1.3 0 1 0 2.6 0a1.3 1.3 0 1 0 -2.6 0zM359.8 95.1a1.3 1.3 0 1 0 2.6 0a1.3 1.3 0 1 0 -2.6 0zM360.3 94.3a1.3 1.3 0 1 0 2.6 0a1.3 1.3 0 1 0 -2.6 0zM360.8 94.6a1.3 1.3 0 1 0 2.6 0a1.3 1.3 0 1 0 -2.6 0zM361.0 95.0a1.3 1.3 0 1 0 2.6 0a1.3 1.3 0 1 0 -2.6 0zM361.8 95.1a1.3 1.3 0 1 0 2.6 0a1.3 1.3 0 1 0 -2.6 0zM361.9 94.4a1.3 1.3 0 1 0 2.6 0a1.3 1.3 0 1 0 -2.6 0zM362.7 94.4a1.3 1.3 0 1 0 2.6 0a1.3 1.3 0 1 0 -2.6 0zM363.3 95.0a1.3 1.3 0 1 0 2.6 0a1.3 1.3 0 1 0 -2.6 0zM363.5 94.2a1.3 1.3 0 1 0 2.6 0a1.3 1.3 0 1 0 -2.6 0zM364.2 95.5a1.3 1.3 0 1 0 2.6 0a1.3 1.3 0 1 0 -2.6 0zM364.7 94.3a1.3 1.3 0 1 0 2.6 0a1.3 1.3 0 1 0 -2.6 0zM364.9 95.5a1.3 1.3 0 1 0 2.6 0a1.3 1.3 0 1 0 -2.6 0zM365.4 94.4a1.3 1.3 0 1 0 2.6 0a1.3 1.3 0 1 0 -2.6 0zM365.9 95.4a1.3 1.3 0 1 0 2.6 0a1.3 1.3 0 1 0 -2.6 0zM366.5 94.9a1.3 1.3 0 1 0 2.6 0a1.3 1.3 0 1 0 -2.6 0zM367.1 95.4a1.3 1.3 0 1 0 2.6 0a1.3 1.3 0 1 0 -2.6 0zM367.5 94.4a1.3 1.3 0 1 0 2.6 0a1.3 1.3 0 1 0 -2.6 0zM368.1 94.7a1.3 1.3 0 1 0 2.6 0a1.3 1.3 0 1 0 -2.6 0zM368.4 95.1a1.3 1.3 0 1 0 2.6 0a1.3 1.3 0 1 0 -2.6 0zM368.9 95.6a1.3 1.3 0 1 0 2.6 0a1.3 1.3 0 1 0 -2.6 0zM369.5 94.4a1.3 1.3 0 1 0 2.6 0a1.3 1.3 0 1 0 -2.6 0zM369.9 95.1a1.3 1.3 0 1 0 2.6 0a1.3 1.3 0 1 0 -2.6 0zM370.3 95.2a1.3 1.3 0 1 0 2.6 0a1.3 1.3 0 1 0 -2.6 0zM371.0 95.4a1.3 1.3 0 1 0 2.6 0a1.3 1.3 0 1 0 -2.6 0zM371.3 94.4a1.3 1.3 0 1 0 2.6 0a1.3 1.3 0 1 0 -2.6 0zM371.8 95.2a1.3 1.3 0 1 0 2.6 0a1.3 1.3 0 1 0 -2.6 0zM372.6 96.0a1.3 1.3 0 1 0 2.6 0a1.3 1.3 0 1 0 -2.6 0zM372.9 95.1a1.3 1.3 0 1 0 2.6 0a1.3 1.3 0 1 0 -2.6 0zM373.6 96.7a1.3 1.3 0 1 0 2.6 0a1.3 1.3 0 1 0 -2.6 0zM374.0 95.6a1.3 1.3 0 1 0 2.6 0a1.3 1.3 0 1 0 -2.6 0zM374.2 95.7a1.3 1.3 0 1 0 2.6 0a1.3 1.3 0 1 0 -2.6 0zM375.0 95.1a1.3 1.3 0 1 0 2.6 0a1.3 1.3 0 1 0 -2.6 0zM375.4 95.8a1.3 1.3 0 1 0 2.6 0a1.3 1.3 0 1 0 -2.6 0zM375.9 95.1a1.3 1.3 0 1 0 2.6 0a1.3 1.3 0 1 0 -2.6 0zM376.5 96.1a1.3 1.3 0 1 0 2.6 0a1.3 1.3 0 1 0 -2.6 0zM376.9 95.7a1.3 1.3 0 1 0 2.6 0a1.3 1.3 0 1 0 -2.6 0zM377.5 95.9a1.3 1.3 0 1 0 2.6 0a1.3 1.3 0 1 0 -2.6 0zM377.8 95.3a1.3 1.3 0 1 0 2.6 0a1.3 1.3 0 1 0 -2.6 0zM378.3 95.8a1.3 1.3 0 1 0 2.6 0a1.3 1.3 0 1 0 -2.6 0zM378.8 95.3a1.3 1.3 0 1 0 2.6 0a1.3 1.3 0 1 0 -2.6 0zM379.2 96.0a1.3 1.3 0 1 0 2.6 0a1.3 1.3 0 1 0 -2.6 0zM379.6 96.4a1.3 1.3 0 1 0 2.6 0a1.3 1.3 0 1 0 -2.6 0zM380.1 96.8a1.3 1.3 0 1 0 2.6 0a1.3 1.3 0 1 0 -2.6 0zM380.6 96.8a1.3 1.3 0 1 0 2.6 0a1.3 1.3 0 1 0 -2.6 0zM381.3 96.2a1.3 1.3 0 1 0 2.6 0a1.3 1.3 0 1 0 -2.6 0zM381.8 95.5a1.3 1.3 0 1 0 2.6 0a1.3 1.3 0 1 0 -2.6 0zM382.2 96.1a1.3 1.3 0 1 0 2.6 0a1.3 1.3 0 1 0 -2.6 0zM382.6 96.2a1.3 1.3 0 1 0 2.6 0a1.3 1.3 0 1 0 -2.6 0zM383.0 95.9a1.3 1.3 0 1 0 2.6 0a1.3 1.3 0 1 0 -2.6 0zM383.8 95.7a1.3 1.3 0 1 0 2.6 0a1.3 1.3 0 1 0 -2.6 0zM384.2 96.3a1.3 1.3 0 1 0 2.6 0a1.3 1.3 0 1 0 -2.6 0zM384.4 96.6a1.3 1.3 0 1 0 2.6 0a1.3 1.3 0 1 0 -2.6 0zM384.9 96.9a1.3 1.3 0 1 0 2.6 0a1.3 1.3 0 1 0 -2.6 0zM385.7 96.2a1.3 1.3 0 1 0 2.6 0a1.3 1.3 0 1 0 -2.6 0zM386.3 96.8a1.3 1.3 0 1 0 2.6 0a1.3 1.3 0 1 0 -2.6 0zM386.5 96.1a1.3 1.3 0 1 0 2.6 0a1.3 1.3 0 1 0 -2.6 0zM387.0 96.0a1.3 1.3 0 1 0 2.6 0a1.3 1.3 0 1 0 -2.6 0zM387.7 96.7a1.3 1.3 0 1 0 2.6 0a1.3 1.3 0 1 0 -2.6 0zM387.9 96.8a1.3 1.3 0 1 0 2.6 0a1.3 1.3 0 1 0 -2.6 0zM388.8 96.6a1.3 1.3 0 1 0 2.6 0a1.3 1.3 0 1 0 -2.6 0zM388.9 95.2a1.3 1.3 0 1 0 2.6 0a1.3 1.3 0 1 0 -2.6 0zM389.5 96.9a1.3 1.3 0 1 0 2.6 0a1.3 1.3 0 1 0 -2.6 0zM389.9 96.9a1.3 1.3 0 1 0 2.6 0a1.3 1.3 0 1 0 -2.6 0zM390.4 96.4a1.3 1.3 0 1 0 2.6 0a1.3 1.3 0 1 0 -2.6 0zM391.0 96.3a1.3 1.3 0 1 0 2.6 0a1.3 1.3 0 1 0 -2.6 0zM391.5 95.9a1.3 1.3 0 1 0 2.6 0a1.3 1.3 0 1 0 -2.6 0zM391.9 96.6a1.3 1.3 0 1 0 2.6 0a1.3 1.3 0 1 0 -2.6 0zM392.4 96.0a1.3 1.3 0 1 0 2.6 0a1.3 1.3 0 1 0 -2.6 0zM393.1 97.2a1.3 1.3 0 1 0 2.6 0a1.3 1.3 0 1 0 -2.6 0zM393.6 96.2a1.3 1.3 0 1 0 2.6 0a1.3 1.3 0 1 0 -2.6 0zM393.9 97.1a1.3 1.3 0 1 0 2.6 0a1.3 1.3 0 1 0 -2.6 0zM394.4 96.9a1.3 1.3 0 1 0 2.6 0a1.3 1.3 0 1 0 -2.6 0zM394.8 96.4a1.3 1.3 0 1 0 2.6 0a1.3 1.3 0 1 0 -2.6 0zM395.6 96.3a1.3 1.3 0 1 0 2.6 0a1.3 1.3 0 1 0 -2.6 0zM395.7 97.0a1.3 1.3 0 1 0 2.6 0a1.3 1.3 0 1 0 -2.6 0zM396.2 97.2a1.3 1.3 0 1 0 2.6 0a1.3 1.3 0 1 0 -2.6 0zM396.7 96.9a1.3 1.3 0 1 0 2.6 0a1.3 1.3 0 1 0 -2.6 0zM397.4 97.2a1.3 1.3 0 1 0 2.6 0a1.3 1.3 0 1 0 -2.6 0zM397.7 96.8a1.3 1.3 0 1 0 2.6 0a1.3 1.3 0 1 0 -2.6 0zM398.2 96.5a1.3 1.3 0 1 0 2.6 0a1.3 1.3 0 1 0 -2.6 0zM399.0 96.6a1.3 1.3 0 1 0 2.6 0a1.3 1.3 0 1 0 -2.6 0zM399.4 97.6a1.3 1.3 0 1 0 2.6 0a1.3 1.3 0 1 0 -2.6 0zM399.7 97.7a1.3 1.3 0 1 0 2.6 0a1.3 1.3 0 1 0 -2.6 0zM400.5 97.6a1.3 1.3 0 1 0 2.6 0a1.3 1.3 0 1 0 -2.6 0zM400.7 97.0a1.3 1.3 0 1 0 2.6 0a1.3 1.3 0 1 0 -2.6 0zM401.4 96.3a1.3 1.3 0 1 0 2.6 0a1.3 1.3 0 1 0 -2.6 0zM401.6 97.1a1.3 1.3 0 1 0 2.6 0a1.3 1.3 0 1 0 -2.6 0zM402.3 96.5a1.3 1.3 0 1 0 2.6 0a1.3 1.3 0 1 0 -2.6 0zM402.8 97.0a1.3 1.3 0 1 0 2.6 0a1.3 1.3 0 1 0 -2.6 0zM403.2 98.5a1.3 1.3 0 1 0 2.6 0a1.3 1.3 0 1 0 -2.6 0zM403.8 97.3a1.3 1.3 0 1 0 2.6 0a1.3 1.3 0 1 0 -2.6 0zM404.1 98.6a1.3 1.3 0 1 0 2.6 0a1.3 1.3 0 1 0 -2.6 0zM404.8 97.5a1.3 1.3 0 1 0 2.6 0a1.3 1.3 0 1 0 -2.6 0zM405.0 97.8a1.3 1.3 0 1 0 2.6 0a1.3 1.3 0 1 0 -2.6 0zM405.8 97.5a1.3 1.3 0 1 0 2.6 0a1.3 1.3 0 1 0 -2.6 0zM406.1 97.8a1.3 1.3 0 1 0 2.6 0a1.3 1.3 0 1 0 -2.6 0zM406.8 97.1a1.3 1.3 0 1 0 2.6 0a1.3 1.3 0 1 0 -2.6 0zM407.4 97.9a1.3 1.3 0 1 0 2.6 0a1.3 1.3 0 1 0 -2.6 0zM407.7 97.9a1.3 1.3 0 1 0 2.6 0a1.3 1.3 0 1 0 -2.6 0zM408.1 98.0a1.3 1.3 0 1 0 2.6 0a1.3 1.3 0 1 0 -2.6 0zM408.6 97.0a1.3 1.3 0 1 0 2.6 0a1.3 1.3 0 1 0 -2.6 0zM409.2 97.6a1.3 1.3 0 1 0 2.6 0a1.3 1.3 0 1 0 -2.6 0zM409.7 97.2a1.3 1.3 0 1 0 2.6 0a1.3 1.3 0 1 0 -2.6 0zM410.0 97.6a1.3 1.3 0 1 0 2.6 0a1.3 1.3 0 1 0 -2.6 0zM410.5 97.0a1.3 1.3 0 1 0 2.6 0a1.3 1.3 0 1 0 -2.6 0zM411.1 97.4a1.3 1.3 0 1 0 2.6 0a1.3 1.3 0 1 0 -2.6 0zM411.5 97.6a1.3 1.3 0 1 0 2.6 0a1.3 1.3 0 1 0 -2.6 0zM412.2 97.5a1.3 1.3 0 1 0 2.6 0a1.3 1.3 0 1 0 -2.6 0zM412.6 97.0a1.3 1.3 0 1 0 2.6 0a1.3 1.3 0 1 0 -2.6 0zM412.9 96.8a1.3 1.3 0 1 0 2.6 0a1.3 1.3 0 1 0 -2.6 0zM413.5 97.3a1.3 1.3 0 1 0 2.6 0a1.3 1.3 0 1 0 -2.6 0zM414.1 97.6a1.3 1.3 0 1 0 2.6 0a1.3 1.3 0 1 0 -2.6 0zM414.6 97.3a1.3 1.3 0 1 0 2.6 0a1.3 1.3 0 1 0 -2.6 0zM414.9 97.9a1.3 1.3 0 1 0 2.6 0a1.3 1.3 0 1 0 -2.6 0zM415.6 98.5a1.3 1.3 0 1 0 2.6 0a1.3 1.3 0 1 0 -2.6 0zM415.9 97.6a1.3 1.3 0 1 0 2.6 0a1.3 1.3 0 1 0 -2.6 0zM416.6 97.3a1.3 1.3 0 1 0 2.6 0a1.3 1.3 0 1 0 -2.6 0zM417.1 97.0a1.3 1.3 0 1 0 2.6 0a1.3 1.3 0 1 0 -2.6 0zM417.4 96.6a1.3 1.3 0 1 0 2.6 0a1.3 1.3 0 1 0 -2.6 0zM417.9 97.5a1.3 1.3 0 1 0 2.6 0a1.3 1.3 0 1 0 -2.6 0zM418.4 97.8a1.3 1.3 0 1 0 2.6 0a1.3 1.3 0 1 0 -2.6 0zM418.8 97.9a1.3 1.3 0 1 0 2.6 0a1.3 1.3 0 1 0 -2.6 0zM419.3 97.9a1.3 1.3 0 1 0 2.6 0a1.3 1.3 0 1 0 -2.6 0zM419.9 98.0a1.3 1.3 0 1 0 2.6 0a1.3 1.3 0 1 0 -2.6 0zM420.3 97.9a1.3 1.3 0 1 0 2.6 0a1.3 1.3 0 1 0 -2.6 0zM420.8 97.6a1.3 1.3 0 1 0 2.6 0a1.3 1.3 0 1 0 -2.6 0zM421.4 97.3a1.3 1.3 0 1 0 2.6 0a1.3 1.3 0 1 0 -2.6 0zM421.8 98.0a1.3 1.3 0 1 0 2.6 0a1.3 1.3 0 1 0 -2.6 0zM422.5 98.3a1.3 1.3 0 1 0 2.6 0a1.3 1.3 0 1 0 -2.6 0zM422.7 98.4a1.3 1.3 0 1 0 2.6 0a1.3 1.3 0 1 0 -2.6 0zM423.4 97.8a1.3 1.3 0 1 0 2.6 0a1.3 1.3 0 1 0 -2.6 0zM423.8 98.2a1.3 1.3 0 1 0 2.6 0a1.3 1.3 0 1 0 -2.6 0zM424.3 98.4a1.3 1.3 0 1 0 2.6 0a1.3 1.3 0 1 0 -2.6 0zM424.8 97.7a1.3 1.3 0 1 0 2.6 0a1.3 1.3 0 1 0 -2.6 0zM425.4 98.2a1.3 1.3 0 1 0 2.6 0a1.3 1.3 0 1 0 -2.6 0zM425.6 97.1a1.3 1.3 0 1 0 2.6 0a1.3 1.3 0 1 0 -2.6 0zM426.1 98.0a1.3 1.3 0 1 0 2.6 0a1.3 1.3 0 1 0 -2.6 0zM426.7 96.9a1.3 1.3 0 1 0 2.6 0a1.3 1.3 0 1 0 -2.6 0zM427.1 97.3a1.3 1.3 0 1 0 2.6 0a1.3 1.3 0 1 0 -2.6 0zM427.7 97.1a1.3 1.3 0 1 0 2.6 0a1.3 1.3 0 1 0 -2.6 0zM428.1 97.5a1.3 1.3 0 1 0 2.6 0a1.3 1.3 0 1 0 -2.6 0zM428.6 97.9a1.3 1.3 0 1 0 2.6 0a1.3 1.3 0 1 0 -2.6 0zM429.2 96.9a1.3 1.3 0 1 0 2.6 0a1.3 1.3 0 1 0 -2.6 0zM429.6 96.6a1.3 1.3 0 1 0 2.6 0a1.3 1.3 0 1 0 -2.6 0zM430.1 97.5a1.3 1.3 0 1 0 2.6 0a1.3 1.3 0 1 0 -2.6 0zM430.7 98.3a1.3 1.3 0 1 0 2.6 0a1.3 1.3 0 1 0 -2.6 0zM431.3 97.8a1.3 1.3 0 1 0 2.6 0a1.3 1.3 0 1 0 -2.6 0zM431.6 97.6a1.3 1.3 0 1 0 2.6 0a1.3 1.3 0 1 0 -2.6 0zM432.2 98.2a1.3 1.3 0 1 0 2.6 0a1.3 1.3 0 1 0 -2.6 0zM432.6 98.2a1.3 1.3 0 1 0 2.6 0a1.3 1.3 0 1 0 -2.6 0zM433.0 98.2a1.3 1.3 0 1 0 2.6 0a1.3 1.3 0 1 0 -2.6 0zM433.6 97.5a1.3 1.3 0 1 0 2.6 0a1.3 1.3 0 1 0 -2.6 0zM433.9 97.4a1.3 1.3 0 1 0 2.6 0a1.3 1.3 0 1 0 -2.6 0zM434.4 97.7a1.3 1.3 0 1 0 2.6 0a1.3 1.3 0 1 0 -2.6 0zM435.2 98.4a1.3 1.3 0 1 0 2.6 0a1.3 1.3 0 1 0 -2.6 0zM435.5 97.3a1.3 1.3 0 1 0 2.6 0a1.3 1.3 0 1 0 -2.6 0zM436.0 98.3a1.3 1.3 0 1 0 2.6 0a1.3 1.3 0 1 0 -2.6 0zM436.6 98.0a1.3 1.3 0 1 0 2.6 0a1.3 1.3 0 1 0 -2.6 0zM437.2 97.5a1.3 1.3 0 1 0 2.6 0a1.3 1.3 0 1 0 -2.6 0zM437.7 96.8a1.3 1.3 0 1 0 2.6 0a1.3 1.3 0 1 0 -2.6 0zM438.2 96.9a1.3 1.3 0 1 0 2.6 0a1.3 1.3 0 1 0 -2.6 0zM438.6 97.3a1.3 1.3 0 1 0 2.6 0a1.3 1.3 0 1 0 -2.6 0zM438.9 98.4a1.3 1.3 0 1 0 2.6 0a1.3 1.3 0 1 0 -2.6 0zM439.3 98.0a1.3 1.3 0 1 0 2.6 0a1.3 1.3 0 1 0 -2.6 0zM439.9 97.7a1.3 1.3 0 1 0 2.6 0a1.3 1.3 0 1 0 -2.6 0zM440.6 97.7a1.3 1.3 0 1 0 2.6 0a1.3 1.3 0 1 0 -2.6 0zM440.8 96.8a1.3 1.3 0 1 0 2.6 0a1.3 1.3 0 1 0 -2.6 0zM441.5 98.8a1.3 1.3 0 1 0 2.6 0a1.3 1.3 0 1 0 -2.6 0zM442.0 98.0a1.3 1.3 0 1 0 2.6 0a1.3 1.3 0 1 0 -2.6 0zM442.5 97.1a1.3 1.3 0 1 0 2.6 0a1.3 1.3 0 1 0 -2.6 0zM443.1 97.8a1.3 1.3 0 1 0 2.6 0a1.3 1.3 0 1 0 -2.6 0zM443.5 97.8a1.3 1.3 0 1 0 2.6 0a1.3 1.3 0 1 0 -2.6 0zM443.7 98.1a1.3 1.3 0 1 0 2.6 0a1.3 1.3 0 1 0 -2.6 0zM444.4 97.8a1.3 1.3 0 1 0 2.6 0a1.3 1.3 0 1 0 -2.6 0zM445.0 98.5a1.3 1.3 0 1 0 2.6 0a1.3 1.3 0 1 0 -2.6 0zM445.3 97.5a1.3 1.3 0 1 0 2.6 0a1.3 1.3 0 1 0 -2.6 0zM445.7 97.7a1.3 1.3 0 1 0 2.6 0a1.3 1.3 0 1 0 -2.6 0zM446.3 98.4a1.3 1.3 0 1 0 2.6 0a1.3 1.3 0 1 0 -2.6 0zM446.9 98.3a1.3 1.3 0 1 0 2.6 0a1.3 1.3 0 1 0 -2.6 0zM447.4 98.3a1.3 1.3 0 1 0 2.6 0a1.3 1.3 0 1 0 -2.6 0zM447.8 98.3a1.3 1.3 0 1 0 2.6 0a1.3 1.3 0 1 0 -2.6 0zM448.2 97.2a1.3 1.3 0 1 0 2.6 0a1.3 1.3 0 1 0 -2.6 0zM448.6 97.6a1.3 1.3 0 1 0 2.6 0a1.3 1.3 0 1 0 -2.6 0zM449.4 98.0a1.3 1.3 0 1 0 2.6 0a1.3 1.3 0 1 0 -2.6 0zM449.8 97.2a1.3 1.3 0 1 0 2.6 0a1.3 1.3 0 1 0 -2.6 0zM450.1 97.8a1.3 1.3 0 1 0 2.6 0a1.3 1.3 0 1 0 -2.6 0zM450.9 98.0a1.3 1.3 0 1 0 2.6 0a1.3 1.3 0 1 0 -2.6 0zM451.1 98.4a1.3 1.3 0 1 0 2.6 0a1.3 1.3 0 1 0 -2.6 0zM451.7 97.6a1.3 1.3 0 1 0 2.6 0a1.3 1.3 0 1 0 -2.6 0zM452.0 97.5a1.3 1.3 0 1 0 2.6 0a1.3 1.3 0 1 0 -2.6 0zM452.7 97.7a1.3 1.3 0 1 0 2.6 0a1.3 1.3 0 1 0 -2.6 0zM453.3 97.9a1.3 1.3 0 1 0 2.6 0a1.3 1.3 0 1 0 -2.6 0zM453.7 98.3a1.3 1.3 0 1 0 2.6 0a1.3 1.3 0 1 0 -2.6 0zM454.0 97.8a1.3 1.3 0 1 0 2.6 0a1.3 1.3 0 1 0 -2.6 0zM454.7 98.7a1.3 1.3 0 1 0 2.6 0a1.3 1.3 0 1 0 -2.6 0zM455.3 98.1a1.3 1.3 0 1 0 2.6 0a1.3 1.3 0 1 0 -2.6 0zM455.4 97.4a1.3 1.3 0 1 0 2.6 0a1.3 1.3 0 1 0 -2.6 0zM456.0 97.6a1.3 1.3 0 1 0 2.6 0a1.3 1.3 0 1 0 -2.6 0zM456.4 97.7a1.3 1.3 0 1 0 2.6 0a1.3 1.3 0 1 0 -2.6 0zM457.0 97.4a1.3 1.3 0 1 0 2.6 0a1.3 1.3 0 1 0 -2.6 0zM457.4 97.3a1.3 1.3 0 1 0 2.6 0a1.3 1.3 0 1 0 -2.6 0zM458.0 97.8a1.3 1.3 0 1 0 2.6 0a1.3 1.3 0 1 0 -2.6 0zM458.7 97.4a1.3 1.3 0 1 0 2.6 0a1.3 1.3 0 1 0 -2.6 0zM459.0 97.4a1.3 1.3 0 1 0 2.6 0a1.3 1.3 0 1 0 -2.6 0zM459.5 97.3a1.3 1.3 0 1 0 2.6 0a1.3 1.3 0 1 0 -2.6 0zM460.1 97.7a1.3 1.3 0 1 0 2.6 0a1.3 1.3 0 1 0 -2.6 0zM460.5 98.0a1.3 1.3 0 1 0 2.6 0a1.3 1.3 0 1 0 -2.6 0zM460.9 98.2a1.3 1.3 0 1 0 2.6 0a1.3 1.3 0 1 0 -2.6 0zM461.5 96.8a1.3 1.3 0 1 0 2.6 0a1.3 1.3 0 1 0 -2.6 0zM461.8 98.4a1.3 1.3 0 1 0 2.6 0a1.3 1.3 0 1 0 -2.6 0zM462.5 97.8a1.3 1.3 0 1 0 2.6 0a1.3 1.3 0 1 0 -2.6 0zM462.7 97.4a1.3 1.3 0 1 0 2.6 0a1.3 1.3 0 1 0 -2.6 0zM463.3 98.0a1.3 1.3 0 1 0 2.6 0a1.3 1.3 0 1 0 -2.6 0zM464.1 97.8a1.3 1.3 0 1 0 2.6 0a1.3 1.3 0 1 0 -2.6 0zM464.5 98.1a1.3 1.3 0 1 0 2.6 0a1.3 1.3 0 1 0 -2.6 0zM464.7 98.2a1.3 1.3 0 1 0 2.6 0a1.3 1.3 0 1 0 -2.6 0zM465.4 97.3a1.3 1.3 0 1 0 2.6 0a1.3 1.3 0 1 0 -2.6 0zM465.9 97.8a1.3 1.3 0 1 0 2.6 0a1.3 1.3 0 1 0 -2.6 0zM466.3 98.6a1.3 1.3 0 1 0 2.6 0a1.3 1.3 0 1 0 -2.6 0zM466.9 97.6a1.3 1.3 0 1 0 2.6 0a1.3 1.3 0 1 0 -2.6 0zM467.2 98.2a1.3 1.3 0 1 0 2.6 0a1.3 1.3 0 1 0 -2.6 0zM468.0 98.4a1.3 1.3 0 1 0 2.6 0a1.3 1.3 0 1 0 -2.6 0zM468.2 98.8a1.3 1.3 0 1 0 2.6 0a1.3 1.3 0 1 0 -2.6 0zM469.0 97.6a1.3 1.3 0 1 0 2.6 0a1.3 1.3 0 1 0 -2.6 0zM469.1 97.0a1.3 1.3 0 1 0 2.6 0a1.3 1.3 0 1 0 -2.6 0zM469.7 97.8a1.3 1.3 0 1 0 2.6 0a1.3 1.3 0 1 0 -2.6 0zM470.1 97.8a1.3 1.3 0 1 0 2.6 0a1.3 1.3 0 1 0 -2.6 0zM470.6 97.7a1.3 1.3 0 1 0 2.6 0a1.3 1.3 0 1 0 -2.6 0zM471.1 98.2a1.3 1.3 0 1 0 2.6 0a1.3 1.3 0 1 0 -2.6 0zM471.6 97.3a1.3 1.3 0 1 0 2.6 0a1.3 1.3 0 1 0 -2.6 0zM472.2 98.2a1.3 1.3 0 1 0 2.6 0a1.3 1.3 0 1 0 -2.6 0zM472.9 97.8a1.3 1.3 0 1 0 2.6 0a1.3 1.3 0 1 0 -2.6 0zM473.2 97.6a1.3 1.3 0 1 0 2.6 0a1.3 1.3 0 1 0 -2.6 0zM473.5 97.2a1.3 1.3 0 1 0 2.6 0a1.3 1.3 0 1 0 -2.6 0zM474.1 97.2a1.3 1.3 0 1 0 2.6 0a1.3 1.3 0 1 0 -2.6 0zM474.7 97.6a1.3 1.3 0 1 0 2.6 0a1.3 1.3 0 1 0 -2.6 0zM475.3 98.1a1.3 1.3 0 1 0 2.6 0a1.3 1.3 0 1 0 -2.6 0zM475.7 97.5a1.3 1.3 0 1 0 2.6 0a1.3 1.3 0 1 0 -2.6 0zM476.3 97.7a1.3 1.3 0 1 0 2.6 0a1.3 1.3 0 1 0 -2.6 0zM476.8 97.3a1.3 1.3 0 1 0 2.6 0a1.3 1.3 0 1 0 -2.6 0zM477.3 97.3a1.3 1.3 0 1 0 2.6 0a1.3 1.3 0 1 0 -2.6 0zM477.7 96.5a1.3 1.3 0 1 0 2.6 0a1.3 1.3 0 1 0 -2.6 0zM478.2 97.3a1.3 1.3 0 1 0 2.6 0a1.3 1.3 0 1 0 -2.6 0zM478.5 96.9a1.3 1.3 0 1 0 2.6 0a1.3 1.3 0 1 0 -2.6 0zM479.2 97.2a1.3 1.3 0 1 0 2.6 0a1.3 1.3 0 1 0 -2.6 0zM479.4 97.1a1.3 1.3 0 1 0 2.6 0a1.3 1.3 0 1 0 -2.6 0zM480.0 98.1a1.3 1.3 0 1 0 2.6 0a1.3 1.3 0 1 0 -2.6 0zM480.5 97.0a1.3 1.3 0 1 0 2.6 0a1.3 1.3 0 1 0 -2.6 0zM481.0 97.3a1.3 1.3 0 1 0 2.6 0a1.3 1.3 0 1 0 -2.6 0zM481.4 97.0a1.3 1.3 0 1 0 2.6 0a1.3 1.3 0 1 0 -2.6 0zM482.0 97.0a1.3 1.3 0 1 0 2.6 0a1.3 1.3 0 1 0 -2.6 0zM482.6 98.2a1.3 1.3 0 1 0 2.6 0a1.3 1.3 0 1 0 -2.6 0zM482.9 97.6a1.3 1.3 0 1 0 2.6 0a1.3 1.3 0 1 0 -2.6 0zM483.4 98.4a1.3 1.3 0 1 0 2.6 0a1.3 1.3 0 1 0 -2.6 0zM484.1 97.7a1.3 1.3 0 1 0 2.6 0a1.3 1.3 0 1 0 -2.6 0zM484.5 97.6a1.3 1.3 0 1 0 2.6 0a1.3 1.3 0 1 0 -2.6 0zM485.1 97.7a1.3 1.3 0 1 0 2.6 0a1.3 1.3 0 1 0 -2.6 0zM485.4 97.4a1.3 1.3 0 1 0 2.6 0a1.3 1.3 0 1 0 -2.6 0zM485.7 97.5a1.3 1.3 0 1 0 2.6 0a1.3 1.3 0 1 0 -2.6 0zM486.2 97.8a1.3 1.3 0 1 0 2.6 0a1.3 1.3 0 1 0 -2.6 0zM486.8 97.4a1.3 1.3 0 1 0 2.6 0a1.3 1.3 0 1 0 -2.6 0zM487.3 98.3a1.3 1.3 0 1 0 2.6 0a1.3 1.3 0 1 0 -2.6 0zM487.8 98.4a1.3 1.3 0 1 0 2.6 0a1.3 1.3 0 1 0 -2.6 0zM488.6 98.3a1.3 1.3 0 1 0 2.6 0a1.3 1.3 0 1 0 -2.6 0zM489.0 97.0a1.3 1.3 0 1 0 2.6 0a1.3 1.3 0 1 0 -2.6 0zM489.4 97.7a1.3 1.3 0 1 0 2.6 0a1.3 1.3 0 1 0 -2.6 0zM489.8 98.0a1.3 1.3 0 1 0 2.6 0a1.3 1.3 0 1 0 -2.6 0zM490.4 98.2a1.3 1.3 0 1 0 2.6 0a1.3 1.3 0 1 0 -2.6 0zM491.0 97.8a1.3 1.3 0 1 0 2.6 0a1.3 1.3 0 1 0 -2.6 0zM491.5 97.7a1.3 1.3 0 1 0 2.6 0a1.3 1.3 0 1 0 -2.6 0zM492.0 97.9a1.3 1.3 0 1 0 2.6 0a1.3 1.3 0 1 0 -2.6 0zM492.5 97.5a1.3 1.3 0 1 0 2.6 0a1.3 1.3 0 1 0 -2.6 0zM492.7 97.6a1.3 1.3 0 1 0 2.6 0a1.3 1.3 0 1 0 -2.6 0zM493.4 98.1a1.3 1.3 0 1 0 2.6 0a1.3 1.3 0 1 0 -2.6 0zM493.6 98.1a1.3 1.3 0 1 0 2.6 0a1.3 1.3 0 1 0 -2.6 0zM494.5 97.5a1.3 1.3 0 1 0 2.6 0a1.3 1.3 0 1 0 -2.6 0zM494.6 97.8a1.3 1.3 0 1 0 2.6 0a1.3 1.3 0 1 0 -2.6 0zM495.1 97.7a1.3 1.3 0 1 0 2.6 0a1.3 1.3 0 1 0 -2.6 0zM496.0 98.4a1.3 1.3 0 1 0 2.6 0a1.3 1.3 0 1 0 -2.6 0zM496.4 97.5a1.3 1.3 0 1 0 2.6 0a1.3 1.3 0 1 0 -2.6 0z" fill="#d4d4d4"/>
<path d="M303.6 84.0V84.9M302.6 84.0h2.0M302.6 84.9h2.0M304.6 81.7V84.2M303.6 81.7h2.0M303.6 84.2h2.0M305.1 79.6V82.0M304.1 79.6h2.0M304.1 82.0h2.0M306.0 81.0V81.8M305.0 81.0h2.0M305.0 81.8h2.0M306.6 78.0V79.4M305.6 78.0h2.0M305.6 79.4h2.0M307.5 78.5V80.1M306.5 78.5h2.0M306.5 80.1h2.0M308.1 79.3V80.8M307.1 79.3h2.0M307.1 80.8h2.0M309.1 84.3V85.5M308.1 84.3h2.0M308.1 85.5h2.0M309.7 85.2V86.3M308.7 85.2h2.0M308.7 86.3h2.0M310.7 76.6V77.8M309.7 76.6h2.0M309.7 77.8h2.0M311.1 77.2V78.5M310.1 77.2h2.0M310.1 78.5h2.0M313.4 57.1V70.0M312.4 57.1h2.0M312.4 70.0h2.0M313.9 58.1V65.8M312.9 58.1h2.0M312.9 65.8h2.0M314.6 57.7V66.1M313.6 57.7h2.0M313.6 66.1h2.0M315.1 56.9V67.8M314.1 56.9h2.0M314.1 67.8h2.0M315.6 57.4V67.5M314.6 57.4h2.0M314.6 67.5h2.0M316.1 56.8V66.3M315.1 56.8h2.0M315.1 66.3h2.0M316.4 61.4V69.7M315.4 61.4h2.0M315.4 69.7h2.0M317.1 56.3V64.0M316.1 56.3h2.0M316.1 64.0h2.0M317.6 62.0V69.5M316.6 62.0h2.0M316.6 69.5h2.0M318.0 63.0V74.0M317.0 63.0h2.0M317.0 74.0h2.0M318.2 62.8V73.4M317.2 62.8h2.0M317.2 73.4h2.0M319.0 60.4V69.1M318.0 60.4h2.0M318.0 69.1h2.0M319.2 66.5V75.8M318.2 66.5h2.0M318.2 75.8h2.0M320.0 66.3V73.1M319.0 66.3h2.0M319.0 73.1h2.0M320.5 65.3V76.2M319.5 65.3h2.0M319.5 76.2h2.0M320.9 67.0V76.6M319.9 67.0h2.0M319.9 76.6h2.0M321.4 68.0V76.2M320.4 68.0h2.0M320.4 76.2h2.0M321.6 68.7V76.1M320.6 68.7h2.0M320.6 76.1h2.0M322.5 62.0V75.8M321.5 62.0h2.0M321.5 75.8h2.0M322.6 68.5V75.4M321.6 68.5h2.0M321.6 75.4h2.0M323.2 65.0V71.5M322.2 65.0h2.0M322.2 71.5h2.0M323.7 69.8V75.6M322.7 69.8h2.0M322.7 75.6h2.0M324.4 62.7V72.6M323.4 62.7h2.0M323.4 72.6h2.0M324.8 68.9V74.7M323.8 68.9h2.0M323.8 74.7h2.0M325.4 70.2V77.9M324.4 70.2h2.0M324.4 77.9h2.0M325.7 69.6V78.8M324.7 69.6h2.0M324.7 78.8h2.0M326.2 69.9V78.0M325.2 69.9h2.0M325.2 78.0h2.0M326.7 70.1V77.6M325.7 70.1h2.0M325.7 77.6h2.0M327.1 68.4V81.4M326.1 68.4h2.0M326.1 81.4h2.0M327.5 72.8V79.7M326.5 72.8h2.0M326.5 79.7h2.0M328.3 71.1V79.0M327.3 71.1h2.0M327.3 79.0h2.0M328.8 72.9V79.1M327.8 72.9h2.0M327.8 79.1h2.0M329.0 72.5V80.4M328.0 72.5h2.0M328.0 80.4h2.0M329.8 71.9V79.9M328.8 71.9h2.0M328.8 79.9h2.0M330.2 76.1V81.3M329.2 76.1h2.0M329.2 81.3h2.0M330.7 75.4V82.6M329.7 75.4h2.0M329.7 82.6h2.0M331.2 78.4V85.4M330.2 78.4h2.0M330.2 85.4h2.0M331.7 76.8V83.2M330.7 76.8h2.0M330.7 83.2h2.0M332.1 79.1V85.2M331.1 79.1h2.0M331.1 85.2h2.0M332.5 78.4V84.2M331.5 78.4h2.0M331.5 84.2h2.0M332.9 78.1V82.9M331.9 78.1h2.0M331.9 82.9h2.0M333.5 76.2V82.0M332.5 76.2h2.0M332.5 82.0h2.0M334.2 80.0V84.4M333.2 80.0h2.0M333.2 84.4h2.0M334.5 79.0V84.3M333.5 79.0h2.0M333.5 84.3h2.0M334.9 76.4V83.4M333.9 76.4h2.0M333.9 83.4h2.0M335.6 77.0V83.5M334.6 77.0h2.0M334.6 83.5h2.0M336.2 79.7V86.6M335.2 79.7h2.0M335.2 86.6h2.0M336.5 78.7V83.3M335.5 78.7h2.0M335.5 83.3h2.0M336.8 78.1V82.8M335.8 78.1h2.0M335.8 82.8h2.0M337.6 80.1V84.4M336.6 80.1h2.0M336.6 84.4h2.0M338.0 79.0V86.0M337.0 79.0h2.0M337.0 86.0h2.0M338.4 80.2V86.1M337.4 80.2h2.0M337.4 86.1h2.0M338.8 80.4V84.9M337.8 80.4h2.0M337.8 84.9h2.0M339.4 75.4V81.1M338.4 75.4h2.0M338.4 81.1h2.0M339.8 79.9V86.1M338.8 79.9h2.0M338.8 86.1h2.0M340.3 77.4V84.2M339.3 77.4h2.0M339.3 84.2h2.0M341.0 79.1V84.9M340.0 79.1h2.0M340.0 84.9h2.0M341.2 80.7V84.7M340.2 80.7h2.0M340.2 84.7h2.0M342.1 80.6V86.3M341.1 80.6h2.0M341.1 86.3h2.0M342.4 81.6V86.2M341.4 81.6h2.0M341.4 86.2h2.0M342.8 81.9V86.5M341.8 81.9h2.0M341.8 86.5h2.0M343.2 79.2V83.5M342.2 79.2h2.0M342.2 83.5h2.0M344.0 80.9V85.8M343.0 80.9h2.0M343.0 85.8h2.0M344.3 81.6V86.7M343.3 81.6h2.0M343.3 86.7h2.0M344.7 81.3V87.6M343.7 81.3h2.0M343.7 87.6h2.0M345.4 84.8V89.9M344.4 84.8h2.0M344.4 89.9h2.0M345.7 83.7V89.7M344.7 83.7h2.0M344.7 89.7h2.0M346.3 82.9V87.7M345.3 82.9h2.0M345.3 87.7h2.0M346.8 82.0V87.4M345.8 82.0h2.0M345.8 87.4h2.0M347.2 81.0V90.7M346.2 81.0h2.0M346.2 90.7h2.0M347.8 82.0V87.6M346.8 82.0h2.0M346.8 87.6h2.0M348.2 82.2V86.3M347.2 82.2h2.0M347.2 86.3h2.0M348.8 83.1V88.6M347.8 83.1h2.0M347.8 88.6h2.0M349.1 81.6V86.7M348.1 81.6h2.0M348.1 86.7h2.0M349.9 82.3V87.1M348.9 82.3h2.0M348.9 87.1h2.0M350.1 83.6V88.1M349.1 83.6h2.0M349.1 88.1h2.0M350.9 83.3V86.8M349.9 83.3h2.0M349.9 86.8h2.0M351.0 84.1V89.6M350.0 84.1h2.0M350.0 89.6h2.0M351.5 84.7V88.8M350.5 84.7h2.0M350.5 88.8h2.0M352.4 84.4V89.8M351.4 84.4h2.0M351.4 89.8h2.0M352.5 85.5V89.4M351.5 85.5h2.0M351.5 89.4h2.0M353.2 85.3V88.7M352.2 85.3h2.0M352.2 88.7h2.0M353.5 83.5V89.1M352.5 83.5h2.0M352.5 89.1h2.0M354.2 83.5V88.3M353.2 83.5h2.0M353.2 88.3h2.0M354.5 85.1V88.6M353.5 85.1h2.0M353.5 88.6h2.0M355.1 84.8V89.3M354.1 84.8h2.0M354.1 89.3h2.0M355.4 87.6V92.0M354.4 87.6h2.0M354.4 92.0h2.0M356.0 86.5V89.8M355.0 86.5h2.0M355.0 89.8h2.0M356.5 83.8V87.3M355.5 83.8h2.0M355.5 87.3h2.0M356.9 82.9V87.8M355.9 82.9h2.0M355.9 87.8h2.0M357.6 85.6V89.1M356.6 85.6h2.0M356.6 89.1h2.0M357.9 86.6V90.1M356.9 86.6h2.0M356.9 90.1h2.0M358.5 85.4V89.9M357.5 85.4h2.0M357.5 89.9h2.0M358.8 83.3V88.4M357.8 83.3h2.0M357.8 88.4h2.0M359.6 85.7V91.0M358.6 85.7h2.0M358.6 91.0h2.0M360.0 82.6V87.6M359.0 82.6h2.0M359.0 87.6h2.0M360.4 83.8V89.0M359.4 83.8h2.0M359.4 89.0h2.0M360.8 85.1V89.5M359.8 85.1h2.0M359.8 89.5h2.0M361.4 84.7V89.9M360.4 84.7h2.0M360.4 89.9h2.0M362.0 85.8V90.6M361.0 85.8h2.0M361.0 90.6h2.0M362.4 85.1V90.1M361.4 85.1h2.0M361.4 90.1h2.0M362.9 85.0V88.9M361.9 85.0h2.0M361.9 88.9h2.0M363.5 86.3V90.2M362.5 86.3h2.0M362.5 90.2h2.0M364.0 85.2V90.3M363.0 85.2h2.0M363.0 90.3h2.0M364.5 85.8V91.0M363.5 85.8h2.0M363.5 91.0h2.0M364.8 86.1V89.4M363.8 86.1h2.0M363.8 89.4h2.0M365.4 84.2V88.5M364.4 84.2h2.0M364.4 88.5h2.0M365.9 86.1V90.1M364.9 86.1h2.0M364.9 90.1h2.0M366.4 83.0V86.5M365.4 83.0h2.0M365.4 86.5h2.0M366.9 82.9V87.8M365.9 82.9h2.0M365.9 87.8h2.0M367.5 83.1V90.4M366.5 83.1h2.0M366.5 90.4h2.0M367.9 86.1V90.5M366.9 86.1h2.0M366.9 90.5h2.0M368.3 83.7V88.5M367.3 83.7h2.0M367.3 88.5h2.0M369.0 85.8V89.5M368.0 85.8h2.0M368.0 89.5h2.0M369.3 85.6V90.4M368.3 85.6h2.0M368.3 90.4h2.0M370.0 86.3V90.3M369.0 86.3h2.0M369.0 90.3h2.0M370.3 84.7V89.7M369.3 84.7h2.0M369.3 89.7h2.0M370.9 87.0V90.1M369.9 87.0h2.0M369.9 90.1h2.0M371.2 86.4V89.8M370.2 86.4h2.0M370.2 89.8h2.0M371.7 87.1V92.1M370.7 87.1h2.0M370.7 92.1h2.0M372.0 82.2V89.2M371.0 82.2h2.0M371.0 89.2h2.0M372.6 86.2V90.0M371.6 86.2h2.0M371.6 90.0h2.0M373.2 85.6V90.7M372.2 85.6h2.0M372.2 90.7h2.0M373.7 85.1V88.9M372.7 85.1h2.0M372.7 88.9h2.0M374.3 87.0V91.8M373.3 87.0h2.0M373.3 91.8h2.0M374.6 83.7V87.0M373.6 83.7h2.0M373.6 87.0h2.0M375.4 83.6V88.6M374.4 83.6h2.0M374.4 88.6h2.0M375.4 85.8V89.4M374.4 85.8h2.0M374.4 89.4h2.0M376.2 86.0V89.8M375.2 86.0h2.0M375.2 89.8h2.0M376.5 84.3V88.7M375.5 84.3h2.0M375.5 88.7h2.0M377.1 85.7V89.8M376.1 85.7h2.0M376.1 89.8h2.0M377.6 88.0V91.2M376.6 88.0h2.0M376.6 91.2h2.0M378.3 85.7V90.7M377.3 85.7h2.0M377.3 90.7h2.0M378.5 87.2V91.3M377.5 87.2h2.0M377.5 91.3h2.0M378.9 86.8V90.1M377.9 86.8h2.0M377.9 90.1h2.0M379.6 84.1V87.9M378.6 84.1h2.0M378.6 87.9h2.0M380.0 84.0V89.0M379.0 84.0h2.0M379.0 89.0h2.0M380.8 84.0V87.4M379.8 84.0h2.0M379.8 87.4h2.0M381.1 86.5V94.3M380.1 86.5h2.0M380.1 94.3h2.0M381.4 86.5V91.6M380.4 86.5h2.0M380.4 91.6h2.0M381.9 88.0V93.1M380.9 88.0h2.0M380.9 93.1h2.0M382.4 80.6V89.4M381.4 80.6h2.0M381.4 89.4h2.0M383.2 87.1V92.1M382.2 87.1h2.0M382.2 92.1h2.0M383.6 85.9V89.4M382.6 85.9h2.0M382.6 89.4h2.0M383.9 84.9V88.5M382.9 84.9h2.0M382.9 88.5h2.0M384.6 86.0V89.5M383.6 86.0h2.0M383.6 89.5h2.0M385.0 86.8V89.9M384.0 86.8h2.0M384.0 89.9h2.0M385.3 87.2V90.5M384.3 87.2h2.0M384.3 90.5h2.0M386.1 84.2V88.9M385.1 84.2h2.0M385.1 88.9h2.0M386.3 86.5V90.6M385.3 86.5h2.0M385.3 90.6h2.0M387.1 89.1V93.5M386.1 89.1h2.0M386.1 93.5h2.0M387.6 85.7V89.9M386.6 85.7h2.0M386.6 89.9h2.0M387.9 83.2V90.9M386.9 83.2h2.0M386.9 90.9h2.0M388.4 84.2V89.1M387.4 84.2h2.0M387.4 89.1h2.0M388.7 86.3V90.1M387.7 86.3h2.0M387.7 90.1h2.0M389.2 85.2V89.7M388.2 85.2h2.0M388.2 89.7h2.0M389.7 86.4V91.2M388.7 86.4h2.0M388.7 91.2h2.0M390.4 82.3V90.4M389.4 82.3h2.0M389.4 90.4h2.0M390.9 86.6V90.1M389.9 86.6h2.0M389.9 90.1h2.0M391.1 87.5V90.9M390.1 87.5h2.0M390.1 90.9h2.0M392.0 86.9V90.8M391.0 86.9h2.0M391.0 90.8h2.0M392.3 88.0V91.6M391.3 88.0h2.0M391.3 91.6h2.0M392.9 86.7V90.2M391.9 86.7h2.0M391.9 90.2h2.0M393.3 86.7V89.8M392.3 86.7h2.0M392.3 89.8h2.0M393.8 89.3V93.7M392.8 89.3h2.0M392.8 93.7h2.0M394.3 86.5V89.6M393.3 86.5h2.0M393.3 89.6h2.0M394.8 86.9V91.1M393.8 86.9h2.0M393.8 91.1h2.0M395.2 87.7V90.9M394.2 87.7h2.0M394.2 90.9h2.0M395.7 88.7V92.7M394.7 88.7h2.0M394.7 92.7h2.0M396.3 87.1V91.2M395.3 87.1h2.0M395.3 91.2h2.0M396.9 87.4V91.0M395.9 87.4h2.0M395.9 91.0h2.0M397.4 84.5V88.6M396.4 84.5h2.0M396.4 88.6h2.0M397.6 87.6V90.5M396.6 87.6h2.0M396.6 90.5h2.0M398.2 86.8V91.1M397.2 86.8h2.0M397.2 91.1h2.0M398.5 86.1V92.2M397.5 86.1h2.0M397.5 92.2h2.0M399.2 88.1V90.9M398.2 88.1h2.0M398.2 90.9h2.0M399.8 87.4V91.0M398.8 87.4h2.0M398.8 91.0h2.0M400.1 88.1V92.0M399.1 88.1h2.0M399.1 92.0h2.0M400.5 87.6V94.0M399.5 87.6h2.0M399.5 94.0h2.0M400.9 86.8V90.6M399.9 86.8h2.0M399.9 90.6h2.0M401.7 88.9V91.8M400.7 88.9h2.0M400.7 91.8h2.0M402.1 86.3V90.0M401.1 86.3h2.0M401.1 90.0h2.0M402.7 89.8V94.3M401.7 89.8h2.0M401.7 94.3h2.0M402.9 86.8V89.7M401.9 86.8h2.0M401.9 89.7h2.0M403.5 87.5V90.8M402.5 87.5h2.0M402.5 90.8h2.0M403.8 89.9V93.5M402.8 89.9h2.0M402.8 93.5h2.0M404.7 88.5V96.2M403.7 88.5h2.0M403.7 96.2h2.0M405.0 88.1V90.7M404.0 88.1h2.0M404.0 90.7h2.0M405.6 87.7V91.7M404.6 87.7h2.0M404.6 91.7h2.0M405.8 88.3V90.9M404.8 88.3h2.0M404.8 90.9h2.0M406.7 87.5V90.5M405.7 87.5h2.0M405.7 90.5h2.0M406.8 91.4V94.5M405.8 91.4h2.0M405.8 94.5h2.0M407.5 88.2V92.2M406.5 88.2h2.0M406.5 92.2h2.0M408.2 88.9V92.8M407.2 88.9h2.0M407.2 92.8h2.0M408.4 89.6V92.5M407.4 89.6h2.0M407.4 92.5h2.0M408.7 89.7V94.0M407.7 89.7h2.0M407.7 94.0h2.0M409.5 89.3V92.7M408.5 89.3h2.0M408.5 92.7h2.0M409.8 89.2V93.0M408.8 89.2h2.0M408.8 93.0h2.0M410.3 90.8V94.8M409.3 90.8h2.0M409.3 94.8h2.0M410.9 88.0V91.8M409.9 88.0h2.0M409.9 91.8h2.0M411.3 91.0V93.6M410.3 91.0h2.0M410.3 93.6h2.0M412.0 88.9V91.4M411.0 88.9h2.0M411.0 91.4h2.0M412.5 90.7V94.4M411.5 90.7h2.0M411.5 94.4h2.0M412.9 91.8V94.5M411.9 91.8h2.0M411.9 94.5h2.0M413.4 90.0V93.7M412.4 90.0h2.0M412.4 93.7h2.0M413.7 91.3V93.7M412.7 91.3h2.0M412.7 93.7h2.0M414.3 93.2V96.1M413.3 93.2h2.0M413.3 96.1h2.0M414.9 92.2V95.1M413.9 92.2h2.0M413.9 95.1h2.0M415.5 93.4V95.4M414.5 93.4h2.0M414.5 95.4h2.0M415.6 92.5V94.6M414.6 92.5h2.0M414.6 94.6h2.0M416.3 93.0V95.0M415.3 93.0h2.0M415.3 95.0h2.0M416.7 91.3V95.9M415.7 91.3h2.0M415.7 95.9h2.0M417.2 94.4V96.6M416.2 94.4h2.0M416.2 96.6h2.0M417.7 92.5V94.9M416.7 92.5h2.0M416.7 94.9h2.0M418.0 90.3V92.9M417.0 90.3h2.0M417.0 92.9h2.0M418.7 92.0V95.2M417.7 92.0h2.0M417.7 95.2h2.0M419.2 92.5V94.6M418.2 92.5h2.0M418.2 94.6h2.0M419.6 91.8V93.9M418.6 91.8h2.0M418.6 93.9h2.0M420.1 93.2V96.1M419.1 93.2h2.0M419.1 96.1h2.0M420.8 92.4V96.8M419.8 92.4h2.0M419.8 96.8h2.0M421.0 90.4V93.6M420.0 90.4h2.0M420.0 93.6h2.0M421.8 93.7V96.1M420.8 93.7h2.0M420.8 96.1h2.0M422.1 90.5V94.2M421.1 90.5h2.0M421.1 94.2h2.0M422.5 92.2V95.6M421.5 92.2h2.0M421.5 95.6h2.0M423.0 90.9V93.5M422.0 90.9h2.0M422.0 93.5h2.0M423.7 90.7V94.1M422.7 90.7h2.0M422.7 94.1h2.0M424.1 91.2V93.9M423.1 91.2h2.0M423.1 93.9h2.0M424.5 89.3V92.1M423.5 89.3h2.0M423.5 92.1h2.0M424.9 88.3V91.9M423.9 88.3h2.0M423.9 91.9h2.0M425.6 88.3V91.8M424.6 88.3h2.0M424.6 91.8h2.0M425.9 89.1V92.7M424.9 89.1h2.0M424.9 92.7h2.0M426.6 89.0V92.0M425.6 89.0h2.0M425.6 92.0h2.0M427.0 88.9V92.2M426.0 88.9h2.0M426.0 92.2h2.0M427.8 89.3V93.4M426.8 89.3h2.0M426.8 93.4h2.0M428.2 89.1V92.9M427.2 89.1h2.0M427.2 92.9h2.0M428.4 90.3V94.3M427.4 90.3h2.0M427.4 94.3h2.0M428.9 89.5V93.5M427.9 89.5h2.0M427.9 93.5h2.0M429.5 89.0V92.5M428.5 89.0h2.0M428.5 92.5h2.0M430.1 89.3V93.7M429.1 89.3h2.0M429.1 93.7h2.0M430.5 90.2V94.1M429.5 90.2h2.0M429.5 94.1h2.0M431.0 89.6V92.2M430.0 89.6h2.0M430.0 92.2h2.0M431.3 89.1V92.2M430.3 89.1h2.0M430.3 92.2h2.0M431.9 89.4V92.8M430.9 89.4h2.0M430.9 92.8h2.0M432.4 88.3V91.9M431.4 88.3h2.0M431.4 91.9h2.0M432.8 88.2V92.7M431.8 88.2h2.0M431.8 92.7h2.0M433.5 88.5V91.7M432.5 88.5h2.0M432.5 91.7h2.0M433.8 88.4V94.3M432.8 88.4h2.0M432.8 94.3h2.0M434.3 88.6V92.0M433.3 88.6h2.0M433.3 92.0h2.0M434.9 87.6V92.1M433.9 87.6h2.0M433.9 92.1h2.0M435.3 88.8V92.9M434.3 88.8h2.0M434.3 92.9h2.0M435.7 86.2V89.9M434.7 86.2h2.0M434.7 89.9h2.0M436.4 87.7V91.0M435.4 87.7h2.0M435.4 91.0h2.0M437.0 89.7V92.8M436.0 89.7h2.0M436.0 92.8h2.0M437.3 86.7V89.8M436.3 86.7h2.0M436.3 89.8h2.0M437.6 87.1V91.2M436.6 87.1h2.0M436.6 91.2h2.0M438.4 88.2V92.3M437.4 88.2h2.0M437.4 92.3h2.0M438.9 88.5V91.7M437.9 88.5h2.0M437.9 91.7h2.0M439.3 88.4V92.7M438.3 88.4h2.0M438.3 92.7h2.0M439.6 88.7V91.3M438.6 88.7h2.0M438.6 91.3h2.0M440.4 87.4V91.1M439.4 87.4h2.0M439.4 91.1h2.0M440.7 87.9V90.7M439.7 87.9h2.0M439.7 90.7h2.0M441.3 88.4V92.4M440.3 88.4h2.0M440.3 92.4h2.0M441.5 90.2V93.9M440.5 90.2h2.0M440.5 93.9h2.0M442.1 89.2V92.1M441.1 89.2h2.0M441.1 92.1h2.0M442.7 88.2V91.6M441.7 88.2h2.0M441.7 91.6h2.0M443.2 87.3V91.3M442.2 87.3h2.0M442.2 91.3h2.0M443.9 88.9V93.3M442.9 88.9h2.0M442.9 93.3h2.0M444.2 85.4V91.9M443.2 85.4h2.0M443.2 91.9h2.0M444.7 88.2V91.1M443.7 88.2h2.0M443.7 91.1h2.0M445.1 86.0V90.3M444.1 86.0h2.0M444.1 90.3h2.0M445.5 87.4V91.5M444.5 87.4h2.0M444.5 91.5h2.0M445.9 87.9V92.4M444.9 87.9h2.0M444.9 92.4h2.0M446.8 88.2V91.6M445.8 88.2h2.0M445.8 91.6h2.0M447.0 88.7V93.0M446.0 88.7h2.0M446.0 93.0h2.0M447.8 88.4V91.7M446.8 88.4h2.0M446.8 91.7h2.0M447.9 88.0V92.0M446.9 88.0h2.0M446.9 92.0h2.0M448.6 90.4V94.1M447.6 90.4h2.0M447.6 94.1h2.0M449.2 88.8V93.0M448.2 88.8h2.0M448.2 93.0h2.0M449.6 87.0V93.2M448.6 87.0h2.0M448.6 93.2h2.0M450.2 87.6V92.1M449.2 87.6h2.0M449.2 92.1h2.0M450.8 87.4V90.9M449.8 87.4h2.0M449.8 90.9h2.0M450.9 87.8V90.6M449.9 87.8h2.0M449.9 90.6h2.0M451.3 87.6V91.8M450.3 87.6h2.0M450.3 91.8h2.0M451.9 86.7V94.2M450.9 86.7h2.0M450.9 94.2h2.0M452.7 89.3V93.3M451.7 89.3h2.0M451.7 93.3h2.0M452.8 86.7V90.3M451.8 86.7h2.0M451.8 90.3h2.0M453.3 90.1V93.5M452.3 90.1h2.0M452.3 93.5h2.0M453.8 89.7V93.3M452.8 89.7h2.0M452.8 93.3h2.0M454.4 88.4V91.8M453.4 88.4h2.0M453.4 91.8h2.0M454.8 88.1V91.6M453.8 88.1h2.0M453.8 91.6h2.0M455.5 92.0V95.2M454.5 92.0h2.0M454.5 95.2h2.0M455.8 90.5V93.9M454.8 90.5h2.0M454.8 93.9h2.0M456.2 91.1V94.7M455.2 91.1h2.0M455.2 94.7h2.0M457.0 90.1V93.0M456.0 90.1h2.0M456.0 93.0h2.0M457.3 90.5V93.3M456.3 90.5h2.0M456.3 93.3h2.0M457.8 91.9V95.1M456.8 91.9h2.0M456.8 95.1h2.0M458.5 91.4V94.1M457.5 91.4h2.0M457.5 94.1h2.0M458.8 91.2V95.0M457.8 91.2h2.0M457.8 95.0h2.0M459.4 87.5V93.8M458.4 87.5h2.0M458.4 93.8h2.0M459.9 89.0V91.9M458.9 89.0h2.0M458.9 91.9h2.0M460.4 90.4V93.6M459.4 90.4h2.0M459.4 93.6h2.0M460.7 91.1V93.7M459.7 91.1h2.0M459.7 93.7h2.0M461.3 89.9V93.5M460.3 89.9h2.0M460.3 93.5h2.0M461.8 91.2V94.1M460.8 91.2h2.0M460.8 94.1h2.0M462.1 91.7V94.6M461.1 91.7h2.0M461.1 94.6h2.0M462.8 90.3V92.8M461.8 90.3h2.0M461.8 92.8h2.0M463.1 92.0V95.3M462.1 92.0h2.0M462.1 95.3h2.0M463.8 90.0V95.8M462.8 90.0h2.0M462.8 95.8h2.0M464.4 91.7V97.1M463.4 91.7h2.0M463.4 97.1h2.0M464.6 92.6V94.7M463.6 92.6h2.0M463.6 94.7h2.0M465.4 90.2V93.4M464.4 90.2h2.0M464.4 93.4h2.0M465.9 92.7V95.8M464.9 92.7h2.0M464.9 95.8h2.0M466.1 91.1V93.7M465.1 91.1h2.0M465.1 93.7h2.0M466.5 90.6V93.8M465.5 90.6h2.0M465.5 93.8h2.0M467.4 90.5V93.5M466.4 90.5h2.0M466.4 93.5h2.0M467.5 91.5V94.5M466.5 91.5h2.0M466.5 94.5h2.0M468.2 92.4V94.6M467.2 92.4h2.0M467.2 94.6h2.0M468.8 91.4V94.9M467.8 91.4h2.0M467.8 94.9h2.0M469.1 89.9V93.4M468.1 89.9h2.0M468.1 93.4h2.0M469.5 91.4V94.6M468.5 91.4h2.0M468.5 94.6h2.0M470.1 90.3V93.1M469.1 90.3h2.0M469.1 93.1h2.0M470.6 93.0V96.1M469.6 93.0h2.0M469.6 96.1h2.0M471.0 93.6V96.0M470.0 93.6h2.0M470.0 96.0h2.0M471.4 90.3V93.4M470.4 90.3h2.0M470.4 93.4h2.0M472.0 90.9V94.1M471.0 90.9h2.0M471.0 94.1h2.0M472.7 89.4V92.1M471.7 89.4h2.0M471.7 92.1h2.0M473.1 91.3V94.2M472.1 91.3h2.0M472.1 94.2h2.0M473.4 92.1V94.9M472.4 92.1h2.0M472.4 94.9h2.0M474.1 92.7V95.9M473.1 92.7h2.0M473.1 95.9h2.0M474.5 92.2V95.2M473.5 92.2h2.0M473.5 95.2h2.0M474.8 92.2V97.0M473.8 92.2h2.0M473.8 97.0h2.0M475.6 91.1V94.4M474.6 91.1h2.0M474.6 94.4h2.0M476.1 91.2V94.3M475.1 91.2h2.0M475.1 94.3h2.0M476.4 91.5V94.5M475.4 91.5h2.0M475.4 94.5h2.0M476.9 92.0V95.1M475.9 92.0h2.0M475.9 95.1h2.0M477.3 94.3V96.8M476.3 94.3h2.0M476.3 96.8h2.0M478.1 91.2V93.9M477.1 91.2h2.0M477.1 93.9h2.0M478.5 92.4V97.0M477.5 92.4h2.0M477.5 97.0h2.0M479.0 93.9V96.0M478.0 93.9h2.0M478.0 96.0h2.0M479.6 92.3V95.5M478.6 92.3h2.0M478.6 95.5h2.0M479.9 92.1V94.1M478.9 92.1h2.0M478.9 94.1h2.0M480.6 93.0V95.6M479.6 93.0h2.0M479.6 95.6h2.0M480.7 93.1V96.2M479.7 93.1h2.0M479.7 96.2h2.0M481.2 94.5V97.5M480.2 94.5h2.0M480.2 97.5h2.0M481.9 92.6V95.1M480.9 92.6h2.0M480.9 95.1h2.0M482.5 93.9V96.9M481.5 93.9h2.0M481.5 96.9h2.0M482.9 93.4V96.1M481.9 93.4h2.0M481.9 96.1h2.0M483.5 94.2V96.1M482.5 94.2h2.0M482.5 96.1h2.0M483.9 94.2V96.3M482.9 94.2h2.0M482.9 96.3h2.0M484.4 90.9V95.7M483.4 90.9h2.0M483.4 95.7h2.0M484.9 92.8V95.7M483.9 92.8h2.0M483.9 95.7h2.0M485.3 92.6V95.4M484.3 92.6h2.0M484.3 95.4h2.0M485.7 92.7V95.4M484.7 92.7h2.0M484.7 95.4h2.0M486.4 94.5V96.8M485.4 94.5h2.0M485.4 96.8h2.0M486.6 93.7V95.5M485.6 93.7h2.0M485.6 95.5h2.0M487.5 94.3V96.2M486.5 94.3h2.0M486.5 96.2h2.0M487.8 94.4V96.9M486.8 94.4h2.0M486.8 96.9h2.0M488.4 92.5V94.9M487.4 92.5h2.0M487.4 94.9h2.0M488.6 94.1V96.1M487.6 94.1h2.0M487.6 96.1h2.0M489.2 92.6V95.4M488.2 92.6h2.0M488.2 95.4h2.0M489.5 91.7V94.6M488.5 91.7h2.0M488.5 94.6h2.0M490.1 93.5V95.4M489.1 93.5h2.0M489.1 95.4h2.0M490.6 95.1V97.4M489.6 95.1h2.0M489.6 97.4h2.0M491.4 93.6V95.7M490.4 93.6h2.0M490.4 95.7h2.0M491.8 93.6V95.8M490.8 93.6h2.0M490.8 95.8h2.0M492.1 92.1V96.8M491.1 92.1h2.0M491.1 96.8h2.0M492.7 93.7V95.8M491.7 93.7h2.0M491.7 95.8h2.0M493.1 94.3V96.8M492.1 94.3h2.0M492.1 96.8h2.0M493.7 93.4V95.8M492.7 93.4h2.0M492.7 95.8h2.0M493.9 95.2V97.5M492.9 95.2h2.0M492.9 97.5h2.0M494.7 94.2V96.2M493.7 94.2h2.0M493.7 96.2h2.0M495.0 92.9V95.8M494.0 92.9h2.0M494.0 95.8h2.0M495.6 94.0V96.6M494.6 94.0h2.0M494.6 96.6h2.0M496.2 94.0V96.7M495.2 94.0h2.0M495.2 96.7h2.0M496.4 95.5V97.7M495.4 95.5h2.0M495.4 97.7h2.0M497.0 92.5V95.3M496.0 92.5h2.0M496.0 95.3h2.0M497.5 93.9V96.7M496.5 93.9h2.0M496.5 96.7h2.0" stroke="#161616" stroke-width="1.0" fill="none"/><path d="M302.0 84.5a1.6 1.6 0 1 0 3.2 0a1.6 1.6 0 1 0 -3.2 0zM303.0 82.9a1.6 1.6 0 1 0 3.2 0a1.6 1.6 0 1 0 -3.2 0zM303.5 80.8a1.6 1.6 0 1 0 3.2 0a1.6 1.6 0 1 0 -3.2 0zM304.4 81.4a1.6 1.6 0 1 0 3.2 0a1.6 1.6 0 1 0 -3.2 0zM305.0 78.7a1.6 1.6 0 1 0 3.2 0a1.6 1.6 0 1 0 -3.2 0zM305.9 79.3a1.6 1.6 0 1 0 3.2 0a1.6 1.6 0 1 0 -3.2 0zM306.5 80.0a1.6 1.6 0 1 0 3.2 0a1.6 1.6 0 1 0 -3.2 0zM307.5 84.9a1.6 1.6 0 1 0 3.2 0a1.6 1.6 0 1 0 -3.2 0zM308.1 85.7a1.6 1.6 0 1 0 3.2 0a1.6 1.6 0 1 0 -3.2 0zM309.1 77.2a1.6 1.6 0 1 0 3.2 0a1.6 1.6 0 1 0 -3.2 0zM309.5 77.9a1.6 1.6 0 1 0 3.2 0a1.6 1.6 0 1 0 -3.2 0zM311.8 63.6a1.6 1.6 0 1 0 3.2 0a1.6 1.6 0 1 0 -3.2 0zM312.3 62.0a1.6 1.6 0 1 0 3.2 0a1.6 1.6 0 1 0 -3.2 0zM313.0 61.9a1.6 1.6 0 1 0 3.2 0a1.6 1.6 0 1 0 -3.2 0zM313.5 62.3a1.6 1.6 0 1 0 3.2 0a1.6 1.6 0 1 0 -3.2 0zM314.0 62.5a1.6 1.6 0 1 0 3.2 0a1.6 1.6 0 1 0 -3.2 0zM314.5 61.6a1.6 1.6 0 1 0 3.2 0a1.6 1.6 0 1 0 -3.2 0zM314.8 65.6a1.6 1.6 0 1 0 3.2 0a1.6 1.6 0 1 0 -3.2 0zM315.5 60.2a1.6 1.6 0 1 0 3.2 0a1.6 1.6 0 1 0 -3.2 0zM316.0 65.7a1.6 1.6 0 1 0 3.2 0a1.6 1.6 0 1 0 -3.2 0zM316.4 68.5a1.6 1.6 0 1 0 3.2 0a1.6 1.6 0 1 0 -3.2 0zM316.6 68.1a1.6 1.6 0 1 0 3.2 0a1.6 1.6 0 1 0 -3.2 0zM317.4 64.8a1.6 1.6 0 1 0 3.2 0a1.6 1.6 0 1 0 -3.2 0zM317.6 71.2a1.6 1.6 0 1 0 3.2 0a1.6 1.6 0 1 0 -3.2 0zM318.4 69.7a1.6 1.6 0 1 0 3.2 0a1.6 1.6 0 1 0 -3.2 0zM318.9 70.8a1.6 1.6 0 1 0 3.2 0a1.6 1.6 0 1 0 -3.2 0zM319.3 71.8a1.6 1.6 0 1 0 3.2 0a1.6 1.6 0 1 0 -3.2 0zM319.8 72.1a1.6 1.6 0 1 0 3.2 0a1.6 1.6 0 1 0 -3.2 0zM320.0 72.4a1.6 1.6 0 1 0 3.2 0a1.6 1.6 0 1 0 -3.2 0zM320.9 68.9a1.6 1.6 0 1 0 3.2 0a1.6 1.6 0 1 0 -3.2 0zM321.0 71.9a1.6 1.6 0 1 0 3.2 0a1.6 1.6 0 1 0 -3.2 0zM321.6 68.3a1.6 1.6 0 1 0 3.2 0a1.6 1.6 0 1 0 -3.2 0zM322.1 72.7a1.6 1.6 0 1 0 3.2 0a1.6 1.6 0 1 0 -3.2 0zM322.8 67.7a1.6 1.6 0 1 0 3.2 0a1.6 1.6 0 1 0 -3.2 0zM323.2 71.8a1.6 1.6 0 1 0 3.2 0a1.6 1.6 0 1 0 -3.2 0zM323.8 74.0a1.6 1.6 0 1 0 3.2 0a1.6 1.6 0 1 0 -3.2 0zM324.1 74.2a1.6 1.6 0 1 0 3.2 0a1.6 1.6 0 1 0 -3.2 0zM324.6 74.0a1.6 1.6 0 1 0 3.2 0a1.6 1.6 0 1 0 -3.2 0zM325.1 73.8a1.6 1.6 0 1 0 3.2 0a1.6 1.6 0 1 0 -3.2 0zM325.5 74.9a1.6 1.6 0 1 0 3.2 0a1.6 1.6 0 1 0 -3.2 0zM325.9 76.2a1.6 1.6 0 1 0 3.2 0a1.6 1.6 0 1 0 -3.2 0zM326.7 75.1a1.6 1.6 0 1 0 3.2 0a1.6 1.6 0 1 0 -3.2 0zM327.2 76.0a1.6 1.6 0 1 0 3.2 0a1.6 1.6 0 1 0 -3.2 0zM327.4 76.4a1.6 1.6 0 1 0 3.2 0a1.6 1.6 0 1 0 -3.2 0zM328.2 75.9a1.6 1.6 0 1 0 3.2 0a1.6 1.6 0 1 0 -3.2 0zM328.6 78.7a1.6 1.6 0 1 0 3.2 0a1.6 1.6 0 1 0 -3.2 0zM329.1 79.0a1.6 1.6 0 1 0 3.2 0a1.6 1.6 0 1 0 -3.2 0zM329.6 81.9a1.6 1.6 0 1 0 3.2 0a1.6 1.6 0 1 0 -3.2 0zM330.1 80.0a1.6 1.6 0 1 0 3.2 0a1.6 1.6 0 1 0 -3.2 0zM330.5 82.1a1.6 1.6 0 1 0 3.2 0a1.6 1.6 0 1 0 -3.2 0zM330.9 81.3a1.6 1.6 0 1 0 3.2 0a1.6 1.6 0 1 0 -3.2 0zM331.3 80.5a1.6 1.6 0 1 0 3.2 0a1.6 1.6 0 1 0 -3.2 0zM331.9 79.1a1.6 1.6 0 1 0 3.2 0a1.6 1.6 0 1 0 -3.2 0zM332.6 82.2a1.6 1.6 0 1 0 3.2 0a1.6 1.6 0 1 0 -3.2 0zM332.9 81.7a1.6 1.6 0 1 0 3.2 0a1.6 1.6 0 1 0 -3.2 0zM333.3 79.9a1.6 1.6 0 1 0 3.2 0a1.6 1.6 0 1 0 -3.2 0zM334.0 80.3a1.6 1.6 0 1 0 3.2 0a1.6 1.6 0 1 0 -3.2 0zM334.6 83.2a1.6 1.6 0 1 0 3.2 0a1.6 1.6 0 1 0 -3.2 0zM334.9 81.0a1.6 1.6 0 1 0 3.2 0a1.6 1.6 0 1 0 -3.2 0zM335.2 80.4a1.6 1.6 0 1 0 3.2 0a1.6 1.6 0 1 0 -3.2 0zM336.0 82.3a1.6 1.6 0 1 0 3.2 0a1.6 1.6 0 1 0 -3.2 0zM336.4 82.5a1.6 1.6 0 1 0 3.2 0a1.6 1.6 0 1 0 -3.2 0zM336.8 83.2a1.6 1.6 0 1 0 3.2 0a1.6 1.6 0 1 0 -3.2 0zM337.2 82.7a1.6 1.6 0 1 0 3.2 0a1.6 1.6 0 1 0 -3.2 0zM337.8 78.3a1.6 1.6 0 1 0 3.2 0a1.6 1.6 0 1 0 -3.2 0zM338.2 83.0a1.6 1.6 0 1 0 3.2 0a1.6 1.6 0 1 0 -3.2 0zM338.7 80.8a1.6 1.6 0 1 0 3.2 0a1.6 1.6 0 1 0 -3.2 0zM339.4 82.0a1.6 1.6 0 1 0 3.2 0a1.6 1.6 0 1 0 -3.2 0zM339.6 82.7a1.6 1.6 0 1 0 3.2 0a1.6 1.6 0 1 0 -3.2 0zM340.5 83.4a1.6 1.6 0 1 0 3.2 0a1.6 1.6 0 1 0 -3.2 0zM340.8 83.9a1.6 1.6 0 1 0 3.2 0a1.6 1.6 0 1 0 -3.2 0zM341.2 84.2a1.6 1.6 0 1 0 3.2 0a1.6 1.6 0 1 0 -3.2 0zM341.6 81.3a1.6 1.6 0 1 0 3.2 0a1.6 1.6 0 1 0 -3.2 0zM342.4 83.4a1.6 1.6 0 1 0 3.2 0a1.6 1.6 0 1 0 -3.2 0zM342.7 84.2a1.6 1.6 0 1 0 3.2 0a1.6 1.6 0 1 0 -3.2 0zM343.1 84.4a1.6 1.6 0 1 0 3.2 0a1.6 1.6 0 1 0 -3.2 0zM343.8 87.4a1.6 1.6 0 1 0 3.2 0a1.6 1.6 0 1 0 -3.2 0zM344.1 86.7a1.6 1.6 0 1 0 3.2 0a1.6 1.6 0 1 0 -3.2 0zM344.7 85.3a1.6 1.6 0 1 0 3.2 0a1.6 1.6 0 1 0 -3.2 0zM345.2 84.7a1.6 1.6 0 1 0 3.2 0a1.6 1.6 0 1 0 -3.2 0zM345.6 85.9a1.6 1.6 0 1 0 3.2 0a1.6 1.6 0 1 0 -3.2 0zM346.2 84.8a1.6 1.6 0 1 0 3.2 0a1.6 1.6 0 1 0 -3.2 0zM346.6 84.2a1.6 1.6 0 1 0 3.2 0a1.6 1.6 0 1 0 -3.2 0zM347.2 85.8a1.6 1.6 0 1 0 3.2 0a1.6 1.6 0 1 0 -3.2 0zM347.5 84.1a1.6 1.6 0 1 0 3.2 0a1.6 1.6 0 1 0 -3.2 0zM348.3 84.7a1.6 1.6 0 1 0 3.2 0a1.6 1.6 0 1 0 -3.2 0zM348.5 85.8a1.6 1.6 0 1 0 3.2 0a1.6 1.6 0 1 0 -3.2 0zM349.3 85.1a1.6 1.6 0 1 0 3.2 0a1.6 1.6 0 1 0 -3.2 0zM349.4 86.9a1.6 1.6 0 1 0 3.2 0a1.6 1.6 0 1 0 -3.2 0zM349.9 86.8a1.6 1.6 0 1 0 3.2 0a1.6 1.6 0 1 0 -3.2 0zM350.8 87.1a1.6 1.6 0 1 0 3.2 0a1.6 1.6 0 1 0 -3.2 0zM350.9 87.4a1.6 1.6 0 1 0 3.2 0a1.6 1.6 0 1 0 -3.2 0zM351.6 87.0a1.6 1.6 0 1 0 3.2 0a1.6 1.6 0 1 0 -3.2 0zM351.9 86.3a1.6 1.6 0 1 0 3.2 0a1.6 1.6 0 1 0 -3.2 0zM352.6 85.9a1.6 1.6 0 1 0 3.2 0a1.6 1.6 0 1 0 -3.2 0zM352.9 86.9a1.6 1.6 0 1 0 3.2 0a1.6 1.6 0 1 0 -3.2 0zM353.5 87.0a1.6 1.6 0 1 0 3.2 0a1.6 1.6 0 1 0 -3.2 0zM353.8 89.8a1.6 1.6 0 1 0 3.2 0a1.6 1.6 0 1 0 -3.2 0zM354.4 88.1a1.6 1.6 0 1 0 3.2 0a1.6 1.6 0 1 0 -3.2 0zM354.9 85.6a1.6 1.6 0 1 0 3.2 0a1.6 1.6 0 1 0 -3.2 0zM355.3 85.4a1.6 1.6 0 1 0 3.2 0a1.6 1.6 0 1 0 -3.2 0zM356.0 87.3a1.6 1.6 0 1 0 3.2 0a1.6 1.6 0 1 0 -3.2 0zM356.3 88.3a1.6 1.6 0 1 0 3.2 0a1.6 1.6 0 1 0 -3.2 0zM356.9 87.6a1.6 1.6 0 1 0 3.2 0a1.6 1.6 0 1 0 -3.2 0zM357.2 85.9a1.6 1.6 0 1 0 3.2 0a1.6 1.6 0 1 0 -3.2 0zM358.0 88.3a1.6 1.6 0 1 0 3.2 0a1.6 1.6 0 1 0 -3.2 0zM358.4 85.1a1.6 1.6 0 1 0 3.2 0a1.6 1.6 0 1 0 -3.2 0zM358.8 86.4a1.6 1.6 0 1 0 3.2 0a1.6 1.6 0 1 0 -3.2 0zM359.2 87.3a1.6 1.6 0 1 0 3.2 0a1.6 1.6 0 1 0 -3.2 0zM359.8 87.3a1.6 1.6 0 1 0 3.2 0a1.6 1.6 0 1 0 -3.2 0zM360.4 88.2a1.6 1.6 0 1 0 3.2 0a1.6 1.6 0 1 0 -3.2 0zM360.8 87.6a1.6 1.6 0 1 0 3.2 0a1.6 1.6 0 1 0 -3.2 0zM361.3 87.0a1.6 1.6 0 1 0 3.2 0a1.6 1.6 0 1 0 -3.2 0zM361.9 88.3a1.6 1.6 0 1 0 3.2 0a1.6 1.6 0 1 0 -3.2 0zM362.4 87.7a1.6 1.6 0 1 0 3.2 0a1.6 1.6 0 1 0 -3.2 0zM362.9 88.4a1.6 1.6 0 1 0 3.2 0a1.6 1.6 0 1 0 -3.2 0zM363.2 87.8a1.6 1.6 0 1 0 3.2 0a1.6 1.6 0 1 0 -3.2 0zM363.8 86.4a1.6 1.6 0 1 0 3.2 0a1.6 1.6 0 1 0 -3.2 0zM364.3 88.1a1.6 1.6 0 1 0 3.2 0a1.6 1.6 0 1 0 -3.2 0zM364.8 84.7a1.6 1.6 0 1 0 3.2 0a1.6 1.6 0 1 0 -3.2 0zM365.3 85.4a1.6 1.6 0 1 0 3.2 0a1.6 1.6 0 1 0 -3.2 0zM365.9 86.8a1.6 1.6 0 1 0 3.2 0a1.6 1.6 0 1 0 -3.2 0zM366.3 88.3a1.6 1.6 0 1 0 3.2 0a1.6 1.6 0 1 0 -3.2 0zM366.7 86.1a1.6 1.6 0 1 0 3.2 0a1.6 1.6 0 1 0 -3.2 0zM367.4 87.7a1.6 1.6 0 1 0 3.2 0a1.6 1.6 0 1 0 -3.2 0zM367.7 88.0a1.6 1.6 0 1 0 3.2 0a1.6 1.6 0 1 0 -3.2 0zM368.4 88.3a1.6 1.6 0 1 0 3.2 0a1.6 1.6 0 1 0 -3.2 0zM368.7 87.2a1.6 1.6 0 1 0 3.2 0a1.6 1.6 0 1 0 -3.2 0zM369.3 88.6a1.6 1.6 0 1 0 3.2 0a1.6 1.6 0 1 0 -3.2 0zM369.6 88.1a1.6 1.6 0 1 0 3.2 0a1.6 1.6 0 1 0 -3.2 0zM370.1 89.6a1.6 1.6 0 1 0 3.2 0a1.6 1.6 0 1 0 -3.2 0zM370.4 85.7a1.6 1.6 0 1 0 3.2 0a1.6 1.6 0 1 0 -3.2 0zM371.0 88.1a1.6 1.6 0 1 0 3.2 0a1.6 1.6 0 1 0 -3.2 0zM371.6 88.1a1.6 1.6 0 1 0 3.2 0a1.6 1.6 0 1 0 -3.2 0zM372.1 87.0a1.6 1.6 0 1 0 3.2 0a1.6 1.6 0 1 0 -3.2 0zM372.7 89.4a1.6 1.6 0 1 0 3.2 0a1.6 1.6 0 1 0 -3.2 0zM373.0 85.3a1.6 1.6 0 1 0 3.2 0a1.6 1.6 0 1 0 -3.2 0zM373.8 86.1a1.6 1.6 0 1 0 3.2 0a1.6 1.6 0 1 0 -3.2 0zM373.8 87.6a1.6 1.6 0 1 0 3.2 0a1.6 1.6 0 1 0 -3.2 0zM374.6 87.9a1.6 1.6 0 1 0 3.2 0a1.6 1.6 0 1 0 -3.2 0zM374.9 86.5a1.6 1.6 0 1 0 3.2 0a1.6 1.6 0 1 0 -3.2 0zM375.5 87.8a1.6 1.6 0 1 0 3.2 0a1.6 1.6 0 1 0 -3.2 0zM376.0 89.6a1.6 1.6 0 1 0 3.2 0a1.6 1.6 0 1 0 -3.2 0zM376.7 88.2a1.6 1.6 0 1 0 3.2 0a1.6 1.6 0 1 0 -3.2 0zM376.9 89.2a1.6 1.6 0 1 0 3.2 0a1.6 1.6 0 1 0 -3.2 0zM377.3 88.4a1.6 1.6 0 1 0 3.2 0a1.6 1.6 0 1 0 -3.2 0zM378.0 86.0a1.6 1.6 0 1 0 3.2 0a1.6 1.6 0 1 0 -3.2 0zM378.4 86.5a1.6 1.6 0 1 0 3.2 0a1.6 1.6 0 1 0 -3.2 0zM379.2 85.7a1.6 1.6 0 1 0 3.2 0a1.6 1.6 0 1 0 -3.2 0zM379.5 90.4a1.6 1.6 0 1 0 3.2 0a1.6 1.6 0 1 0 -3.2 0zM379.8 89.0a1.6 1.6 0 1 0 3.2 0a1.6 1.6 0 1 0 -3.2 0zM380.3 90.5a1.6 1.6 0 1 0 3.2 0a1.6 1.6 0 1 0 -3.2 0zM380.8 85.0a1.6 1.6 0 1 0 3.2 0a1.6 1.6 0 1 0 -3.2 0zM381.6 89.6a1.6 1.6 0 1 0 3.2 0a1.6 1.6 0 1 0 -3.2 0zM382.0 87.7a1.6 1.6 0 1 0 3.2 0a1.6 1.6 0 1 0 -3.2 0zM382.3 86.7a1.6 1.6 0 1 0 3.2 0a1.6 1.6 0 1 0 -3.2 0zM383.0 87.7a1.6 1.6 0 1 0 3.2 0a1.6 1.6 0 1 0 -3.2 0zM383.4 88.4a1.6 1.6 0 1 0 3.2 0a1.6 1.6 0 1 0 -3.2 0zM383.7 88.8a1.6 1.6 0 1 0 3.2 0a1.6 1.6 0 1 0 -3.2 0zM384.5 86.6a1.6 1.6 0 1 0 3.2 0a1.6 1.6 0 1 0 -3.2 0zM384.7 88.6a1.6 1.6 0 1 0 3.2 0a1.6 1.6 0 1 0 -3.2 0zM385.5 91.3a1.6 1.6 0 1 0 3.2 0a1.6 1.6 0 1 0 -3.2 0zM386.0 87.8a1.6 1.6 0 1 0 3.2 0a1.6 1.6 0 1 0 -3.2 0zM386.3 87.0a1.6 1.6 0 1 0 3.2 0a1.6 1.6 0 1 0 -3.2 0zM386.8 86.7a1.6 1.6 0 1 0 3.2 0a1.6 1.6 0 1 0 -3.2 0zM387.1 88.2a1.6 1.6 0 1 0 3.2 0a1.6 1.6 0 1 0 -3.2 0zM387.6 87.5a1.6 1.6 0 1 0 3.2 0a1.6 1.6 0 1 0 -3.2 0zM388.1 88.8a1.6 1.6 0 1 0 3.2 0a1.6 1.6 0 1 0 -3.2 0zM388.8 86.3a1.6 1.6 0 1 0 3.2 0a1.6 1.6 0 1 0 -3.2 0zM389.3 88.3a1.6 1.6 0 1 0 3.2 0a1.6 1.6 0 1 0 -3.2 0zM389.5 89.2a1.6 1.6 0 1 0 3.2 0a1.6 1.6 0 1 0 -3.2 0zM390.4 88.8a1.6 1.6 0 1 0 3.2 0a1.6 1.6 0 1 0 -3.2 0zM390.7 89.8a1.6 1.6 0 1 0 3.2 0a1.6 1.6 0 1 0 -3.2 0zM391.3 88.5a1.6 1.6 0 1 0 3.2 0a1.6 1.6 0 1 0 -3.2 0zM391.7 88.2a1.6 1.6 0 1 0 3.2 0a1.6 1.6 0 1 0 -3.2 0zM392.2 91.5a1.6 1.6 0 1 0 3.2 0a1.6 1.6 0 1 0 -3.2 0zM392.7 88.0a1.6 1.6 0 1 0 3.2 0a1.6 1.6 0 1 0 -3.2 0zM393.2 89.0a1.6 1.6 0 1 0 3.2 0a1.6 1.6 0 1 0 -3.2 0zM393.6 89.3a1.6 1.6 0 1 0 3.2 0a1.6 1.6 0 1 0 -3.2 0zM394.1 90.7a1.6 1.6 0 1 0 3.2 0a1.6 1.6 0 1 0 -3.2 0zM394.7 89.2a1.6 1.6 0 1 0 3.2 0a1.6 1.6 0 1 0 -3.2 0zM395.3 89.2a1.6 1.6 0 1 0 3.2 0a1.6 1.6 0 1 0 -3.2 0zM395.8 86.6a1.6 1.6 0 1 0 3.2 0a1.6 1.6 0 1 0 -3.2 0zM396.0 89.1a1.6 1.6 0 1 0 3.2 0a1.6 1.6 0 1 0 -3.2 0zM396.6 89.0a1.6 1.6 0 1 0 3.2 0a1.6 1.6 0 1 0 -3.2 0zM396.9 89.1a1.6 1.6 0 1 0 3.2 0a1.6 1.6 0 1 0 -3.2 0zM397.6 89.5a1.6 1.6 0 1 0 3.2 0a1.6 1.6 0 1 0 -3.2 0zM398.2 89.2a1.6 1.6 0 1 0 3.2 0a1.6 1.6 0 1 0 -3.2 0zM398.5 90.1a1.6 1.6 0 1 0 3.2 0a1.6 1.6 0 1 0 -3.2 0zM398.9 90.8a1.6 1.6 0 1 0 3.2 0a1.6 1.6 0 1 0 -3.2 0zM399.3 88.7a1.6 1.6 0 1 0 3.2 0a1.6 1.6 0 1 0 -3.2 0zM400.1 90.4a1.6 1.6 0 1 0 3.2 0a1.6 1.6 0 1 0 -3.2 0zM400.5 88.2a1.6 1.6 0 1 0 3.2 0a1.6 1.6 0 1 0 -3.2 0zM401.1 92.1a1.6 1.6 0 1 0 3.2 0a1.6 1.6 0 1 0 -3.2 0zM401.3 88.3a1.6 1.6 0 1 0 3.2 0a1.6 1.6 0 1 0 -3.2 0zM401.9 89.1a1.6 1.6 0 1 0 3.2 0a1.6 1.6 0 1 0 -3.2 0zM402.2 91.7a1.6 1.6 0 1 0 3.2 0a1.6 1.6 0 1 0 -3.2 0zM403.1 92.3a1.6 1.6 0 1 0 3.2 0a1.6 1.6 0 1 0 -3.2 0zM403.4 89.4a1.6 1.6 0 1 0 3.2 0a1.6 1.6 0 1 0 -3.2 0zM404.0 89.7a1.6 1.6 0 1 0 3.2 0a1.6 1.6 0 1 0 -3.2 0zM404.2 89.6a1.6 1.6 0 1 0 3.2 0a1.6 1.6 0 1 0 -3.2 0zM405.1 89.0a1.6 1.6 0 1 0 3.2 0a1.6 1.6 0 1 0 -3.2 0zM405.2 93.0a1.6 1.6 0 1 0 3.2 0a1.6 1.6 0 1 0 -3.2 0zM405.9 90.2a1.6 1.6 0 1 0 3.2 0a1.6 1.6 0 1 0 -3.2 0zM406.6 90.8a1.6 1.6 0 1 0 3.2 0a1.6 1.6 0 1 0 -3.2 0zM406.8 91.0a1.6 1.6 0 1 0 3.2 0a1.6 1.6 0 1 0 -3.2 0zM407.1 91.9a1.6 1.6 0 1 0 3.2 0a1.6 1.6 0 1 0 -3.2 0zM407.9 91.0a1.6 1.6 0 1 0 3.2 0a1.6 1.6 0 1 0 -3.2 0zM408.2 91.1a1.6 1.6 0 1 0 3.2 0a1.6 1.6 0 1 0 -3.2 0zM408.7 92.8a1.6 1.6 0 1 0 3.2 0a1.6 1.6 0 1 0 -3.2 0zM409.3 89.9a1.6 1.6 0 1 0 3.2 0a1.6 1.6 0 1 0 -3.2 0zM409.7 92.3a1.6 1.6 0 1 0 3.2 0a1.6 1.6 0 1 0 -3.2 0zM410.4 90.2a1.6 1.6 0 1 0 3.2 0a1.6 1.6 0 1 0 -3.2 0zM410.9 92.6a1.6 1.6 0 1 0 3.2 0a1.6 1.6 0 1 0 -3.2 0zM411.3 93.2a1.6 1.6 0 1 0 3.2 0a1.6 1.6 0 1 0 -3.2 0zM411.8 91.8a1.6 1.6 0 1 0 3.2 0a1.6 1.6 0 1 0 -3.2 0zM412.1 92.5a1.6 1.6 0 1 0 3.2 0a1.6 1.6 0 1 0 -3.2 0zM412.7 94.7a1.6 1.6 0 1 0 3.2 0a1.6 1.6 0 1 0 -3.2 0zM413.3 93.6a1.6 1.6 0 1 0 3.2 0a1.6 1.6 0 1 0 -3.2 0zM413.9 94.4a1.6 1.6 0 1 0 3.2 0a1.6 1.6 0 1 0 -3.2 0zM414.0 93.6a1.6 1.6 0 1 0 3.2 0a1.6 1.6 0 1 0 -3.2 0zM414.7 94.0a1.6 1.6 0 1 0 3.2 0a1.6 1.6 0 1 0 -3.2 0zM415.1 93.6a1.6 1.6 0 1 0 3.2 0a1.6 1.6 0 1 0 -3.2 0zM415.6 95.5a1.6 1.6 0 1 0 3.2 0a1.6 1.6 0 1 0 -3.2 0zM416.1 93.7a1.6 1.6 0 1 0 3.2 0a1.6 1.6 0 1 0 -3.2 0zM416.4 91.6a1.6 1.6 0 1 0 3.2 0a1.6 1.6 0 1 0 -3.2 0zM417.1 93.6a1.6 1.6 0 1 0 3.2 0a1.6 1.6 0 1 0 -3.2 0zM417.6 93.6a1.6 1.6 0 1 0 3.2 0a1.6 1.6 0 1 0 -3.2 0zM418.0 92.8a1.6 1.6 0 1 0 3.2 0a1.6 1.6 0 1 0 -3.2 0zM418.5 94.6a1.6 1.6 0 1 0 3.2 0a1.6 1.6 0 1 0 -3.2 0zM419.2 94.6a1.6 1.6 0 1 0 3.2 0a1.6 1.6 0 1 0 -3.2 0zM419.4 92.0a1.6 1.6 0 1 0 3.2 0a1.6 1.6 0 1 0 -3.2 0zM420.2 94.9a1.6 1.6 0 1 0 3.2 0a1.6 1.6 0 1 0 -3.2 0zM420.5 92.3a1.6 1.6 0 1 0 3.2 0a1.6 1.6 0 1 0 -3.2 0zM420.9 93.9a1.6 1.6 0 1 0 3.2 0a1.6 1.6 0 1 0 -3.2 0zM421.4 92.2a1.6 1.6 0 1 0 3.2 0a1.6 1.6 0 1 0 -3.2 0zM422.1 92.4a1.6 1.6 0 1 0 3.2 0a1.6 1.6 0 1 0 -3.2 0zM422.5 92.5a1.6 1.6 0 1 0 3.2 0a1.6 1.6 0 1 0 -3.2 0zM422.9 90.7a1.6 1.6 0 1 0 3.2 0a1.6 1.6 0 1 0 -3.2 0zM423.3 90.1a1.6 1.6 0 1 0 3.2 0a1.6 1.6 0 1 0 -3.2 0zM424.0 90.0a1.6 1.6 0 1 0 3.2 0a1.6 1.6 0 1 0 -3.2 0zM424.3 90.9a1.6 1.6 0 1 0 3.2 0a1.6 1.6 0 1 0 -3.2 0zM425.0 90.5a1.6 1.6 0 1 0 3.2 0a1.6 1.6 0 1 0 -3.2 0zM425.4 90.5a1.6 1.6 0 1 0 3.2 0a1.6 1.6 0 1 0 -3.2 0zM426.2 91.4a1.6 1.6 0 1 0 3.2 0a1.6 1.6 0 1 0 -3.2 0zM426.6 91.0a1.6 1.6 0 1 0 3.2 0a1.6 1.6 0 1 0 -3.2 0zM426.8 92.3a1.6 1.6 0 1 0 3.2 0a1.6 1.6 0 1 0 -3.2 0zM427.3 91.5a1.6 1.6 0 1 0 3.2 0a1.6 1.6 0 1 0 -3.2 0zM427.9 90.8a1.6 1.6 0 1 0 3.2 0a1.6 1.6 0 1 0 -3.2 0zM428.5 91.5a1.6 1.6 0 1 0 3.2 0a1.6 1.6 0 1 0 -3.2 0zM428.9 92.2a1.6 1.6 0 1 0 3.2 0a1.6 1.6 0 1 0 -3.2 0zM429.4 90.9a1.6 1.6 0 1 0 3.2 0a1.6 1.6 0 1 0 -3.2 0zM429.7 90.6a1.6 1.6 0 1 0 3.2 0a1.6 1.6 0 1 0 -3.2 0zM430.3 91.1a1.6 1.6 0 1 0 3.2 0a1.6 1.6 0 1 0 -3.2 0zM430.8 90.1a1.6 1.6 0 1 0 3.2 0a1.6 1.6 0 1 0 -3.2 0zM431.2 90.4a1.6 1.6 0 1 0 3.2 0a1.6 1.6 0 1 0 -3.2 0zM431.9 90.1a1.6 1.6 0 1 0 3.2 0a1.6 1.6 0 1 0 -3.2 0zM432.2 91.3a1.6 1.6 0 1 0 3.2 0a1.6 1.6 0 1 0 -3.2 0zM432.7 90.3a1.6 1.6 0 1 0 3.2 0a1.6 1.6 0 1 0 -3.2 0zM433.3 89.8a1.6 1.6 0 1 0 3.2 0a1.6 1.6 0 1 0 -3.2 0zM433.7 90.8a1.6 1.6 0 1 0 3.2 0a1.6 1.6 0 1 0 -3.2 0zM434.1 88.0a1.6 1.6 0 1 0 3.2 0a1.6 1.6 0 1 0 -3.2 0zM434.8 89.3a1.6 1.6 0 1 0 3.2 0a1.6 1.6 0 1 0 -3.2 0zM435.4 91.2a1.6 1.6 0 1 0 3.2 0a1.6 1.6 0 1 0 -3.2 0zM435.7 88.3a1.6 1.6 0 1 0 3.2 0a1.6 1.6 0 1 0 -3.2 0zM436.0 89.2a1.6 1.6 0 1 0 3.2 0a1.6 1.6 0 1 0 -3.2 0zM436.8 90.3a1.6 1.6 0 1 0 3.2 0a1.6 1.6 0 1 0 -3.2 0zM437.3 90.1a1.6 1.6 0 1 0 3.2 0a1.6 1.6 0 1 0 -3.2 0zM437.7 90.6a1.6 1.6 0 1 0 3.2 0a1.6 1.6 0 1 0 -3.2 0zM438.0 90.0a1.6 1.6 0 1 0 3.2 0a1.6 1.6 0 1 0 -3.2 0zM438.8 89.2a1.6 1.6 0 1 0 3.2 0a1.6 1.6 0 1 0 -3.2 0zM439.1 89.3a1.6 1.6 0 1 0 3.2 0a1.6 1.6 0 1 0 -3.2 0zM439.7 90.4a1.6 1.6 0 1 0 3.2 0a1.6 1.6 0 1 0 -3.2 0zM439.9 92.0a1.6 1.6 0 1 0 3.2 0a1.6 1.6 0 1 0 -3.2 0zM440.5 90.6a1.6 1.6 0 1 0 3.2 0a1.6 1.6 0 1 0 -3.2 0zM441.1 89.9a1.6 1.6 0 1 0 3.2 0a1.6 1.6 0 1 0 -3.2 0zM441.6 89.3a1.6 1.6 0 1 0 3.2 0a1.6 1.6 0 1 0 -3.2 0zM442.3 91.1a1.6 1.6 0 1 0 3.2 0a1.6 1.6 0 1 0 -3.2 0zM442.6 88.6a1.6 1.6 0 1 0 3.2 0a1.6 1.6 0 1 0 -3.2 0zM443.1 89.6a1.6 1.6 0 1 0 3.2 0a1.6 1.6 0 1 0 -3.2 0zM443.5 88.1a1.6 1.6 0 1 0 3.2 0a1.6 1.6 0 1 0 -3.2 0zM443.9 89.5a1.6 1.6 0 1 0 3.2 0a1.6 1.6 0 1 0 -3.2 0zM444.3 90.1a1.6 1.6 0 1 0 3.2 0a1.6 1.6 0 1 0 -3.2 0zM445.2 89.9a1.6 1.6 0 1 0 3.2 0a1.6 1.6 0 1 0 -3.2 0zM445.4 90.9a1.6 1.6 0 1 0 3.2 0a1.6 1.6 0 1 0 -3.2 0zM446.2 90.1a1.6 1.6 0 1 0 3.2 0a1.6 1.6 0 1 0 -3.2 0zM446.3 90.0a1.6 1.6 0 1 0 3.2 0a1.6 1.6 0 1 0 -3.2 0zM447.0 92.2a1.6 1.6 0 1 0 3.2 0a1.6 1.6 0 1 0 -3.2 0zM447.6 90.9a1.6 1.6 0 1 0 3.2 0a1.6 1.6 0 1 0 -3.2 0zM448.0 90.1a1.6 1.6 0 1 0 3.2 0a1.6 1.6 0 1 0 -3.2 0zM448.6 89.9a1.6 1.6 0 1 0 3.2 0a1.6 1.6 0 1 0 -3.2 0zM449.2 89.2a1.6 1.6 0 1 0 3.2 0a1.6 1.6 0 1 0 -3.2 0zM449.3 89.2a1.6 1.6 0 1 0 3.2 0a1.6 1.6 0 1 0 -3.2 0zM449.7 89.7a1.6 1.6 0 1 0 3.2 0a1.6 1.6 0 1 0 -3.2 0zM450.3 90.5a1.6 1.6 0 1 0 3.2 0a1.6 1.6 0 1 0 -3.2 0zM451.1 91.3a1.6 1.6 0 1 0 3.2 0a1.6 1.6 0 1 0 -3.2 0zM451.2 88.5a1.6 1.6 0 1 0 3.2 0a1.6 1.6 0 1 0 -3.2 0zM451.7 91.8a1.6 1.6 0 1 0 3.2 0a1.6 1.6 0 1 0 -3.2 0zM452.2 91.5a1.6 1.6 0 1 0 3.2 0a1.6 1.6 0 1 0 -3.2 0zM452.8 90.1a1.6 1.6 0 1 0 3.2 0a1.6 1.6 0 1 0 -3.2 0zM453.2 89.9a1.6 1.6 0 1 0 3.2 0a1.6 1.6 0 1 0 -3.2 0zM453.9 93.6a1.6 1.6 0 1 0 3.2 0a1.6 1.6 0 1 0 -3.2 0zM454.2 92.2a1.6 1.6 0 1 0 3.2 0a1.6 1.6 0 1 0 -3.2 0zM454.6 92.9a1.6 1.6 0 1 0 3.2 0a1.6 1.6 0 1 0 -3.2 0zM455.4 91.6a1.6 1.6 0 1 0 3.2 0a1.6 1.6 0 1 0 -3.2 0zM455.7 91.9a1.6 1.6 0 1 0 3.2 0a1.6 1.6 0 1 0 -3.2 0zM456.2 93.5a1.6 1.6 0 1 0 3.2 0a1.6 1.6 0 1 0 -3.2 0zM456.9 92.7a1.6 1.6 0 1 0 3.2 0a1.6 1.6 0 1 0 -3.2 0zM457.2 93.1a1.6 1.6 0 1 0 3.2 0a1.6 1.6 0 1 0 -3.2 0zM457.8 90.6a1.6 1.6 0 1 0 3.2 0a1.6 1.6 0 1 0 -3.2 0zM458.3 90.5a1.6 1.6 0 1 0 3.2 0a1.6 1.6 0 1 0 -3.2 0zM458.8 92.0a1.6 1.6 0 1 0 3.2 0a1.6 1.6 0 1 0 -3.2 0zM459.1 92.4a1.6 1.6 0 1 0 3.2 0a1.6 1.6 0 1 0 -3.2 0zM459.7 91.7a1.6 1.6 0 1 0 3.2 0a1.6 1.6 0 1 0 -3.2 0zM460.2 92.7a1.6 1.6 0 1 0 3.2 0a1.6 1.6 0 1 0 -3.2 0zM460.5 93.2a1.6 1.6 0 1 0 3.2 0a1.6 1.6 0 1 0 -3.2 0zM461.2 91.5a1.6 1.6 0 1 0 3.2 0a1.6 1.6 0 1 0 -3.2 0zM461.5 93.7a1.6 1.6 0 1 0 3.2 0a1.6 1.6 0 1 0 -3.2 0zM462.2 92.9a1.6 1.6 0 1 0 3.2 0a1.6 1.6 0 1 0 -3.2 0zM462.8 94.4a1.6 1.6 0 1 0 3.2 0a1.6 1.6 0 1 0 -3.2 0zM463.0 93.7a1.6 1.6 0 1 0 3.2 0a1.6 1.6 0 1 0 -3.2 0zM463.8 91.8a1.6 1.6 0 1 0 3.2 0a1.6 1.6 0 1 0 -3.2 0zM464.3 94.3a1.6 1.6 0 1 0 3.2 0a1.6 1.6 0 1 0 -3.2 0zM464.5 92.4a1.6 1.6 0 1 0 3.2 0a1.6 1.6 0 1 0 -3.2 0zM464.9 92.2a1.6 1.6 0 1 0 3.2 0a1.6 1.6 0 1 0 -3.2 0zM465.8 92.0a1.6 1.6 0 1 0 3.2 0a1.6 1.6 0 1 0 -3.2 0zM465.9 93.0a1.6 1.6 0 1 0 3.2 0a1.6 1.6 0 1 0 -3.2 0zM466.6 93.5a1.6 1.6 0 1 0 3.2 0a1.6 1.6 0 1 0 -3.2 0zM467.2 93.2a1.6 1.6 0 1 0 3.2 0a1.6 1.6 0 1 0 -3.2 0zM467.5 91.6a1.6 1.6 0 1 0 3.2 0a1.6 1.6 0 1 0 -3.2 0zM467.9 93.0a1.6 1.6 0 1 0 3.2 0a1.6 1.6 0 1 0 -3.2 0zM468.5 91.7a1.6 1.6 0 1 0 3.2 0a1.6 1.6 0 1 0 -3.2 0zM469.0 94.5a1.6 1.6 0 1 0 3.2 0a1.6 1.6 0 1 0 -3.2 0zM469.4 94.8a1.6 1.6 0 1 0 3.2 0a1.6 1.6 0 1 0 -3.2 0zM469.8 91.9a1.6 1.6 0 1 0 3.2 0a1.6 1.6 0 1 0 -3.2 0zM470.4 92.5a1.6 1.6 0 1 0 3.2 0a1.6 1.6 0 1 0 -3.2 0zM471.1 90.7a1.6 1.6 0 1 0 3.2 0a1.6 1.6 0 1 0 -3.2 0zM471.5 92.7a1.6 1.6 0 1 0 3.2 0a1.6 1.6 0 1 0 -3.2 0zM471.8 93.5a1.6 1.6 0 1 0 3.2 0a1.6 1.6 0 1 0 -3.2 0zM472.5 94.3a1.6 1.6 0 1 0 3.2 0a1.6 1.6 0 1 0 -3.2 0zM472.9 93.7a1.6 1.6 0 1 0 3.2 0a1.6 1.6 0 1 0 -3.2 0zM473.2 94.6a1.6 1.6 0 1 0 3.2 0a1.6 1.6 0 1 0 -3.2 0zM474.0 92.8a1.6 1.6 0 1 0 3.2 0a1.6 1.6 0 1 0 -3.2 0zM474.5 92.7a1.6 1.6 0 1 0 3.2 0a1.6 1.6 0 1 0 -3.2 0zM474.8 93.0a1.6 1.6 0 1 0 3.2 0a1.6 1.6 0 1 0 -3.2 0zM475.3 93.6a1.6 1.6 0 1 0 3.2 0a1.6 1.6 0 1 0 -3.2 0zM475.7 95.5a1.6 1.6 0 1 0 3.2 0a1.6 1.6 0 1 0 -3.2 0zM476.5 92.6a1.6 1.6 0 1 0 3.2 0a1.6 1.6 0 1 0 -3.2 0zM476.9 94.7a1.6 1.6 0 1 0 3.2 0a1.6 1.6 0 1 0 -3.2 0zM477.4 94.9a1.6 1.6 0 1 0 3.2 0a1.6 1.6 0 1 0 -3.2 0zM478.0 93.9a1.6 1.6 0 1 0 3.2 0a1.6 1.6 0 1 0 -3.2 0zM478.3 93.1a1.6 1.6 0 1 0 3.2 0a1.6 1.6 0 1 0 -3.2 0zM479.0 94.3a1.6 1.6 0 1 0 3.2 0a1.6 1.6 0 1 0 -3.2 0zM479.1 94.7a1.6 1.6 0 1 0 3.2 0a1.6 1.6 0 1 0 -3.2 0zM479.6 96.0a1.6 1.6 0 1 0 3.2 0a1.6 1.6 0 1 0 -3.2 0zM480.3 93.8a1.6 1.6 0 1 0 3.2 0a1.6 1.6 0 1 0 -3.2 0zM480.9 95.4a1.6 1.6 0 1 0 3.2 0a1.6 1.6 0 1 0 -3.2 0zM481.3 94.8a1.6 1.6 0 1 0 3.2 0a1.6 1.6 0 1 0 -3.2 0zM481.9 95.2a1.6 1.6 0 1 0 3.2 0a1.6 1.6 0 1 0 -3.2 0zM482.3 95.2a1.6 1.6 0 1 0 3.2 0a1.6 1.6 0 1 0 -3.2 0zM482.8 93.3a1.6 1.6 0 1 0 3.2 0a1.6 1.6 0 1 0 -3.2 0zM483.3 94.3a1.6 1.6 0 1 0 3.2 0a1.6 1.6 0 1 0 -3.2 0zM483.7 94.0a1.6 1.6 0 1 0 3.2 0a1.6 1.6 0 1 0 -3.2 0zM484.1 94.0a1.6 1.6 0 1 0 3.2 0a1.6 1.6 0 1 0 -3.2 0zM484.8 95.7a1.6 1.6 0 1 0 3.2 0a1.6 1.6 0 1 0 -3.2 0zM485.0 94.6a1.6 1.6 0 1 0 3.2 0a1.6 1.6 0 1 0 -3.2 0zM485.9 95.2a1.6 1.6 0 1 0 3.2 0a1.6 1.6 0 1 0 -3.2 0zM486.2 95.7a1.6 1.6 0 1 0 3.2 0a1.6 1.6 0 1 0 -3.2 0zM486.8 93.7a1.6 1.6 0 1 0 3.2 0a1.6 1.6 0 1 0 -3.2 0zM487.0 95.1a1.6 1.6 0 1 0 3.2 0a1.6 1.6 0 1 0 -3.2 0zM487.6 94.0a1.6 1.6 0 1 0 3.2 0a1.6 1.6 0 1 0 -3.2 0zM487.9 93.2a1.6 1.6 0 1 0 3.2 0a1.6 1.6 0 1 0 -3.2 0zM488.5 94.5a1.6 1.6 0 1 0 3.2 0a1.6 1.6 0 1 0 -3.2 0zM489.0 96.2a1.6 1.6 0 1 0 3.2 0a1.6 1.6 0 1 0 -3.2 0zM489.8 94.6a1.6 1.6 0 1 0 3.2 0a1.6 1.6 0 1 0 -3.2 0zM490.2 94.7a1.6 1.6 0 1 0 3.2 0a1.6 1.6 0 1 0 -3.2 0zM490.5 94.4a1.6 1.6 0 1 0 3.2 0a1.6 1.6 0 1 0 -3.2 0zM491.1 94.8a1.6 1.6 0 1 0 3.2 0a1.6 1.6 0 1 0 -3.2 0zM491.5 95.6a1.6 1.6 0 1 0 3.2 0a1.6 1.6 0 1 0 -3.2 0zM492.1 94.6a1.6 1.6 0 1 0 3.2 0a1.6 1.6 0 1 0 -3.2 0zM492.3 96.3a1.6 1.6 0 1 0 3.2 0a1.6 1.6 0 1 0 -3.2 0zM493.1 95.2a1.6 1.6 0 1 0 3.2 0a1.6 1.6 0 1 0 -3.2 0zM493.4 94.3a1.6 1.6 0 1 0 3.2 0a1.6 1.6 0 1 0 -3.2 0zM494.0 95.3a1.6 1.6 0 1 0 3.2 0a1.6 1.6 0 1 0 -3.2 0zM494.6 95.4a1.6 1.6 0 1 0 3.2 0a1.6 1.6 0 1 0 -3.2 0zM494.8 96.6a1.6 1.6 0 1 0 3.2 0a1.6 1.6 0 1 0 -3.2 0zM495.4 93.9a1.6 1.6 0 1 0 3.2 0a1.6 1.6 0 1 0 -3.2 0zM495.9 95.3a1.6 1.6 0 1 0 3.2 0a1.6 1.6 0 1 0 -3.2 0z" fill="#161616"/>
<text transform="translate(281.6 59.8) rotate(-90)" font-size="7.7" text-anchor="middle" fill="#111" stroke="#111" stroke-width="0.2">F ERp5 (x10<tspan font-size="5" dy="-2.5">3</tspan><tspan dy="2.5">)</tspan></text>
<text x="401.6" y="119.5" font-size="8.2" text-anchor="middle" font-weight="bold" fill="#111" stroke="#111" stroke-width="0.3" >sec</text>
<path d="M61.8 147.2V271.5H248.3" stroke="#b5b5b5" stroke-width="0.8" fill="none"/><text x="54.9" y="274.128" font-size="7.3" text-anchor="end" font-weight="normal" fill="#111" stroke="#111" stroke-width="0.3" >0</text><text x="54.9" y="261.698" font-size="7.3" text-anchor="end" font-weight="normal" fill="#111" stroke="#111" stroke-width="0.3" >1000</text><text x="54.9" y="249.26799999999997" font-size="7.3" text-anchor="end" font-weight="normal" fill="#111" stroke="#111" stroke-width="0.3" >2000</text><text x="54.9" y="236.83799999999997" font-size="7.3" text-anchor="end" font-weight="normal" fill="#111" stroke="#111" stroke-width="0.3" >3000</text><text x="54.9" y="224.408" font-size="7.3" text-anchor="end" font-weight="normal" fill="#111" stroke="#111" stroke-width="0.3" >4000</text><text x="54.9" y="211.97799999999998" font-size="7.3" text-anchor="end" font-weight="normal" fill="#111" stroke="#111" stroke-width="0.3" >5000</text><text x="54.9" y="199.54799999999997" font-size="7.3" text-anchor="end" font-weight="normal" fill="#111" stroke="#111" stroke-width="0.3" >6000</text><text x="54.9" y="187.118" font-size="7.3" text-anchor="end" font-weight="normal" fill="#111" stroke="#111" stroke-width="0.3" >7000</text><text x="54.9" y="174.688" font-size="7.3" text-anchor="end" font-weight="normal" fill="#111" stroke="#111" stroke-width="0.3" >8000</text><text x="54.9" y="162.25799999999998" font-size="7.3" text-anchor="end" font-weight="normal" fill="#111" stroke="#111" stroke-width="0.3" >9000</text><text x="54.9" y="149.82799999999997" font-size="7.3" text-anchor="end" font-weight="normal" fill="#111" stroke="#111" stroke-width="0.3" >10000</text><text x="61.8" y="283.6" font-size="7.6" text-anchor="middle" font-weight="normal" fill="#111" stroke="#111" stroke-width="0.3" >0</text><text x="82.52222222222221" y="283.6" font-size="7.6" text-anchor="middle" font-weight="normal" fill="#111" stroke="#111" stroke-width="0.3" >20</text><text x="103.24444444444444" y="283.6" font-size="7.6" text-anchor="middle" font-weight="normal" fill="#111" stroke="#111" stroke-width="0.3" >40</text><text x="123.96666666666667" y="283.6" font-size="7.6" text-anchor="middle" font-weight="normal" fill="#111" stroke="#111" stroke-width="0.3" >60</text><text x="144.68888888888887" y="283.6" font-size="7.6" text-anchor="middle" font-weight="normal" fill="#111" stroke="#111" stroke-width="0.3" >80</text><text x="165.4111111111111" y="283.6" font-size="7.6" text-anchor="middle" font-weight="normal" fill="#111" stroke="#111" stroke-width="0.3" >100</text><text x="186.13333333333333" y="283.6" font-size="7.6" text-anchor="middle" font-weight="normal" fill="#111" stroke="#111" stroke-width="0.3" >120</text><text x="206.85555555555555" y="283.6" font-size="7.6" text-anchor="middle" font-weight="normal" fill="#111" stroke="#111" stroke-width="0.3" >140</text><text x="227.57777777777778" y="283.6" font-size="7.6" text-anchor="middle" font-weight="normal" fill="#111" stroke="#111" stroke-width="0.3" >160</text><text x="248.3" y="283.6" font-size="7.6" text-anchor="middle" font-weight="normal" fill="#111" stroke="#111" stroke-width="0.3" >180</text><path d="M59.3 271.5H61.8M59.3 259.1H61.8M59.3 246.6H61.8M59.3 234.2H61.8M59.3 221.8H61.8M59.3 209.3H61.8M59.3 196.9H61.8M59.3 184.5H61.8M59.3 172.1H61.8M59.3 159.6H61.8M59.3 147.2H61.8M61.8 271.5v2.5M82.5 271.5v2.5M103.2 271.5v2.5M124.0 271.5v2.5M144.7 271.5v2.5M165.4 271.5v2.5M186.1 271.5v2.5M206.9 271.5v2.5M227.6 271.5v2.5M248.3 271.5v2.5" stroke="#b5b5b5" stroke-width="0.8" fill="none"/>
<path d="M61.8 270.2L62.3 270.4L62.8 270.0L63.4 270.1L63.9 269.9L64.4 269.7L64.9 269.6L65.4 270.6L65.9 270.4L66.5 269.7L67.0 270.0L67.5 269.5L68.0 270.0L68.5 269.9L69.1 270.0L69.6 269.4L70.1 269.9L70.6 270.3L71.1 270.5L71.6 270.6L72.2 270.2L72.7 269.9L73.2 269.7L73.7 269.9L74.2 269.9L74.8 269.7L75.3 270.2L75.8 270.0L76.3 270.2L76.8 270.4L77.3 270.4L77.9 270.1L78.4 270.3L78.9 270.5L79.4 270.6L79.9 270.4L80.4 270.2L81.0 270.5L81.5 270.3L82.0 270.1L82.5 270.3L83.0 270.1L83.6 269.9L84.1 269.9L84.6 270.2L85.1 270.2L85.6 270.2L86.1 269.7L86.7 269.7L87.2 270.1L87.7 270.1L88.2 270.8L88.7 270.3L89.3 270.5L89.8 270.1L90.3 270.4L90.8 270.1L91.3 269.5L91.8 269.6L92.4 270.1L92.9 270.2L93.4 270.2L93.9 270.0L94.4 269.5L95.0 270.0L95.5 270.4L96.0 269.9L96.5 270.2L97.0 270.2L97.5 269.7L98.1 269.8L98.6 269.7L99.1 269.6L99.6 269.8L100.1 269.9L100.7 269.8L101.2 269.6L101.7 270.6L102.2 270.9L102.7 270.7L103.2 270.7L103.8 269.6L104.3 269.8L104.8 270.6L105.3 270.3L105.8 269.6L106.4 269.7L106.9 270.1L107.4 270.1L107.9 270.2L108.4 270.1L108.9 270.3L109.5 270.3L110.0 270.2L110.5 270.4L111.0 270.4L111.5 270.6L112.1 270.5L112.6 271.1L113.1 270.7L113.6 269.9L114.1 270.5L114.6 269.9L115.2 269.8L115.7 270.4L116.2 270.4L116.7 270.4L117.2 269.6L117.8 270.3L118.3 269.9L118.8 270.1L119.3 269.9L119.8 270.4L120.3 269.9L120.9 270.5L121.4 270.6L121.9 270.2L122.4 270.0L122.9 270.5L123.4 270.9L124.0 270.6L124.5 270.3L125.0 270.2L125.5 270.3L126.0 270.1L126.6 270.0L127.1 270.2L127.6 270.0L128.1 270.2L128.6 269.8L129.1 269.5L129.7 269.9L130.2 270.3L130.7 270.5L131.2 270.5L131.7 269.9L132.3 270.1L132.8 270.4L133.3 270.3L133.8 270.6L134.3 270.1L134.8 269.7L135.4 269.6L135.9 269.4L136.4 269.9L136.9 270.3L137.4 270.3L138.0 270.1L138.5 270.0L139.0 270.6L139.5 270.5L140.0 270.2L140.5 270.3L141.1 270.2L141.6 270.7L142.1 271.0L142.6 270.4L143.1 270.1L143.7 269.8L144.2 270.5L144.7 270.3L145.2 270.4L145.7 270.2L146.2 269.9L146.8 270.2L147.3 270.3L147.8 270.1L148.3 270.6L148.8 270.3L149.4 270.5L149.9 269.9L150.4 270.0L150.9 270.0L151.4 269.8L151.9 270.0L152.5 270.8L153.0 270.6L153.5 270.3L154.0 270.1L154.5 270.0L155.1 269.9L155.6 269.7L156.1 270.2L156.6 269.9L157.1 269.9L157.6 270.2L158.2 270.1L158.7 270.3L159.2 269.6L159.7 270.0L160.2 270.0L160.7 270.1L161.3 270.2L161.8 270.6L162.3 270.4L162.8 269.9L163.3 269.8L163.9 270.1L164.4 269.6L164.9 270.3L165.4 270.6L165.9 270.5L166.4 270.4L167.0 270.0L167.5 269.6L168.0 269.8L168.5 270.0L169.0 270.3L169.6 270.0L170.1 270.7L170.6 270.2L171.1 270.6L171.6 270.5L172.1 270.3L172.7 270.4L173.2 270.4L173.7 270.4L174.2 270.6L174.7 270.3L175.3 270.2L175.8 270.3L176.3 270.1L176.8 270.2L177.3 270.4L177.8 269.6L178.4 269.5L178.9 269.8L179.4 269.8L179.9 270.0L180.4 269.8L181.0 270.0L181.5 269.5L182.0 269.6L182.5 269.6L183.0 269.4L183.5 269.5L184.1 269.8L184.6 270.0L185.1 269.9L185.6 270.3L186.1 270.1L186.7 270.1L187.2 270.4L187.7 269.6L188.2 270.0L188.7 269.7L189.2 269.2L189.8 269.3L190.3 269.9L190.8 270.2L191.3 270.1L191.8 270.2L192.4 269.9L192.9 269.8L193.4 269.5L193.9 270.0L194.4 269.5L194.9 270.3L195.5 270.4L196.0 269.7L196.5 269.6L197.0 270.2L197.5 270.1L198.0 270.1L198.6 269.6L199.1 270.2L199.6 269.8L200.1 270.1L200.6 270.1L201.2 270.2L201.7 269.6L202.2 269.4L202.7 269.7L203.2 270.3L203.7 270.3L204.3 270.3L204.8 269.9L205.3 270.5L205.8 270.2L206.3 269.8L206.9 269.7L207.4 269.9L207.9 269.5L208.4 269.8L208.9 269.7L209.4 269.8L210.0 269.2L210.5 270.0L211.0 269.5L211.5 269.8L212.0 270.2L212.6 270.1L213.1 270.1L213.6 269.6L214.1 270.0L214.6 269.7L215.1 269.6L215.7 270.3L216.2 270.1L216.7 270.2L217.2 269.5" stroke="#dcdcdc" stroke-width="3.0" fill="none" stroke-linejoin="round" stroke-linecap="round"/>
<path d="M61.8 262.9L62.3 260.1L62.8 252.6L63.4 250.0L63.9 251.7L64.4 256.2L64.9 258.6L65.4 262.5L65.9 261.4L66.5 261.1L67.0 261.2L67.5 260.0L68.0 260.0L68.5 260.0L69.1 258.6L69.6 259.3L70.1 258.1L70.6 258.6L71.1 259.5L71.6 260.3L72.2 260.9L72.7 261.7L73.2 262.6L73.7 262.5L74.2 262.5L74.8 262.3L75.3 262.3L75.8 263.5L76.3 263.8L76.8 264.2L77.3 264.3L77.9 263.8L78.4 263.5L78.9 263.3L79.4 264.2L79.9 263.2L80.4 262.9L81.0 262.4L81.5 262.3L82.0 262.3L82.5 262.4L83.0 262.5L83.6 262.3L84.1 263.0L84.6 262.4L85.1 262.6L85.6 262.0L86.1 262.2L86.7 263.1L87.2 262.2L87.7 262.8L88.2 262.6L88.7 262.3L89.3 262.1L89.8 262.1L90.3 261.9L90.8 261.8L91.3 262.2L91.8 261.5L92.4 262.1L92.9 262.1L93.4 261.8L93.9 262.6L94.4 262.3L95.0 262.1L95.5 262.4L96.0 262.8L96.5 263.8L97.0 263.9L97.5 264.3L98.1 263.9L98.6 263.7L99.1 264.0L99.6 264.7L100.1 264.4L100.7 264.2L101.2 264.5L101.7 264.6L102.2 264.2L102.7 264.4L103.2 264.1L103.8 263.9L104.3 264.0L104.8 264.1L105.3 264.6L105.8 265.3L106.4 266.7L106.9 266.4L107.4 266.3L107.9 266.3L108.4 265.7L108.9 265.7L109.5 265.4L110.0 265.7L110.5 266.0L111.0 265.7L111.5 266.3L112.1 266.8L112.6 266.4L113.1 266.4L113.6 265.4L114.1 265.7L114.6 266.6L115.2 266.3L115.7 265.7L116.2 265.4L116.7 265.5L117.2 266.5L117.8 266.3L118.3 266.3L118.8 266.5L119.3 266.2L119.8 266.5L120.3 266.5L120.9 266.8L121.4 266.3L121.9 266.9L122.4 267.0L122.9 266.6L123.4 266.0L124.0 265.9L124.5 265.8L125.0 265.3L125.5 266.5L126.0 266.0L126.6 265.7L127.1 265.2L127.6 266.1L128.1 264.7L128.6 265.6L129.1 265.8L129.7 265.8L130.2 265.9L130.7 265.4L131.2 265.4L131.7 265.6L132.3 266.4L132.8 266.1L133.3 265.9L133.8 265.7L134.3 265.9L134.8 265.7L135.4 265.6L135.9 265.6L136.4 265.5L136.9 266.5L137.4 265.4L138.0 265.4L138.5 265.2L139.0 266.0L139.5 266.2L140.0 265.2L140.5 265.3L141.1 265.5L141.6 265.3L142.1 265.6L142.6 265.0L143.1 265.7L143.7 265.5L144.2 265.5L144.7 265.7L145.2 265.9L145.7 266.1L146.2 266.4L146.8 266.0L147.3 265.3L147.8 265.2L148.3 264.6L148.8 265.5L149.4 266.0L149.9 265.9L150.4 265.8L150.9 265.1L151.4 265.8L151.9 266.2L152.5 265.9L153.0 266.4L153.5 265.9L154.0 266.0L154.5 265.8L155.1 265.9L155.6 265.7L156.1 265.1L156.6 265.2L157.1 264.9L157.6 265.6L158.2 265.4L158.7 264.9L159.2 265.6L159.7 265.8L160.2 266.1L160.7 265.6L161.3 265.8L161.8 266.4L162.3 266.6L162.8 266.0L163.3 265.8L163.9 265.7L164.4 265.5L164.9 265.0L165.4 265.5L165.9 265.0L166.4 265.5L167.0 263.9L167.5 264.6L168.0 265.3L168.5 265.6L169.0 266.3L169.6 265.4L170.1 264.8L170.6 264.6L171.1 265.0L171.6 264.5L172.1 265.3L172.7 265.3L173.2 265.0L173.7 264.9L174.2 265.4L174.7 265.5L175.3 264.9L175.8 265.1L176.3 266.0L176.8 264.8L177.3 265.3L177.8 264.9L178.4 264.6L178.9 264.5L179.4 264.7L179.9 265.0L180.4 264.7L181.0 265.0L181.5 264.9L182.0 265.2L182.5 265.4L183.0 265.1L183.5 264.3L184.1 264.6L184.6 264.6L185.1 264.3L185.6 265.2L186.1 264.7L186.7 265.0L187.2 264.9L187.7 264.2L188.2 263.8L188.7 263.3L189.2 264.3L189.8 265.0L190.3 264.5L190.8 264.5L191.3 265.6L191.8 264.6L192.4 264.2L192.9 264.0L193.4 263.3L193.9 263.4L194.4 264.0L194.9 265.1L195.5 264.8L196.0 265.0L196.5 264.7L197.0 264.5L197.5 264.7L198.0 264.6L198.6 264.5L199.1 264.2L199.6 263.7L200.1 264.4L200.6 264.7L201.2 263.4L201.7 263.8L202.2 263.9L202.7 264.7L203.2 264.0L203.7 263.6L204.3 263.5L204.8 264.7L205.3 264.7L205.8 264.6L206.3 264.3L206.9 263.7L207.4 263.6L207.9 264.6L208.4 264.5L208.9 264.2L209.4 263.9L210.0 263.8L210.5 263.1L211.0 263.7L211.5 264.1L212.0 264.1L212.6 264.2L213.1 264.4L213.6 264.3L214.1 264.2L214.6 265.0L215.1 264.9L215.7 265.0L216.2 264.2L216.7 264.4L217.2 264.6" stroke="#727272" stroke-width="2.4" fill="none" stroke-linejoin="round" stroke-linecap="round"/>
<path d="M63.4 258.5L63.6 257.7L63.9 259.9L64.1 259.8L64.4 258.5L64.6 260.0L64.9 260.9L65.2 260.1L65.4 259.9L65.7 258.8L65.9 259.2L66.2 257.3L66.5 257.3L66.7 258.0L67.0 257.0L67.2 257.3L67.5 256.5L67.8 256.7L68.0 254.9L68.3 254.6L68.5 255.4L68.8 254.6L69.1 254.7L69.3 255.3L69.6 254.1L69.8 253.2L70.1 253.6L70.3 251.8L70.6 250.4L70.9 252.4L71.1 252.6L71.4 252.0L71.6 251.1L71.9 251.7L72.2 251.3L72.4 249.8L72.7 250.8L72.9 250.1L73.2 250.8L73.5 249.8L73.7 249.7L74.0 248.1L74.2 248.4L74.5 248.8L74.8 248.5L75.0 247.0L75.3 247.0L75.5 247.8L75.8 249.1L76.0 248.3L76.3 247.1L76.6 247.6L76.8 248.9L77.1 248.0L77.3 248.1L77.6 248.0L77.9 248.4L78.1 249.2L78.4 249.7L78.6 248.6L78.9 248.8L79.2 250.2L79.4 251.4L79.7 250.0L79.9 250.4L80.2 251.3L80.4 252.5L80.7 251.5L81.0 254.2L81.2 254.6L81.5 254.2L81.7 254.5L82.0 254.7L82.3 256.6L82.5 255.8L82.8 255.5L83.0 256.9L83.3 256.5L83.6 257.7L83.8 258.0L84.1 258.2L84.3 258.6L84.6 258.6L84.9 257.9L85.1 257.7L85.4 258.4L85.6 258.8L85.9 260.4L86.1 260.3L86.4 259.8L86.7 260.0L86.9 260.5L87.2 261.1L87.4 259.9L87.7 259.8L88.0 262.5L88.2 259.0L88.5 259.8L88.7 260.4L89.0 259.9L89.3 260.2L89.5 259.5L89.8 261.0L90.0 260.4L90.3 260.3L90.6 262.1L90.8 259.6L91.1 260.8L91.3 261.8L91.6 261.1L91.8 259.9L92.1 261.1L92.4 260.8L92.6 260.6L92.9 260.1L93.1 261.6L93.4 258.6L93.7 259.3L93.9 257.9L94.2 257.7L94.4 258.9L94.7 257.6L95.0 257.6L95.2 255.8L95.5 254.7L95.7 253.1L96.0 251.7L96.3 250.1L96.5 248.6L96.8 248.6L97.0 246.1L97.3 244.0L97.5 243.9L97.8 241.8L98.1 241.0L98.3 240.1L98.6 240.6L98.8 238.7L99.1 240.1L99.4 239.7L99.6 237.0L99.9 234.7L100.1 234.2L100.4 234.2L100.7 233.6L100.9 231.2L101.2 229.5L101.4 229.5L101.7 227.9L101.9 226.8L102.2 225.9L102.5 226.4L102.7 225.4L103.0 224.2L103.2 222.2L103.5 221.8L103.8 222.9L104.0 225.3L104.3 233.3L104.5 240.0L104.8 235.6L105.1 230.9L105.3 226.9L105.6 223.2L105.8 222.1L106.1 224.2L106.4 222.4L106.6 224.4L106.9 224.0L107.1 222.6L107.4 224.4L107.6 225.2L107.9 225.2L108.2 225.3L108.4 224.0L108.7 222.4L108.9 221.4L109.2 220.6L109.5 219.6L109.7 218.8L110.0 216.5L110.2 216.5L110.5 220.8L110.8 224.8L111.0 224.8L111.3 226.8L111.5 229.0L111.8 230.6L112.1 231.6L112.3 232.2L112.6 233.7L112.8 232.8L113.1 234.4L113.3 233.9L113.6 233.6L113.9 233.0L114.1 232.4L114.4 232.3L114.6 231.8L114.9 230.8L115.2 229.3L115.4 231.1L115.7 231.0L115.9 231.5L116.2 231.2L116.5 231.6L116.7 231.6L117.0 231.0L117.2 229.9L117.5 230.5L117.8 231.2L118.0 231.9L118.3 233.2L118.5 233.7L118.8 233.2L119.0 232.7L119.3 233.6L119.6 234.8L119.8 234.2L120.1 233.1L120.3 233.4L120.6 232.5L120.9 234.1L121.1 233.0L121.4 234.2L121.6 236.0L121.9 235.6L122.2 235.8L122.4 236.5L122.7 236.8L122.9 238.4L123.2 240.3L123.4 237.3L123.7 235.5L124.0 235.3L124.2 234.4L124.5 233.0L124.7 232.4L125.0 232.8L125.3 230.7L125.5 229.2L125.8 229.2L126.0 229.2L126.3 231.5L126.6 228.6L126.8 227.2L127.1 226.2L127.3 225.7L127.6 225.9L127.9 224.6L128.1 224.0L128.4 223.4L128.6 222.2L128.9 221.9L129.1 222.0L129.4 222.9L129.7 224.6L129.9 222.8L130.2 224.4L130.4 224.4L130.7 224.0L131.0 223.3L131.2 222.0L131.5 221.2L131.7 219.0L132.0 219.3L132.3 219.1L132.5 218.9L132.8 218.3L133.0 217.1L133.3 218.4L133.6 220.0L133.8 217.6L134.1 215.7L134.3 214.8L134.6 213.6L134.8 211.8L135.1 211.7L135.4 210.9L135.6 210.5L135.9 208.3L136.1 207.4L136.4 205.8L136.7 205.3L136.9 205.1L137.2 201.7L137.4 200.4L137.7 198.3L138.0 196.1L138.2 196.6L138.5 193.4L138.7 192.8L139.0 192.1L139.2 189.8L139.5 187.4L139.8 183.5L140.0 182.7L140.3 180.6L140.5 177.9L140.8 175.5L141.1 173.6L141.3 169.6L141.6 169.3L141.8 167.7L142.1 166.7L142.4 165.0L142.6 163.4L142.9 161.7L143.1 160.1L143.4 157.3L143.7 156.1L143.9 156.5L144.2 156.3L144.4 156.8L144.7 156.6L144.9 156.3L145.2 154.5L145.5 156.5L145.7 156.9L146.0 155.8L146.2 156.5L146.5 158.2L146.8 158.7L147.0 161.0L147.3 160.8L147.5 161.8L147.8 161.6L148.1 160.4L148.3 159.6L148.6 156.9L148.8 157.1L149.1 157.9L149.4 159.3L149.6 158.3L149.9 159.7L150.1 161.1L150.4 160.2L150.6 161.4L150.9 163.0L151.2 163.0L151.4 164.7L151.7 165.5L151.9 165.4L152.2 167.7L152.5 168.1L152.7 169.5L153.0 170.7L153.2 173.2L153.5 175.2L153.8 175.7L154.0 175.0L154.3 173.3L154.5 172.4L154.8 171.2L155.1 170.1L155.3 171.9L155.6 172.5L155.8 172.8L156.1 172.6L156.3 173.9L156.6 175.1L156.9 174.4L157.1 175.3L157.4 171.4L157.6 168.8L157.9 167.5L158.2 164.2L158.4 162.5L158.7 164.4L158.9 163.3L159.2 164.9L159.5 165.0L159.7 165.9L160.0 166.1L160.2 167.7L160.5 166.8L160.7 169.0L161.0 168.3L161.3 170.2L161.5 171.7L161.8 171.4L162.0 172.4L162.3 173.6L162.6 175.2L162.8 175.2L163.1 175.5L163.3 176.5L163.6 177.4L163.9 177.9L164.1 178.5L164.4 177.3L164.6 177.5L164.9 179.0L165.2 180.2L165.4 180.0L165.7 179.7L165.9 180.7L166.2 180.9L166.4 180.3L166.7 181.3L167.0 182.0L167.2 181.1L167.5 182.2L167.7 181.4L168.0 181.3L168.3 179.0L168.5 178.3L168.8 177.9L169.0 177.0L169.3 174.9L169.6 174.4L169.8 173.1L170.1 171.3L170.3 169.6L170.6 167.3L170.9 166.4L171.1 165.1L171.4 163.7L171.6 161.5L171.9 160.8L172.1 158.8L172.4 157.9L172.7 155.3L172.9 153.5L173.2 153.6L173.4 154.4L173.7 155.4L174.0 155.3L174.2 157.6L174.5 157.8L174.7 156.6L175.0 158.1L175.3 158.3L175.5 158.8L175.8 161.2L176.0 163.5L176.3 163.9L176.5 165.5L176.8 165.7L177.1 166.1L177.3 165.7L177.6 167.5L177.8 168.5L178.1 169.3L178.4 167.5L178.6 169.0L178.9 168.8L179.1 170.1L179.4 170.3L179.7 168.1L179.9 170.3L180.2 170.2L180.4 170.5L180.7 171.0L181.0 171.1L181.2 172.5L181.5 171.9L181.7 172.9L182.0 174.0L182.2 174.2L182.5 174.9L182.8 175.8L183.0 175.9L183.3 177.4L183.5 177.2L183.8 178.1L184.1 180.0L184.3 177.9L184.6 178.3L184.8 178.6L185.1 178.9L185.4 180.0L185.6 180.2L185.9 179.0L186.1 179.3L186.4 178.2L186.7 177.1L186.9 178.6L187.2 179.8L187.4 177.8L187.7 177.7L187.9 176.7L188.2 177.4L188.5 177.5L188.7 178.3L189.0 176.4L189.2 176.9L189.5 175.8L189.8 176.4L190.0 176.8L190.3 175.8L190.5 175.0L190.8 177.3L191.1 176.3L191.3 176.5L191.6 179.1L191.8 183.2L192.1 187.4L192.4 190.1L192.6 187.7L192.9 182.6L193.1 175.4L193.4 169.8L193.6 171.2L193.9 171.3L194.2 171.8L194.4 175.3L194.7 175.0L194.9 176.9L195.2 176.0L195.5 178.8L195.7 177.8L196.0 179.3L196.2 180.2L196.5 180.7L196.8 181.9L197.0 182.1L197.3 179.9L197.5 182.1L197.8 183.7L198.0 182.3L198.3 183.1L198.6 184.4L198.8 185.0L199.1 186.6L199.3 186.6L199.6 187.2L199.9 185.5L200.1 185.6L200.4 186.5L200.6 187.9L200.9 189.0L201.2 188.7L201.4 189.1L201.7 188.5L201.9 189.8L202.2 189.0L202.5 189.1L202.7 190.0L203.0 189.6L203.2 190.6L203.5 190.6L203.7 191.2L204.0 188.9L204.3 190.8L204.5 190.0L204.8 190.6L205.0 190.4L205.3 189.1L205.6 189.4L205.8 189.4L206.1 190.9L206.3 190.1L206.6 187.8L206.9 188.0L207.1 191.2L207.4 190.9L207.6 189.8L207.9 190.5L208.2 189.5L208.4 190.0L208.7 188.2L208.9 188.4L209.2 189.2L209.4 191.7L209.7 192.0L210.0 191.9L210.2 193.4L210.5 193.3L210.7 194.1L211.0 193.5L211.3 192.4L211.5 193.4L211.8 192.0L212.0 193.6L212.3 193.3L212.6 192.8L212.8 195.1L213.1 194.6L213.3 196.7L213.6 197.0L213.8 197.2L214.1 195.9L214.4 197.6L214.6 196.4L214.9 198.2L215.1 197.7L215.4 197.1L215.7 197.7L215.9 196.4L216.2 197.7L216.4 199.3L216.7 198.8L217.0 197.7L217.2 199.6" stroke="#0c0c0c" stroke-width="2.2" fill="none" stroke-linejoin="round" stroke-linecap="round"/>
<text transform="translate(30.3 212) rotate(-90)" font-size="7.3" text-anchor="middle" fill="#111" stroke="#111" stroke-width="0.2">F platelets (x10<tspan font-size="5" dy="-2.5">3</tspan><tspan dy="2.5">)</tspan></text>
<text x="150.3" y="292.3" font-size="7.4" text-anchor="middle" font-weight="bold" fill="#111" stroke="#111" stroke-width="0.3" >sec</text>
<text x="224.6" y="190.2" font-size="7.5" text-anchor="middle" font-weight="bold" fill="#111" stroke="#111" stroke-width="0.3" >1</text>
<text x="225.5" y="256.7" font-size="7.5" text-anchor="middle" font-weight="bold" fill="#111" stroke="#111" stroke-width="0.3" >2</text>
<text x="225.5" y="269" font-size="7.5" text-anchor="middle" font-weight="bold" fill="#111" stroke="#111" stroke-width="0.3" >3</text>
<path d="M232.5 199.5h3.3V263.1h-3.3M241.7 199.5h3.3V267.9h-3.3" stroke="#444" stroke-width="0.9" fill="none"/>
<path d="M235.6 232.6H252.6" stroke="#1a1a1a" stroke-width="1.7" stroke-dasharray="1.9 0.93" fill="none"/>
<path d="M312.8 155.0V266.8H512.4" stroke="#b5b5b5" stroke-width="0.8" fill="none"/><text x="306.2" y="269.644" font-size="7.9" text-anchor="end" font-weight="normal" fill="#111" stroke="#111" stroke-width="0.3" >0</text><text x="306.2" y="255.669" font-size="7.9" text-anchor="end" font-weight="normal" fill="#111" stroke="#111" stroke-width="0.3" >5000</text><text x="306.2" y="241.69400000000002" font-size="7.9" text-anchor="end" font-weight="normal" fill="#111" stroke="#111" stroke-width="0.3" >10000</text><text x="306.2" y="227.719" font-size="7.9" text-anchor="end" font-weight="normal" fill="#111" stroke="#111" stroke-width="0.3" >15000</text><text x="306.2" y="213.744" font-size="7.9" text-anchor="end" font-weight="normal" fill="#111" stroke="#111" stroke-width="0.3" >20000</text><text x="306.2" y="199.769" font-size="7.9" text-anchor="end" font-weight="normal" fill="#111" stroke="#111" stroke-width="0.3" >25000</text><text x="306.2" y="185.79399999999998" font-size="7.9" text-anchor="end" font-weight="normal" fill="#111" stroke="#111" stroke-width="0.3" >30000</text><text x="306.2" y="171.819" font-size="7.9" text-anchor="end" font-weight="normal" fill="#111" stroke="#111" stroke-width="0.3" >35000</text><text x="306.2" y="157.844" font-size="7.9" text-anchor="end" font-weight="normal" fill="#111" stroke="#111" stroke-width="0.3" >40000</text><text x="312.8" y="280.7" font-size="7.9" text-anchor="middle" font-weight="normal" fill="#111" stroke="#111" stroke-width="0.3" >0</text><text x="334.97777777777776" y="280.7" font-size="7.9" text-anchor="middle" font-weight="normal" fill="#111" stroke="#111" stroke-width="0.3" >20</text><text x="357.15555555555557" y="280.7" font-size="7.9" text-anchor="middle" font-weight="normal" fill="#111" stroke="#111" stroke-width="0.3" >40</text><text x="379.3333333333333" y="280.7" font-size="7.9" text-anchor="middle" font-weight="normal" fill="#111" stroke="#111" stroke-width="0.3" >60</text><text x="401.5111111111111" y="280.7" font-size="7.9" text-anchor="middle" font-weight="normal" fill="#111" stroke="#111" stroke-width="0.3" >80</text><text x="423.68888888888887" y="280.7" font-size="7.9" text-anchor="middle" font-weight="normal" fill="#111" stroke="#111" stroke-width="0.3" >100</text><text x="445.8666666666667" y="280.7" font-size="7.9" text-anchor="middle" font-weight="normal" fill="#111" stroke="#111" stroke-width="0.3" >120</text><text x="468.0444444444444" y="280.7" font-size="7.9" text-anchor="middle" font-weight="normal" fill="#111" stroke="#111" stroke-width="0.3" >140</text><text x="490.2222222222222" y="280.7" font-size="7.9" text-anchor="middle" font-weight="normal" fill="#111" stroke="#111" stroke-width="0.3" >160</text><text x="512.4" y="280.7" font-size="7.9" text-anchor="middle" font-weight="normal" fill="#111" stroke="#111" stroke-width="0.3" >180</text><path d="M310.3 266.8H312.8M310.3 252.8H312.8M310.3 238.9H312.8M310.3 224.9H312.8M310.3 210.9H312.8M310.3 196.9H312.8M310.3 182.9H312.8M310.3 169.0H312.8M310.3 155.0H312.8M312.8 266.8v2.5M335.0 266.8v2.5M357.2 266.8v2.5M379.3 266.8v2.5M401.5 266.8v2.5M423.7 266.8v2.5M445.9 266.8v2.5M468.0 266.8v2.5M490.2 266.8v2.5M512.4 266.8v2.5" stroke="#b5b5b5" stroke-width="0.8" fill="none"/>
<path d="M312.8 266.8L313.2 266.4L313.7 266.8L314.1 266.6L314.6 266.6L315.0 266.8L315.5 266.8L315.9 266.7L316.3 266.8L316.8 266.6L317.2 266.7L317.7 266.8L318.1 266.3L318.6 266.7L319.0 266.8L319.5 266.8L319.9 266.8L320.3 266.4L320.8 266.5L321.2 266.8L321.7 266.8L322.1 266.7L322.6 266.7L323.0 266.2L323.4 266.8L323.9 266.8L324.3 266.8L324.8 266.8L325.2 266.5L325.7 266.6L326.1 266.8L326.6 266.8L327.0 266.8L327.4 266.8L327.9 266.7L328.3 266.2L328.8 266.8L329.2 266.3L329.7 266.6L330.1 266.8L330.5 266.2L331.0 266.5L331.4 266.8L331.9 266.8L332.3 266.8L332.8 266.8L333.2 266.6L333.6 266.6L334.1 266.2L334.5 266.6L335.0 266.8L335.4 266.3L335.9 266.3L336.3 266.8L336.8 266.2L337.2 266.5L337.6 266.8L338.1 266.4L338.5 266.5L339.0 266.7L339.4 266.4L339.9 266.7L340.3 266.6L340.7 266.5L341.2 266.4L341.6 266.4L342.1 266.8L342.5 266.7L343.0 266.4L343.4 266.3L343.8 266.8L344.3 266.3L344.7 266.7L345.2 266.2L345.6 266.4L346.1 266.4L346.5 266.8L347.0 266.8L347.4 266.5L347.8 266.4L348.3 266.5L348.7 266.6L349.2 266.1L349.6 266.6L350.1 266.3L350.5 266.2L350.9 266.3L351.4 266.4L351.8 266.8L352.3 266.0L352.7 265.9L353.2 266.6L353.6 266.7L354.1 266.8L354.5 266.8L354.9 266.5L355.4 266.7L355.8 266.4L356.3 266.3L356.7 266.6L357.2 266.8L357.6 266.2L358.0 266.0L358.5 266.3L358.9 266.5L359.4 266.1L359.8 266.1L360.3 265.8L360.7 266.0L361.1 266.3L361.6 266.4L362.0 266.0L362.5 266.5L362.9 266.3L363.4 265.7L363.8 265.6L364.3 265.6L364.7 265.3L365.1 265.8L365.6 266.0L366.0 265.7L366.5 265.3L366.9 266.0L367.4 264.9L367.8 265.0L368.2 266.0L368.7 265.9L369.1 265.1L369.6 265.0L370.0 264.5L370.5 264.6L370.9 264.8L371.3 265.0L371.8 264.4L372.2 264.1L372.7 264.7L373.1 264.4L373.6 264.1L374.0 264.2L374.5 264.6L374.9 263.6L375.3 264.7L375.8 263.8L376.2 264.1L376.7 263.5L377.1 262.3L377.6 261.4L378.0 262.3L378.4 262.8L378.9 263.5L379.3 262.6L379.8 261.6L380.2 263.1L380.7 262.4L381.1 261.5L381.6 261.4L382.0 262.2L382.4 263.0L382.9 261.9L383.3 262.6L383.8 259.4L384.2 260.9L384.7 261.2L385.1 259.0L385.5 260.9L386.0 260.6L386.4 258.8L386.9 261.0L387.3 258.8L387.8 259.6L388.2 260.4L388.6 258.7L389.1 258.4L389.5 258.1L390.0 257.1L390.4 259.0L390.9 255.9L391.3 254.3L391.8 259.1L392.2 258.1L392.6 257.0L393.1 258.9L393.5 256.2L394.0 256.4L394.4 256.5L394.9 254.9L395.3 256.3L395.7 256.4L396.2 254.2L396.6 254.4L397.1 253.3L397.5 251.8L398.0 255.8L398.4 253.4L398.8 251.0L399.3 252.2L399.7 251.8L400.2 250.1L400.6 248.9L401.1 248.7L401.5 249.6L402.0 248.7L402.4 250.9L402.8 250.3L403.3 251.3L403.7 255.7L404.2 252.5L404.6 250.4L405.1 249.4L405.5 249.8L405.9 251.1L406.4 251.6L406.8 253.7L407.3 249.7L407.7 248.1L408.2 247.6L408.6 246.9L409.1 252.4L409.5 248.8L409.9 250.5L410.4 252.2L410.8 248.1L411.3 247.6L411.7 245.6L412.2 245.4L412.6 246.9L413.0 244.8L413.5 244.2L413.9 248.4L414.4 245.5L414.8 242.9L415.3 245.0L415.7 244.8L416.1 242.6L416.6 243.7L417.0 242.3L417.5 241.9L417.9 245.0L418.4 242.7L418.8 243.4L419.3 238.5L419.7 239.8L420.1 237.8L420.6 239.5L421.0 243.1L421.5 243.6L421.9 242.0L422.4 245.1L422.8 241.0L423.2 242.5L423.7 237.6L424.1 242.2L424.6 242.9L425.0 238.1L425.5 239.5L425.9 241.8L426.4 235.9L426.8 237.2L427.2 237.3L427.7 238.3L428.1 235.9L428.6 235.2L429.0 235.9L429.5 234.8L429.9 232.6L430.3 235.3L430.8 231.0L431.2 233.9L431.7 235.5L432.1 234.3L432.6 237.1L433.0 233.1L433.4 230.5L433.9 235.4L434.3 232.6L434.8 231.0L435.2 232.5L435.7 233.6L436.1 233.1L436.6 233.6L437.0 229.5L437.4 232.4L437.9 229.3L438.3 229.9L438.8 225.9L439.2 228.6L439.7 226.7L440.1 226.4L440.5 228.0L441.0 228.3L441.4 225.3L441.9 226.8L442.3 228.6L442.8 226.1L443.2 224.2L443.6 225.9L444.1 222.8L444.5 226.7L445.0 229.4L445.4 227.0L445.9 221.8L446.3 225.3L446.8 223.8L447.2 222.8L447.6 221.1L448.1 217.6L448.5 216.8L449.0 216.0L449.4 218.0L449.9 214.7L450.3 214.9L450.7 220.7L451.2 218.7L451.6 221.1L452.1 225.5L452.5 222.8L453.0 219.9L453.4 224.3L453.9 221.1L454.3 223.5L454.7 225.7L455.2 227.5L455.6 229.6L456.1 231.1L456.5 227.3L457.0 227.6L457.4 220.1L457.8 215.4L458.3 213.9L458.7 215.0L459.2 209.9L459.6 211.5L460.1 215.6L460.5 213.0L460.9 211.3L461.4 216.0L461.8 214.7L462.3 216.2L462.7 219.1L463.2 222.0L463.6 220.6L464.1 220.8L464.5 222.5L464.9 222.3L465.4 220.3L465.8 219.9L466.3 219.7L466.7 215.2L467.2 216.0L467.6 216.6L468.0 219.5L468.5 220.4L468.9 221.4L469.4 221.8L469.8 221.0L470.3 220.1L470.7 222.3L471.1 217.7L471.6 218.1L472.0 217.5L472.5 218.1L472.9 212.2L473.4 212.3L473.8 213.4L474.3 216.0L474.7 214.1L475.1 211.8L475.6 211.5L476.0 209.4L476.5 212.4L476.9 214.9L477.4 215.4L477.8 219.1L478.2 220.8L478.7 220.7L479.1 225.1" stroke="#cdcdcd" stroke-width="2.2" fill="none" stroke-linejoin="round" stroke-linecap="round"/>
<path d="M312.8 265.9L313.4 265.4L313.9 264.9L314.5 264.9L315.0 266.0L315.6 265.4L316.1 266.1L316.7 265.0L317.2 263.4L317.8 263.5L318.3 263.1L318.9 263.2L319.5 263.4L320.0 263.6L320.6 263.2L321.1 263.2L321.7 261.0L322.2 261.4L322.8 263.0L323.3 262.4L323.9 262.8L324.4 262.9L325.0 263.0L325.6 262.2L326.1 262.4L326.7 263.6L327.2 263.0L327.8 263.0L328.3 264.0L328.9 262.5L329.4 261.8L330.0 261.2L330.5 263.1L331.1 263.6L331.7 261.2L332.2 261.1L332.8 261.9L333.3 261.1L333.9 260.8L334.4 261.0L335.0 261.2L335.5 261.0L336.1 260.5L336.6 261.3L337.2 260.8L337.8 260.0L338.3 259.7L338.9 260.6L339.4 260.9L340.0 260.3L340.5 259.1L341.1 259.2L341.6 259.4L342.2 260.1L342.7 259.3L343.3 257.3L343.8 258.5L344.4 256.6L345.0 258.9L345.5 259.0L346.1 257.2L346.6 258.0L347.2 257.9L347.7 256.7L348.3 257.7L348.8 257.5L349.4 257.9L349.9 256.0L350.5 255.6L351.1 254.7L351.6 254.8L352.2 254.6L352.7 254.8L353.3 254.5L353.8 255.3L354.4 255.1L354.9 255.4L355.5 253.7L356.0 254.7L356.6 254.3L357.2 252.9L357.7 252.2L358.3 251.5L358.8 251.2L359.4 250.7L359.9 250.6L360.5 250.4L361.0 249.9L361.6 249.6L362.1 249.4L362.7 246.8L363.3 247.6L363.8 245.3L364.4 244.8L364.9 243.4L365.5 243.8L366.0 243.9L366.6 243.1L367.1 244.6L367.7 244.2L368.2 242.7L368.8 242.4L369.4 243.2L369.9 243.2L370.5 242.5L371.0 240.8L371.6 240.9L372.1 238.7L372.7 238.7L373.2 236.7L373.8 235.3L374.3 234.7L374.9 232.5L375.5 232.7L376.0 232.2L376.6 230.9L377.1 232.1L377.7 231.9L378.2 231.3L378.8 231.7L379.3 232.0L379.9 232.1L380.4 231.3L381.0 231.2L381.6 230.1L382.1 231.1L382.7 230.5L383.2 229.4L383.8 230.3L384.3 228.9L384.9 228.7L385.4 227.6L386.0 228.0L386.5 227.3L387.1 227.8L387.6 226.2L388.2 226.1L388.8 225.7L389.3 225.9L389.9 224.6L390.4 224.7L391.0 224.8L391.5 226.4L392.1 227.0L392.6 226.8L393.2 225.0L393.7 223.4L394.3 222.9L394.9 221.8L395.4 221.2L396.0 221.9L396.5 221.4L397.1 221.6L397.6 221.4L398.2 220.1L398.7 218.9L399.3 218.0L399.8 216.6L400.4 218.0L401.0 218.1L401.5 217.7L402.1 216.5L402.6 216.4L403.2 216.3L403.7 214.6L404.3 213.9L404.8 213.6L405.4 211.6L405.9 210.8L406.5 211.3L407.1 210.7L407.6 210.5L408.2 210.2L408.7 209.9L409.3 209.2L409.8 208.9L410.4 207.8L410.9 206.7L411.5 206.5L412.0 207.0L412.6 205.2L413.2 205.1L413.7 203.3L414.3 202.8L414.8 202.8L415.4 201.3L415.9 202.2L416.5 201.4L417.0 200.3L417.6 199.8L418.1 199.4L418.7 199.6L419.3 197.7L419.8 198.2L420.4 199.2L420.9 197.8L421.5 195.8L422.0 195.3L422.6 195.1L423.1 194.4L423.7 193.5L424.2 193.4L424.8 193.2L425.4 192.7L425.9 192.5L426.5 191.1L427.0 190.9L427.6 190.1L428.1 190.4L428.7 190.6L429.2 188.1L429.8 187.5L430.3 187.5L430.9 187.4L431.5 187.6L432.0 186.6L432.6 188.1L433.1 187.0L433.7 185.6L434.2 186.6L434.8 188.5L435.3 188.0L435.9 186.8L436.4 184.6L437.0 182.5L437.6 182.7L438.1 182.2L438.7 181.3L439.2 181.5L439.8 179.4L440.3 179.9L440.9 178.8L441.4 178.7L442.0 178.6L442.5 178.9L443.1 179.1L443.6 177.8L444.2 177.2L444.8 177.0L445.3 177.6L445.9 178.0L446.4 177.7L447.0 178.0L447.5 177.6L448.1 178.1L448.6 176.1L449.2 177.0L449.7 178.6L450.3 177.0L450.9 175.0L451.4 175.1L452.0 172.5L452.5 172.4L453.1 170.3L453.6 169.2L454.2 167.7L454.7 167.5L455.3 166.3L455.8 168.8L456.4 167.7L457.0 169.3L457.5 169.7L458.1 170.8L458.6 170.1L459.2 169.6L459.7 170.0L460.3 169.7L460.8 169.0L461.4 167.5L461.9 166.7L462.5 167.9L463.1 168.5L463.6 168.3L464.2 166.7L464.7 167.7L465.3 167.5L465.8 166.0L466.4 166.6L466.9 167.1L467.5 167.9L468.0 167.1L468.6 167.1L469.2 165.0L469.7 165.8L470.3 166.0L470.8 166.2L471.4 165.8L471.9 165.3L472.5 164.0L473.0 165.1L473.6 165.3L474.1 165.1L474.7 164.4L475.3 164.2L475.8 164.3L476.4 163.4L476.9 163.7L477.5 163.6L478.0 164.1L478.6 164.0L479.1 163.3" stroke="#747474" stroke-width="3.2" fill="none" stroke-linejoin="round" stroke-linecap="round"/>
<path d="M312.8 264.5L313.1 262.8L313.5 263.6L313.8 264.6L314.1 263.2L314.5 262.1L314.8 261.7L315.1 259.0L315.5 260.0L315.8 259.0L316.1 258.9L316.5 260.0L316.8 258.4L317.1 257.6L317.5 256.3L317.8 259.2L318.1 260.4L318.5 257.7L318.8 257.1L319.1 256.7L319.5 256.8L319.8 257.2L320.1 257.1L320.5 257.0L320.8 258.0L321.1 257.5L321.4 259.1L321.8 257.6L322.1 257.3L322.4 258.7L322.8 258.3L323.1 258.1L323.4 258.0L323.8 258.6L324.1 256.2L324.4 257.2L324.8 256.7L325.1 257.5L325.4 256.5L325.8 255.6L326.1 254.4L326.4 254.7L326.8 256.8L327.1 255.0L327.4 255.4L327.8 255.5L328.1 256.1L328.4 257.1L328.8 255.8L329.1 256.2L329.4 255.5L329.8 253.4L330.1 254.0L330.4 253.6L330.8 253.1L331.1 256.2L331.4 256.2L331.8 254.2L332.1 253.8L332.4 255.3L332.8 257.7L333.1 255.5L333.4 253.9L333.8 255.9L334.1 254.1L334.4 254.9L334.8 255.5L335.1 253.5L335.4 254.1L335.8 255.3L336.1 253.6L336.4 252.0L336.8 250.8L337.1 253.1L337.4 250.7L337.8 251.4L338.1 251.3L338.4 252.2L338.7 252.1L339.1 252.1L339.4 251.1L339.7 251.2L340.1 252.5L340.4 251.3L340.7 251.1L341.1 249.2L341.4 249.3L341.7 248.3L342.1 248.3L342.4 251.1L342.7 250.2L343.1 248.3L343.4 249.5L343.7 247.7L344.1 248.6L344.4 247.6L344.7 246.7L345.1 246.9L345.4 247.8L345.7 247.2L346.1 246.9L346.4 247.8L346.7 245.1L347.1 244.9L347.4 243.7L347.7 241.8L348.1 243.0L348.4 240.2L348.7 243.7L349.1 243.9L349.4 243.5L349.7 245.1L350.1 244.6L350.4 246.1L350.7 244.3L351.1 245.2L351.4 243.0L351.7 245.1L352.1 244.6L352.4 244.6L352.7 245.3L353.1 244.7L353.4 244.9L353.7 244.8L354.1 242.9L354.4 242.7L354.7 240.8L355.0 240.0L355.4 242.6L355.7 242.4L356.0 242.2L356.4 243.9L356.7 242.2L357.0 244.4L357.4 243.2L357.7 240.3L358.0 240.8L358.4 240.7L358.7 239.4L359.0 238.8L359.4 239.0L359.7 239.2L360.0 239.9L360.4 238.5L360.7 237.1L361.0 236.5L361.4 238.1L361.7 236.6L362.0 236.0L362.4 235.9L362.7 233.9L363.0 235.8L363.4 234.6L363.7 233.6L364.0 233.8L364.4 235.5L364.7 231.8L365.0 231.4L365.4 229.1L365.7 229.6L366.0 229.3L366.4 228.6L366.7 227.9L367.0 225.7L367.4 226.2L367.7 224.9L368.0 225.1L368.4 223.6L368.7 223.3L369.0 221.2L369.4 220.0L369.7 220.2L370.0 219.7L370.4 219.2L370.7 220.1L371.0 220.4L371.3 218.5L371.7 217.3L372.0 216.9L372.3 216.8L372.7 216.7L373.0 215.3L373.3 216.3L373.7 213.4L374.0 214.6L374.3 215.1L374.7 213.6L375.0 215.0L375.3 212.7L375.7 214.0L376.0 212.0L376.3 209.8L376.7 210.7L377.0 212.5L377.3 211.4L377.7 212.2L378.0 210.9L378.3 212.6L378.7 211.8L379.0 212.8L379.3 215.8L379.7 217.0L380.0 214.9L380.3 214.8L380.7 212.2L381.0 210.2L381.3 207.9L381.7 208.9L382.0 207.4L382.3 208.7L382.7 207.3L383.0 208.0L383.3 208.2L383.7 207.2L384.0 208.3L384.3 207.4L384.7 206.0L385.0 207.8L385.3 207.1L385.7 206.3L386.0 205.9L386.3 206.0L386.7 204.8L387.0 207.3L387.3 205.6L387.6 206.3L388.0 207.2L388.3 207.0L388.6 206.6L389.0 207.3L389.3 207.2L389.6 206.1L390.0 204.3L390.3 203.4L390.6 202.7L391.0 206.7L391.3 206.2L391.6 205.6L392.0 205.6L392.3 205.0L392.6 205.9L393.0 205.8L393.3 203.5L393.6 203.6L394.0 205.2L394.3 203.5L394.6 200.8L395.0 201.5L395.3 203.1L395.6 200.0L396.0 203.3L396.3 203.1L396.6 202.0L397.0 202.1L397.3 200.9L397.6 201.1L398.0 200.9L398.3 201.4L398.6 201.5L399.0 202.1L399.3 202.0L399.6 201.4L400.0 201.6L400.3 201.6L400.6 200.7L401.0 198.4L401.3 199.5L401.6 200.5L402.0 199.6L402.3 198.9L402.6 200.0L403.0 200.0L403.3 199.3L403.6 200.4L404.0 197.6L404.3 196.9L404.6 199.0L404.9 197.2L405.3 197.5L405.6 196.5L405.9 197.1L406.3 198.6L406.6 199.7L406.9 200.5L407.3 201.0L407.6 208.2L407.9 203.7L408.3 201.9L408.6 198.2L408.9 195.7L409.3 195.7L409.6 193.9L409.9 195.0L410.3 194.1L410.6 191.8L410.9 190.9L411.3 189.6L411.6 189.5L411.9 189.5L412.3 188.9L412.6 187.6L412.9 186.3L413.3 184.6L413.6 184.0L413.9 184.5L414.3 181.9L414.6 180.2L414.9 180.5L415.3 180.0L415.6 179.2L415.9 178.2L416.3 178.5L416.6 178.6L416.9 176.7L417.3 178.1L417.6 177.0L417.9 177.9L418.3 178.2L418.6 178.5L418.9 179.6L419.3 178.3L419.6 181.1L419.9 179.0L420.3 179.3L420.6 182.4L420.9 180.6L421.2 179.9L421.6 180.0L421.9 181.2L422.2 180.7L422.6 180.3L422.9 181.6L423.2 180.9L423.6 180.2L423.9 179.3L424.2 180.2L424.6 180.4L424.9 179.5L425.2 181.6L425.6 180.7L425.9 179.6L426.2 180.2L426.6 179.9L426.9 178.1L427.2 177.8L427.6 179.3L427.9 179.2L428.2 178.7L428.6 176.9L428.9 177.1L429.2 178.3L429.6 178.8L429.9 178.6L430.2 179.4L430.6 178.1L430.9 178.5L431.2 176.8L431.6 177.9L431.9 178.0L432.2 177.2L432.6 177.0L432.9 176.9L433.2 176.6L433.6 178.7L433.9 178.8L434.2 176.8L434.6 178.0L434.9 177.3L435.2 177.4L435.6 175.2L435.9 177.7L436.2 178.2L436.6 177.6L436.9 177.3L437.2 176.3L437.6 174.9L437.9 173.9L438.2 174.9L438.5 176.3L438.9 174.1L439.2 175.2L439.5 173.9L439.9 174.8L440.2 173.7L440.5 174.4L440.9 176.5L441.2 175.7L441.5 174.7L441.9 173.9L442.2 173.8L442.5 174.0L442.9 172.4L443.2 174.2L443.5 173.1L443.9 172.9L444.2 173.9L444.5 175.2L444.9 174.8L445.2 175.0L445.5 174.1L445.9 173.5L446.2 175.0L446.5 176.0L446.9 174.5L447.2 174.9L447.5 173.5L447.9 173.9L448.2 174.9L448.5 173.8L448.9 175.8L449.2 173.4L449.5 174.3L449.9 172.6L450.2 174.3L450.5 174.3L450.9 173.3L451.2 173.9L451.5 173.9L451.9 172.9L452.2 173.7L452.5 174.9L452.9 174.0L453.2 172.9L453.5 173.7L453.9 173.6L454.2 174.5L454.5 173.7L454.8 172.7L455.2 172.6L455.5 171.7L455.8 174.1L456.2 172.4L456.5 172.1L456.8 174.2L457.2 172.3L457.5 173.6L457.8 170.7L458.2 170.4L458.5 171.0L458.8 171.0L459.2 171.7L459.5 170.7L459.8 172.2L460.2 171.4L460.5 172.4L460.8 170.0L461.2 172.0L461.5 172.3L461.8 170.5L462.2 171.1L462.5 172.3L462.8 173.7L463.2 171.7L463.5 174.3L463.8 173.9L464.2 173.6L464.5 171.9L464.8 171.4L465.2 170.8L465.5 170.6L465.8 171.6L466.2 169.7L466.5 171.6L466.8 171.8L467.2 171.3L467.5 170.2L467.8 170.2L468.2 168.9L468.5 171.9L468.8 170.0L469.2 170.6L469.5 169.8L469.8 171.2L470.2 172.9L470.5 170.4L470.8 170.9L471.1 172.9L471.5 172.1L471.8 171.1L472.1 170.8L472.5 170.2L472.8 170.1L473.1 169.2L473.5 170.3L473.8 170.2L474.1 170.4L474.5 172.1L474.8 172.1L475.1 172.5L475.5 172.9L475.8 173.0L476.1 173.4L476.5 173.5L476.8 175.0L477.1 173.9L477.5 175.3L477.8 175.7L478.1 174.8L478.5 178.9L478.8 177.1L479.1 179.5" stroke="#0c0c0c" stroke-width="2.5" fill="none" stroke-linejoin="round" stroke-linecap="round"/>
<text transform="translate(280.0 212.8) rotate(-90)" font-size="7.0" text-anchor="middle" fill="#111" stroke="#111" stroke-width="0.2">F fibrin (x10<tspan font-size="5" dy="-2.5">3</tspan><tspan dy="2.5">)</tspan></text>
<text x="398" y="292.5" font-size="7.3" text-anchor="middle" font-weight="bold" fill="#111" stroke="#111" stroke-width="0.3" >sec</text>
<text x="410" y="183.5" font-size="7" text-anchor="middle" font-weight="bold" fill="#111" stroke="#111" stroke-width="0.3" >1</text>
<text x="393" y="217" font-size="7" text-anchor="middle" font-weight="bold" fill="#111" stroke="#111" stroke-width="0.3" >2</text>
<text x="439.5" y="242" font-size="7" text-anchor="middle" font-weight="bold" fill="#333" stroke="#333" stroke-width="0.3" >3</text>
<path d="M483.5 162h4.5V220.7h-4.5" stroke="#777" stroke-width="0.85" fill="none"/>
<text x="493.4" y="193.8" font-size="7.5" text-anchor="middle" font-weight="bold" fill="#111" stroke="#111" stroke-width="0.3" >*</text>
</svg>
</body></html>
